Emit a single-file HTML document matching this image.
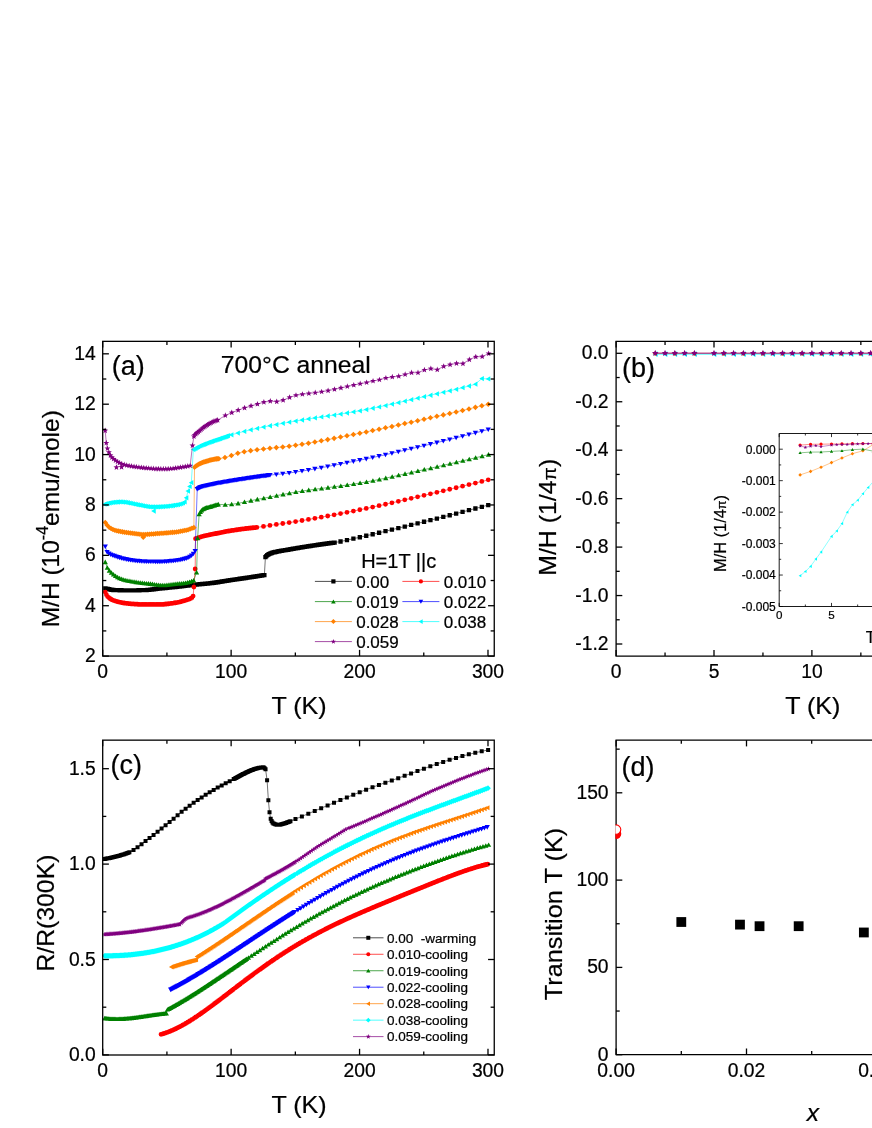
<!DOCTYPE html>
<html lang="en">
<head>
<meta charset="utf-8">
<title>Figure</title>
<style>
html,body{margin:0;padding:0;background:#fff;}
body{width:872px;height:1128px;overflow:hidden;font-family:"Liberation Sans",sans-serif;}
svg text{font-family:"Liberation Sans",sans-serif;stroke:#000;stroke-width:0.22px;}
svg{filter:blur(0.35px);}
</style>
</head>
<body>
<svg width="872" height="1128" viewBox="0 0 872 1128" style="display:block;font-family:'Liberation Sans', sans-serif">
<rect width="872" height="1128" fill="#fff"/>
<g id="pa">
<path d="M105.27 588.34L106.17 588.56L107.07 588.79L107.97 589.01L108.86 589.22L109.76 589.41L110.66 589.59L111.56 589.75L112.46 589.89L113.36 590L114.26 590.07L115.16 590.11L116.06 590.14L116.96 590.17L117.85 590.19L118.75 590.21L119.65 590.24L120.55 590.26L121.45 590.27L122.35 590.29L123.25 590.3L124.15 590.32L125.05 590.33L125.95 590.34L126.84 590.34L127.74 590.35L128.64 590.35L129.54 590.35L130.44 590.35L131.34 590.35L132.24 590.35L133.14 590.34L134.04 590.33L134.94 590.32L135.83 590.31L136.73 590.29L137.63 590.28L138.53 590.26L139.43 590.24L140.33 590.22L141.23 590.2L142.13 590.18L143.03 590.16L143.93 590.13L144.83 590.11L145.72 590.08L146.62 590.03L147.52 589.97L148.42 589.89L149.32 589.81L150.22 589.71L151.12 589.6L152.02 589.49L152.92 589.38L153.82 589.26L154.71 589.14L155.61 589.02L156.51 588.9L157.41 588.79L158.31 588.69L159.21 588.59L160.11 588.5L161.01 588.41L161.91 588.32L162.81 588.23L163.7 588.15L164.6 588.06L165.5 587.98L166.4 587.89L167.3 587.81L168.2 587.72L169.1 587.63L170 587.55L170.9 587.46L171.8 587.37L172.69 587.28L173.59 587.19L174.49 587.09L175.39 587L176.29 586.9L177.19 586.8L178.09 586.69L178.99 586.59L179.89 586.48L180.79 586.37L181.68 586.26L182.58 586.15L183.48 586.04L184.38 585.93L185.28 585.82L186.18 585.71L187.08 585.6L187.98 585.49L188.88 585.38L189.78 585.28L190.67 585.17L191.57 585.07L192.47 584.97L193.37 584.87L194.27 584.77L195.17 584.68L196.07 584.59L196.97 584.5L197.87 584.42L198.77 584.33L199.66 584.25L200.56 584.17L201.46 584.09L202.36 584.01L203.26 583.92L204.16 583.84L205.06 583.76L205.96 583.67L206.86 583.59L207.76 583.5L208.65 583.41L209.55 583.31L210.45 583.21L211.35 583.11L212.25 583L213.15 582.89L214.05 582.77L214.95 582.64L215.85 582.52L216.75 582.38L217.64 582.25L218.54 582.1L219.44 581.96L220.34 581.82L221.24 581.67L222.14 581.52L223.04 581.37L223.94 581.22L224.84 581.08L225.74 580.93L226.63 580.78L227.53 580.64L228.43 580.5L229.33 580.36L230.23 580.22L231.13 580.09L232.03 579.95L232.93 579.82L233.83 579.69L234.73 579.55L235.63 579.42L236.52 579.29L237.42 579.16L238.32 579.03L239.22 578.9L240.12 578.77L241.02 578.64L241.92 578.51L242.82 578.38L243.72 578.25L244.62 578.12L245.51 577.98L246.41 577.85L247.31 577.72L248.21 577.58L249.11 577.45L250.01 577.31L250.91 577.18L251.81 577.04L252.71 576.9L253.61 576.76L254.5 576.63L255.4 576.49L256.3 576.35L257.2 576.21L258.1 576.07L259 575.93L259.9 575.78L260.8 575.64L261.7 575.5L262.6 575.36L263.49 575.21L264.39 575.07L265.42 557.1L266.32 556.09L267.22 555.21L268.12 554.6L269.02 554.11L269.92 553.69L270.81 553.32L271.71 553L272.61 552.72L273.51 552.46L274.41 552.23L275.31 552L276.21 551.8L277.11 551.6L278.01 551.42L278.91 551.24L279.8 551.08L280.7 550.92L281.6 550.76L282.5 550.61L283.4 550.47L284.3 550.32L285.2 550.17L286.1 550.03L287 549.88L287.9 549.73L288.8 549.57L289.69 549.41L290.59 549.25L291.49 549.09L292.39 548.93L293.29 548.77L294.19 548.61L295.09 548.46L295.99 548.3L296.89 548.15L297.79 547.99L298.68 547.84L299.58 547.69L300.48 547.54L301.38 547.39L302.28 547.25L303.18 547.1L304.08 546.96L304.98 546.82L305.88 546.67L306.78 546.53L307.67 546.4L308.57 546.26L309.47 546.12L310.37 545.98L311.27 545.84L312.17 545.71L313.07 545.57L313.97 545.43L314.87 545.3L315.77 545.17L316.66 545.03L317.56 544.9L318.46 544.77L319.36 544.64L320.26 544.51L321.16 544.38L322.06 544.25L322.96 544.12L323.86 544L324.76 543.87L325.65 543.75L326.55 543.62L327.45 543.5L328.35 543.38L329.25 543.26L330.15 543.14L331.05 543.02L331.95 542.9L332.85 542.79L333.75 542.67L334.64 542.56L340.55 541.49L346.97 540.14L353.4 538.7L359.82 537.23L366.24 535.76L372.66 534.26L379.08 532.75L385.5 531.22L391.92 529.68L398.35 528.12L404.77 526.55L411.19 524.97L417.61 523.37L424.03 521.77L430.45 520.16L436.87 518.53L443.3 516.89L449.72 515.24L456.14 513.58L462.56 511.9L468.98 510.21L475.4 508.51L481.83 506.79L488.25 505.06" fill="none" stroke="#000000" stroke-width="0.55" />
<path d="M103.12 586.19h4.3v4.3h-4.3zM104.02 586.41h4.3v4.3h-4.3zM104.92 586.64h4.3v4.3h-4.3zM105.82 586.86h4.3v4.3h-4.3zM106.71 587.07h4.3v4.3h-4.3zM107.61 587.26h4.3v4.3h-4.3zM108.51 587.44h4.3v4.3h-4.3zM109.41 587.6h4.3v4.3h-4.3zM110.31 587.74h4.3v4.3h-4.3zM111.21 587.85h4.3v4.3h-4.3zM112.11 587.92h4.3v4.3h-4.3zM113.01 587.96h4.3v4.3h-4.3zM113.91 587.99h4.3v4.3h-4.3zM114.81 588.02h4.3v4.3h-4.3zM115.7 588.04h4.3v4.3h-4.3zM116.6 588.06h4.3v4.3h-4.3zM117.5 588.09h4.3v4.3h-4.3zM118.4 588.11h4.3v4.3h-4.3zM119.3 588.12h4.3v4.3h-4.3zM120.2 588.14h4.3v4.3h-4.3zM121.1 588.15h4.3v4.3h-4.3zM122 588.17h4.3v4.3h-4.3zM122.9 588.18h4.3v4.3h-4.3zM123.8 588.19h4.3v4.3h-4.3zM124.69 588.19h4.3v4.3h-4.3zM125.59 588.2h4.3v4.3h-4.3zM126.49 588.2h4.3v4.3h-4.3zM127.39 588.2h4.3v4.3h-4.3zM128.29 588.2h4.3v4.3h-4.3zM129.19 588.2h4.3v4.3h-4.3zM130.09 588.2h4.3v4.3h-4.3zM130.99 588.19h4.3v4.3h-4.3zM131.89 588.18h4.3v4.3h-4.3zM132.79 588.17h4.3v4.3h-4.3zM133.68 588.16h4.3v4.3h-4.3zM134.58 588.14h4.3v4.3h-4.3zM135.48 588.13h4.3v4.3h-4.3zM136.38 588.11h4.3v4.3h-4.3zM137.28 588.09h4.3v4.3h-4.3zM138.18 588.07h4.3v4.3h-4.3zM139.08 588.05h4.3v4.3h-4.3zM139.98 588.03h4.3v4.3h-4.3zM140.88 588.01h4.3v4.3h-4.3zM141.78 587.98h4.3v4.3h-4.3zM142.68 587.96h4.3v4.3h-4.3zM143.57 587.93h4.3v4.3h-4.3zM144.47 587.88h4.3v4.3h-4.3zM145.37 587.82h4.3v4.3h-4.3zM146.27 587.74h4.3v4.3h-4.3zM147.17 587.66h4.3v4.3h-4.3zM148.07 587.56h4.3v4.3h-4.3zM148.97 587.45h4.3v4.3h-4.3zM149.87 587.34h4.3v4.3h-4.3zM150.77 587.23h4.3v4.3h-4.3zM151.67 587.11h4.3v4.3h-4.3zM152.56 586.99h4.3v4.3h-4.3zM153.46 586.87h4.3v4.3h-4.3zM154.36 586.75h4.3v4.3h-4.3zM155.26 586.64h4.3v4.3h-4.3zM156.16 586.54h4.3v4.3h-4.3zM157.06 586.44h4.3v4.3h-4.3zM157.96 586.35h4.3v4.3h-4.3zM158.86 586.26h4.3v4.3h-4.3zM159.76 586.17h4.3v4.3h-4.3zM160.66 586.08h4.3v4.3h-4.3zM161.55 586h4.3v4.3h-4.3zM162.45 585.91h4.3v4.3h-4.3zM163.35 585.83h4.3v4.3h-4.3zM164.25 585.74h4.3v4.3h-4.3zM165.15 585.66h4.3v4.3h-4.3zM166.05 585.57h4.3v4.3h-4.3zM166.95 585.48h4.3v4.3h-4.3zM167.85 585.4h4.3v4.3h-4.3zM168.75 585.31h4.3v4.3h-4.3zM169.65 585.22h4.3v4.3h-4.3zM170.54 585.13h4.3v4.3h-4.3zM171.44 585.04h4.3v4.3h-4.3zM172.34 584.94h4.3v4.3h-4.3zM173.24 584.85h4.3v4.3h-4.3zM174.14 584.75h4.3v4.3h-4.3zM175.04 584.65h4.3v4.3h-4.3zM175.94 584.54h4.3v4.3h-4.3zM176.84 584.44h4.3v4.3h-4.3zM177.74 584.33h4.3v4.3h-4.3zM178.64 584.22h4.3v4.3h-4.3zM179.53 584.11h4.3v4.3h-4.3zM180.43 584h4.3v4.3h-4.3zM181.33 583.89h4.3v4.3h-4.3zM182.23 583.78h4.3v4.3h-4.3zM183.13 583.67h4.3v4.3h-4.3zM184.03 583.56h4.3v4.3h-4.3zM184.93 583.45h4.3v4.3h-4.3zM185.83 583.34h4.3v4.3h-4.3zM186.73 583.23h4.3v4.3h-4.3zM187.63 583.13h4.3v4.3h-4.3zM188.52 583.02h4.3v4.3h-4.3zM189.42 582.92h4.3v4.3h-4.3zM190.32 582.82h4.3v4.3h-4.3zM191.22 582.72h4.3v4.3h-4.3zM192.12 582.62h4.3v4.3h-4.3zM193.02 582.53h4.3v4.3h-4.3zM193.92 582.44h4.3v4.3h-4.3zM194.82 582.35h4.3v4.3h-4.3zM195.72 582.27h4.3v4.3h-4.3zM196.62 582.18h4.3v4.3h-4.3zM197.51 582.1h4.3v4.3h-4.3zM198.41 582.02h4.3v4.3h-4.3zM199.31 581.94h4.3v4.3h-4.3zM200.21 581.86h4.3v4.3h-4.3zM201.11 581.77h4.3v4.3h-4.3zM202.01 581.69h4.3v4.3h-4.3zM202.91 581.61h4.3v4.3h-4.3zM203.81 581.52h4.3v4.3h-4.3zM204.71 581.44h4.3v4.3h-4.3zM205.61 581.35h4.3v4.3h-4.3zM206.5 581.26h4.3v4.3h-4.3zM207.4 581.16h4.3v4.3h-4.3zM208.3 581.06h4.3v4.3h-4.3zM209.2 580.96h4.3v4.3h-4.3zM210.1 580.85h4.3v4.3h-4.3zM211 580.74h4.3v4.3h-4.3zM211.9 580.62h4.3v4.3h-4.3zM212.8 580.49h4.3v4.3h-4.3zM213.7 580.37h4.3v4.3h-4.3zM214.6 580.23h4.3v4.3h-4.3zM215.49 580.1h4.3v4.3h-4.3zM216.39 579.95h4.3v4.3h-4.3zM217.29 579.81h4.3v4.3h-4.3zM218.19 579.67h4.3v4.3h-4.3zM219.09 579.52h4.3v4.3h-4.3zM219.99 579.37h4.3v4.3h-4.3zM220.89 579.22h4.3v4.3h-4.3zM221.79 579.07h4.3v4.3h-4.3zM222.69 578.93h4.3v4.3h-4.3zM223.59 578.78h4.3v4.3h-4.3zM224.48 578.63h4.3v4.3h-4.3zM225.38 578.49h4.3v4.3h-4.3zM226.28 578.35h4.3v4.3h-4.3zM227.18 578.21h4.3v4.3h-4.3zM228.08 578.07h4.3v4.3h-4.3zM228.98 577.94h4.3v4.3h-4.3zM229.88 577.8h4.3v4.3h-4.3zM230.78 577.67h4.3v4.3h-4.3zM231.68 577.54h4.3v4.3h-4.3zM232.58 577.4h4.3v4.3h-4.3zM233.48 577.27h4.3v4.3h-4.3zM234.37 577.14h4.3v4.3h-4.3zM235.27 577.01h4.3v4.3h-4.3zM236.17 576.88h4.3v4.3h-4.3zM237.07 576.75h4.3v4.3h-4.3zM237.97 576.62h4.3v4.3h-4.3zM238.87 576.49h4.3v4.3h-4.3zM239.77 576.36h4.3v4.3h-4.3zM240.67 576.23h4.3v4.3h-4.3zM241.57 576.1h4.3v4.3h-4.3zM242.47 575.97h4.3v4.3h-4.3zM243.36 575.83h4.3v4.3h-4.3zM244.26 575.7h4.3v4.3h-4.3zM245.16 575.57h4.3v4.3h-4.3zM246.06 575.43h4.3v4.3h-4.3zM246.96 575.3h4.3v4.3h-4.3zM247.86 575.16h4.3v4.3h-4.3zM248.76 575.03h4.3v4.3h-4.3zM249.66 574.89h4.3v4.3h-4.3zM250.56 574.75h4.3v4.3h-4.3zM251.46 574.61h4.3v4.3h-4.3zM252.35 574.48h4.3v4.3h-4.3zM253.25 574.34h4.3v4.3h-4.3zM254.15 574.2h4.3v4.3h-4.3zM255.05 574.06h4.3v4.3h-4.3zM255.95 573.92h4.3v4.3h-4.3zM256.85 573.78h4.3v4.3h-4.3zM257.75 573.63h4.3v4.3h-4.3zM258.65 573.49h4.3v4.3h-4.3zM259.55 573.35h4.3v4.3h-4.3zM260.45 573.21h4.3v4.3h-4.3zM261.34 573.06h4.3v4.3h-4.3zM262.24 572.92h4.3v4.3h-4.3zM263.27 554.95h4.3v4.3h-4.3zM264.17 553.94h4.3v4.3h-4.3zM265.07 553.06h4.3v4.3h-4.3zM265.97 552.45h4.3v4.3h-4.3zM266.87 551.96h4.3v4.3h-4.3zM267.77 551.54h4.3v4.3h-4.3zM268.66 551.17h4.3v4.3h-4.3zM269.56 550.85h4.3v4.3h-4.3zM270.46 550.57h4.3v4.3h-4.3zM271.36 550.31h4.3v4.3h-4.3zM272.26 550.08h4.3v4.3h-4.3zM273.16 549.85h4.3v4.3h-4.3zM274.06 549.65h4.3v4.3h-4.3zM274.96 549.45h4.3v4.3h-4.3zM275.86 549.27h4.3v4.3h-4.3zM276.76 549.09h4.3v4.3h-4.3zM277.65 548.93h4.3v4.3h-4.3zM278.55 548.77h4.3v4.3h-4.3zM279.45 548.61h4.3v4.3h-4.3zM280.35 548.46h4.3v4.3h-4.3zM281.25 548.32h4.3v4.3h-4.3zM282.15 548.17h4.3v4.3h-4.3zM283.05 548.02h4.3v4.3h-4.3zM283.95 547.88h4.3v4.3h-4.3zM284.85 547.73h4.3v4.3h-4.3zM285.75 547.58h4.3v4.3h-4.3zM286.65 547.42h4.3v4.3h-4.3zM287.54 547.26h4.3v4.3h-4.3zM288.44 547.1h4.3v4.3h-4.3zM289.34 546.94h4.3v4.3h-4.3zM290.24 546.78h4.3v4.3h-4.3zM291.14 546.62h4.3v4.3h-4.3zM292.04 546.46h4.3v4.3h-4.3zM292.94 546.31h4.3v4.3h-4.3zM293.84 546.15h4.3v4.3h-4.3zM294.74 546h4.3v4.3h-4.3zM295.64 545.84h4.3v4.3h-4.3zM296.53 545.69h4.3v4.3h-4.3zM297.43 545.54h4.3v4.3h-4.3zM298.33 545.39h4.3v4.3h-4.3zM299.23 545.24h4.3v4.3h-4.3zM300.13 545.1h4.3v4.3h-4.3zM301.03 544.95h4.3v4.3h-4.3zM301.93 544.81h4.3v4.3h-4.3zM302.83 544.67h4.3v4.3h-4.3zM303.73 544.52h4.3v4.3h-4.3zM304.63 544.38h4.3v4.3h-4.3zM305.52 544.25h4.3v4.3h-4.3zM306.42 544.11h4.3v4.3h-4.3zM307.32 543.97h4.3v4.3h-4.3zM308.22 543.83h4.3v4.3h-4.3zM309.12 543.69h4.3v4.3h-4.3zM310.02 543.56h4.3v4.3h-4.3zM310.92 543.42h4.3v4.3h-4.3zM311.82 543.28h4.3v4.3h-4.3zM312.72 543.15h4.3v4.3h-4.3zM313.62 543.02h4.3v4.3h-4.3zM314.51 542.88h4.3v4.3h-4.3zM315.41 542.75h4.3v4.3h-4.3zM316.31 542.62h4.3v4.3h-4.3zM317.21 542.49h4.3v4.3h-4.3zM318.11 542.36h4.3v4.3h-4.3zM319.01 542.23h4.3v4.3h-4.3zM319.91 542.1h4.3v4.3h-4.3zM320.81 541.97h4.3v4.3h-4.3zM321.71 541.85h4.3v4.3h-4.3zM322.61 541.72h4.3v4.3h-4.3zM323.5 541.6h4.3v4.3h-4.3zM324.4 541.47h4.3v4.3h-4.3zM325.3 541.35h4.3v4.3h-4.3zM326.2 541.23h4.3v4.3h-4.3zM327.1 541.11h4.3v4.3h-4.3zM328 540.99h4.3v4.3h-4.3zM328.9 540.87h4.3v4.3h-4.3zM329.8 540.75h4.3v4.3h-4.3zM330.7 540.64h4.3v4.3h-4.3zM331.6 540.52h4.3v4.3h-4.3zM332.49 540.41h4.3v4.3h-4.3zM338.4 539.34h4.3v4.3h-4.3zM344.82 537.99h4.3v4.3h-4.3zM351.25 536.55h4.3v4.3h-4.3zM357.67 535.08h4.3v4.3h-4.3zM364.09 533.61h4.3v4.3h-4.3zM370.51 532.11h4.3v4.3h-4.3zM376.93 530.6h4.3v4.3h-4.3zM383.35 529.07h4.3v4.3h-4.3zM389.77 527.53h4.3v4.3h-4.3zM396.2 525.97h4.3v4.3h-4.3zM402.62 524.4h4.3v4.3h-4.3zM409.04 522.82h4.3v4.3h-4.3zM415.46 521.22h4.3v4.3h-4.3zM421.88 519.62h4.3v4.3h-4.3zM428.3 518.01h4.3v4.3h-4.3zM434.72 516.38h4.3v4.3h-4.3zM441.15 514.74h4.3v4.3h-4.3zM447.57 513.09h4.3v4.3h-4.3zM453.99 511.43h4.3v4.3h-4.3zM460.41 509.75h4.3v4.3h-4.3zM466.83 508.06h4.3v4.3h-4.3zM473.25 506.36h4.3v4.3h-4.3zM479.68 504.64h4.3v4.3h-4.3zM486.1 502.91h4.3v4.3h-4.3z" fill="#000000" />
<path d="M105.27 592.12L106.42 594.73L107.58 596.53L108.74 597.61L109.89 598.51L111.05 599.26L112.2 599.89L113.36 600.4L114.52 600.81L115.67 601.16L116.83 601.49L117.98 601.79L119.14 602.08L120.29 602.34L121.45 602.58L122.61 602.8L123.76 603L124.92 603.17L126.07 603.33L127.23 603.47L128.39 603.59L129.54 603.69L130.7 603.78L131.85 603.87L133.01 603.96L134.17 604.04L135.32 604.11L136.48 604.18L137.63 604.25L138.79 604.3L139.94 604.35L141.1 604.39L142.26 604.43L143.41 604.45L144.57 604.46L145.72 604.46L146.88 604.46L148.04 604.46L149.19 604.46L150.35 604.46L151.5 604.46L152.66 604.46L153.82 604.46L154.97 604.46L156.13 604.46L157.28 604.46L158.44 604.46L159.59 604.46L160.75 604.44L161.91 604.39L163.06 604.33L164.22 604.24L165.37 604.14L166.53 604.02L167.69 603.89L168.84 603.75L170 603.6L171.15 603.44L172.31 603.28L173.46 603.11L174.62 602.95L175.78 602.77L176.93 602.57L178.09 602.34L179.24 602.08L180.4 601.81L181.56 601.52L182.71 601.2L183.87 600.88L185.02 600.53L186.18 600.18L187.34 599.83L188.49 599.46L189.65 599.03L190.8 598.47L191.96 597.69L193.11 596.09L193.89 587.08L195.17 568.94L195.55 538.71L196.71 538.31L197.87 537.91L199.02 537.53L200.18 537.15L201.33 536.8L202.49 536.46L203.65 536.14L204.8 535.85L205.96 535.57L207.11 535.31L208.27 535.06L209.43 534.82L210.58 534.58L211.74 534.36L212.89 534.14L214.05 533.92L215.2 533.7L216.36 533.49L217.52 533.27L218.67 533.05L219.83 532.82L220.98 532.58L222.14 532.35L223.3 532.11L224.45 531.87L225.61 531.64L226.76 531.42L227.92 531.21L229.08 531.01L230.23 530.82L231.39 530.64L232.54 530.46L233.7 530.28L234.85 530.11L236.01 529.93L237.17 529.76L238.32 529.59L239.48 529.43L240.63 529.27L241.79 529.11L242.95 528.95L244.1 528.8L245.26 528.65L246.41 528.51L247.57 528.37L248.72 528.23L249.88 528.1L251.04 527.98L252.19 527.86L253.35 527.74L254.5 527.63L255.66 527.53L256.82 527.43L263.49 526.37L269.92 525.39L276.34 524.45L282.76 523.53L289.18 522.59L295.6 521.59L302.02 520.52L308.44 519.43L314.87 518.32L321.29 517.17L327.71 516L334.13 514.8L340.55 513.58L346.97 512.33L353.4 511.06L359.82 509.77L366.24 508.45L372.66 507.08L379.08 505.68L385.5 504.25L391.92 502.79L398.35 501.32L404.77 499.82L411.19 498.33L417.61 496.83L424.03 495.33L430.45 493.83L436.87 492.32L443.3 490.8L449.72 489.27L456.14 487.73L462.56 486.17L468.98 484.61L475.4 483.04L481.83 481.46L488.25 479.87" fill="none" stroke="#ff0000" stroke-width="0.55" />
<path d="M102.87 592.12a2.4 2.4 0 1 0 4.8 0a2.4 2.4 0 1 0 -4.8 0zM104.02 594.73a2.4 2.4 0 1 0 4.8 0a2.4 2.4 0 1 0 -4.8 0zM105.18 596.53a2.4 2.4 0 1 0 4.8 0a2.4 2.4 0 1 0 -4.8 0zM106.34 597.61a2.4 2.4 0 1 0 4.8 0a2.4 2.4 0 1 0 -4.8 0zM107.49 598.51a2.4 2.4 0 1 0 4.8 0a2.4 2.4 0 1 0 -4.8 0zM108.65 599.26a2.4 2.4 0 1 0 4.8 0a2.4 2.4 0 1 0 -4.8 0zM109.8 599.89a2.4 2.4 0 1 0 4.8 0a2.4 2.4 0 1 0 -4.8 0zM110.96 600.4a2.4 2.4 0 1 0 4.8 0a2.4 2.4 0 1 0 -4.8 0zM112.12 600.81a2.4 2.4 0 1 0 4.8 0a2.4 2.4 0 1 0 -4.8 0zM113.27 601.16a2.4 2.4 0 1 0 4.8 0a2.4 2.4 0 1 0 -4.8 0zM114.43 601.49a2.4 2.4 0 1 0 4.8 0a2.4 2.4 0 1 0 -4.8 0zM115.58 601.79a2.4 2.4 0 1 0 4.8 0a2.4 2.4 0 1 0 -4.8 0zM116.74 602.08a2.4 2.4 0 1 0 4.8 0a2.4 2.4 0 1 0 -4.8 0zM117.89 602.34a2.4 2.4 0 1 0 4.8 0a2.4 2.4 0 1 0 -4.8 0zM119.05 602.58a2.4 2.4 0 1 0 4.8 0a2.4 2.4 0 1 0 -4.8 0zM120.21 602.8a2.4 2.4 0 1 0 4.8 0a2.4 2.4 0 1 0 -4.8 0zM121.36 603a2.4 2.4 0 1 0 4.8 0a2.4 2.4 0 1 0 -4.8 0zM122.52 603.17a2.4 2.4 0 1 0 4.8 0a2.4 2.4 0 1 0 -4.8 0zM123.67 603.33a2.4 2.4 0 1 0 4.8 0a2.4 2.4 0 1 0 -4.8 0zM124.83 603.47a2.4 2.4 0 1 0 4.8 0a2.4 2.4 0 1 0 -4.8 0zM125.99 603.59a2.4 2.4 0 1 0 4.8 0a2.4 2.4 0 1 0 -4.8 0zM127.14 603.69a2.4 2.4 0 1 0 4.8 0a2.4 2.4 0 1 0 -4.8 0zM128.3 603.78a2.4 2.4 0 1 0 4.8 0a2.4 2.4 0 1 0 -4.8 0zM129.45 603.87a2.4 2.4 0 1 0 4.8 0a2.4 2.4 0 1 0 -4.8 0zM130.61 603.96a2.4 2.4 0 1 0 4.8 0a2.4 2.4 0 1 0 -4.8 0zM131.77 604.04a2.4 2.4 0 1 0 4.8 0a2.4 2.4 0 1 0 -4.8 0zM132.92 604.11a2.4 2.4 0 1 0 4.8 0a2.4 2.4 0 1 0 -4.8 0zM134.08 604.18a2.4 2.4 0 1 0 4.8 0a2.4 2.4 0 1 0 -4.8 0zM135.23 604.25a2.4 2.4 0 1 0 4.8 0a2.4 2.4 0 1 0 -4.8 0zM136.39 604.3a2.4 2.4 0 1 0 4.8 0a2.4 2.4 0 1 0 -4.8 0zM137.54 604.35a2.4 2.4 0 1 0 4.8 0a2.4 2.4 0 1 0 -4.8 0zM138.7 604.39a2.4 2.4 0 1 0 4.8 0a2.4 2.4 0 1 0 -4.8 0zM139.86 604.43a2.4 2.4 0 1 0 4.8 0a2.4 2.4 0 1 0 -4.8 0zM141.01 604.45a2.4 2.4 0 1 0 4.8 0a2.4 2.4 0 1 0 -4.8 0zM142.17 604.46a2.4 2.4 0 1 0 4.8 0a2.4 2.4 0 1 0 -4.8 0zM143.32 604.46a2.4 2.4 0 1 0 4.8 0a2.4 2.4 0 1 0 -4.8 0zM144.48 604.46a2.4 2.4 0 1 0 4.8 0a2.4 2.4 0 1 0 -4.8 0zM145.64 604.46a2.4 2.4 0 1 0 4.8 0a2.4 2.4 0 1 0 -4.8 0zM146.79 604.46a2.4 2.4 0 1 0 4.8 0a2.4 2.4 0 1 0 -4.8 0zM147.95 604.46a2.4 2.4 0 1 0 4.8 0a2.4 2.4 0 1 0 -4.8 0zM149.1 604.46a2.4 2.4 0 1 0 4.8 0a2.4 2.4 0 1 0 -4.8 0zM150.26 604.46a2.4 2.4 0 1 0 4.8 0a2.4 2.4 0 1 0 -4.8 0zM151.42 604.46a2.4 2.4 0 1 0 4.8 0a2.4 2.4 0 1 0 -4.8 0zM152.57 604.46a2.4 2.4 0 1 0 4.8 0a2.4 2.4 0 1 0 -4.8 0zM153.73 604.46a2.4 2.4 0 1 0 4.8 0a2.4 2.4 0 1 0 -4.8 0zM154.88 604.46a2.4 2.4 0 1 0 4.8 0a2.4 2.4 0 1 0 -4.8 0zM156.04 604.46a2.4 2.4 0 1 0 4.8 0a2.4 2.4 0 1 0 -4.8 0zM157.19 604.46a2.4 2.4 0 1 0 4.8 0a2.4 2.4 0 1 0 -4.8 0zM158.35 604.44a2.4 2.4 0 1 0 4.8 0a2.4 2.4 0 1 0 -4.8 0zM159.51 604.39a2.4 2.4 0 1 0 4.8 0a2.4 2.4 0 1 0 -4.8 0zM160.66 604.33a2.4 2.4 0 1 0 4.8 0a2.4 2.4 0 1 0 -4.8 0zM161.82 604.24a2.4 2.4 0 1 0 4.8 0a2.4 2.4 0 1 0 -4.8 0zM162.97 604.14a2.4 2.4 0 1 0 4.8 0a2.4 2.4 0 1 0 -4.8 0zM164.13 604.02a2.4 2.4 0 1 0 4.8 0a2.4 2.4 0 1 0 -4.8 0zM165.29 603.89a2.4 2.4 0 1 0 4.8 0a2.4 2.4 0 1 0 -4.8 0zM166.44 603.75a2.4 2.4 0 1 0 4.8 0a2.4 2.4 0 1 0 -4.8 0zM167.6 603.6a2.4 2.4 0 1 0 4.8 0a2.4 2.4 0 1 0 -4.8 0zM168.75 603.44a2.4 2.4 0 1 0 4.8 0a2.4 2.4 0 1 0 -4.8 0zM169.91 603.28a2.4 2.4 0 1 0 4.8 0a2.4 2.4 0 1 0 -4.8 0zM171.06 603.11a2.4 2.4 0 1 0 4.8 0a2.4 2.4 0 1 0 -4.8 0zM172.22 602.95a2.4 2.4 0 1 0 4.8 0a2.4 2.4 0 1 0 -4.8 0zM173.38 602.77a2.4 2.4 0 1 0 4.8 0a2.4 2.4 0 1 0 -4.8 0zM174.53 602.57a2.4 2.4 0 1 0 4.8 0a2.4 2.4 0 1 0 -4.8 0zM175.69 602.34a2.4 2.4 0 1 0 4.8 0a2.4 2.4 0 1 0 -4.8 0zM176.84 602.08a2.4 2.4 0 1 0 4.8 0a2.4 2.4 0 1 0 -4.8 0zM178 601.81a2.4 2.4 0 1 0 4.8 0a2.4 2.4 0 1 0 -4.8 0zM179.16 601.52a2.4 2.4 0 1 0 4.8 0a2.4 2.4 0 1 0 -4.8 0zM180.31 601.2a2.4 2.4 0 1 0 4.8 0a2.4 2.4 0 1 0 -4.8 0zM181.47 600.88a2.4 2.4 0 1 0 4.8 0a2.4 2.4 0 1 0 -4.8 0zM182.62 600.53a2.4 2.4 0 1 0 4.8 0a2.4 2.4 0 1 0 -4.8 0zM183.78 600.18a2.4 2.4 0 1 0 4.8 0a2.4 2.4 0 1 0 -4.8 0zM184.94 599.83a2.4 2.4 0 1 0 4.8 0a2.4 2.4 0 1 0 -4.8 0zM186.09 599.46a2.4 2.4 0 1 0 4.8 0a2.4 2.4 0 1 0 -4.8 0zM187.25 599.03a2.4 2.4 0 1 0 4.8 0a2.4 2.4 0 1 0 -4.8 0zM188.4 598.47a2.4 2.4 0 1 0 4.8 0a2.4 2.4 0 1 0 -4.8 0zM189.56 597.69a2.4 2.4 0 1 0 4.8 0a2.4 2.4 0 1 0 -4.8 0zM190.71 596.09a2.4 2.4 0 1 0 4.8 0a2.4 2.4 0 1 0 -4.8 0zM191.49 587.08a2.4 2.4 0 1 0 4.8 0a2.4 2.4 0 1 0 -4.8 0zM192.77 568.94a2.4 2.4 0 1 0 4.8 0a2.4 2.4 0 1 0 -4.8 0zM193.15 538.71a2.4 2.4 0 1 0 4.8 0a2.4 2.4 0 1 0 -4.8 0zM194.31 538.31a2.4 2.4 0 1 0 4.8 0a2.4 2.4 0 1 0 -4.8 0zM195.47 537.91a2.4 2.4 0 1 0 4.8 0a2.4 2.4 0 1 0 -4.8 0zM196.62 537.53a2.4 2.4 0 1 0 4.8 0a2.4 2.4 0 1 0 -4.8 0zM197.78 537.15a2.4 2.4 0 1 0 4.8 0a2.4 2.4 0 1 0 -4.8 0zM198.93 536.8a2.4 2.4 0 1 0 4.8 0a2.4 2.4 0 1 0 -4.8 0zM200.09 536.46a2.4 2.4 0 1 0 4.8 0a2.4 2.4 0 1 0 -4.8 0zM201.25 536.14a2.4 2.4 0 1 0 4.8 0a2.4 2.4 0 1 0 -4.8 0zM202.4 535.85a2.4 2.4 0 1 0 4.8 0a2.4 2.4 0 1 0 -4.8 0zM203.56 535.57a2.4 2.4 0 1 0 4.8 0a2.4 2.4 0 1 0 -4.8 0zM204.71 535.31a2.4 2.4 0 1 0 4.8 0a2.4 2.4 0 1 0 -4.8 0zM205.87 535.06a2.4 2.4 0 1 0 4.8 0a2.4 2.4 0 1 0 -4.8 0zM207.03 534.82a2.4 2.4 0 1 0 4.8 0a2.4 2.4 0 1 0 -4.8 0zM208.18 534.58a2.4 2.4 0 1 0 4.8 0a2.4 2.4 0 1 0 -4.8 0zM209.34 534.36a2.4 2.4 0 1 0 4.8 0a2.4 2.4 0 1 0 -4.8 0zM210.49 534.14a2.4 2.4 0 1 0 4.8 0a2.4 2.4 0 1 0 -4.8 0zM211.65 533.92a2.4 2.4 0 1 0 4.8 0a2.4 2.4 0 1 0 -4.8 0zM212.8 533.7a2.4 2.4 0 1 0 4.8 0a2.4 2.4 0 1 0 -4.8 0zM213.96 533.49a2.4 2.4 0 1 0 4.8 0a2.4 2.4 0 1 0 -4.8 0zM215.12 533.27a2.4 2.4 0 1 0 4.8 0a2.4 2.4 0 1 0 -4.8 0zM216.27 533.05a2.4 2.4 0 1 0 4.8 0a2.4 2.4 0 1 0 -4.8 0zM217.43 532.82a2.4 2.4 0 1 0 4.8 0a2.4 2.4 0 1 0 -4.8 0zM218.58 532.58a2.4 2.4 0 1 0 4.8 0a2.4 2.4 0 1 0 -4.8 0zM219.74 532.35a2.4 2.4 0 1 0 4.8 0a2.4 2.4 0 1 0 -4.8 0zM220.9 532.11a2.4 2.4 0 1 0 4.8 0a2.4 2.4 0 1 0 -4.8 0zM222.05 531.87a2.4 2.4 0 1 0 4.8 0a2.4 2.4 0 1 0 -4.8 0zM223.21 531.64a2.4 2.4 0 1 0 4.8 0a2.4 2.4 0 1 0 -4.8 0zM224.36 531.42a2.4 2.4 0 1 0 4.8 0a2.4 2.4 0 1 0 -4.8 0zM225.52 531.21a2.4 2.4 0 1 0 4.8 0a2.4 2.4 0 1 0 -4.8 0zM226.68 531.01a2.4 2.4 0 1 0 4.8 0a2.4 2.4 0 1 0 -4.8 0zM227.83 530.82a2.4 2.4 0 1 0 4.8 0a2.4 2.4 0 1 0 -4.8 0zM228.99 530.64a2.4 2.4 0 1 0 4.8 0a2.4 2.4 0 1 0 -4.8 0zM230.14 530.46a2.4 2.4 0 1 0 4.8 0a2.4 2.4 0 1 0 -4.8 0zM231.3 530.28a2.4 2.4 0 1 0 4.8 0a2.4 2.4 0 1 0 -4.8 0zM232.45 530.11a2.4 2.4 0 1 0 4.8 0a2.4 2.4 0 1 0 -4.8 0zM233.61 529.93a2.4 2.4 0 1 0 4.8 0a2.4 2.4 0 1 0 -4.8 0zM234.77 529.76a2.4 2.4 0 1 0 4.8 0a2.4 2.4 0 1 0 -4.8 0zM235.92 529.59a2.4 2.4 0 1 0 4.8 0a2.4 2.4 0 1 0 -4.8 0zM237.08 529.43a2.4 2.4 0 1 0 4.8 0a2.4 2.4 0 1 0 -4.8 0zM238.23 529.27a2.4 2.4 0 1 0 4.8 0a2.4 2.4 0 1 0 -4.8 0zM239.39 529.11a2.4 2.4 0 1 0 4.8 0a2.4 2.4 0 1 0 -4.8 0zM240.55 528.95a2.4 2.4 0 1 0 4.8 0a2.4 2.4 0 1 0 -4.8 0zM241.7 528.8a2.4 2.4 0 1 0 4.8 0a2.4 2.4 0 1 0 -4.8 0zM242.86 528.65a2.4 2.4 0 1 0 4.8 0a2.4 2.4 0 1 0 -4.8 0zM244.01 528.51a2.4 2.4 0 1 0 4.8 0a2.4 2.4 0 1 0 -4.8 0zM245.17 528.37a2.4 2.4 0 1 0 4.8 0a2.4 2.4 0 1 0 -4.8 0zM246.32 528.23a2.4 2.4 0 1 0 4.8 0a2.4 2.4 0 1 0 -4.8 0zM247.48 528.1a2.4 2.4 0 1 0 4.8 0a2.4 2.4 0 1 0 -4.8 0zM248.64 527.98a2.4 2.4 0 1 0 4.8 0a2.4 2.4 0 1 0 -4.8 0zM249.79 527.86a2.4 2.4 0 1 0 4.8 0a2.4 2.4 0 1 0 -4.8 0zM250.95 527.74a2.4 2.4 0 1 0 4.8 0a2.4 2.4 0 1 0 -4.8 0zM252.1 527.63a2.4 2.4 0 1 0 4.8 0a2.4 2.4 0 1 0 -4.8 0zM253.26 527.53a2.4 2.4 0 1 0 4.8 0a2.4 2.4 0 1 0 -4.8 0zM254.42 527.43a2.4 2.4 0 1 0 4.8 0a2.4 2.4 0 1 0 -4.8 0zM261.09 526.37a2.4 2.4 0 1 0 4.8 0a2.4 2.4 0 1 0 -4.8 0zM267.52 525.39a2.4 2.4 0 1 0 4.8 0a2.4 2.4 0 1 0 -4.8 0zM273.94 524.45a2.4 2.4 0 1 0 4.8 0a2.4 2.4 0 1 0 -4.8 0zM280.36 523.53a2.4 2.4 0 1 0 4.8 0a2.4 2.4 0 1 0 -4.8 0zM286.78 522.59a2.4 2.4 0 1 0 4.8 0a2.4 2.4 0 1 0 -4.8 0zM293.2 521.59a2.4 2.4 0 1 0 4.8 0a2.4 2.4 0 1 0 -4.8 0zM299.62 520.52a2.4 2.4 0 1 0 4.8 0a2.4 2.4 0 1 0 -4.8 0zM306.04 519.43a2.4 2.4 0 1 0 4.8 0a2.4 2.4 0 1 0 -4.8 0zM312.47 518.32a2.4 2.4 0 1 0 4.8 0a2.4 2.4 0 1 0 -4.8 0zM318.89 517.17a2.4 2.4 0 1 0 4.8 0a2.4 2.4 0 1 0 -4.8 0zM325.31 516a2.4 2.4 0 1 0 4.8 0a2.4 2.4 0 1 0 -4.8 0zM331.73 514.8a2.4 2.4 0 1 0 4.8 0a2.4 2.4 0 1 0 -4.8 0zM338.15 513.58a2.4 2.4 0 1 0 4.8 0a2.4 2.4 0 1 0 -4.8 0zM344.57 512.33a2.4 2.4 0 1 0 4.8 0a2.4 2.4 0 1 0 -4.8 0zM351 511.06a2.4 2.4 0 1 0 4.8 0a2.4 2.4 0 1 0 -4.8 0zM357.42 509.77a2.4 2.4 0 1 0 4.8 0a2.4 2.4 0 1 0 -4.8 0zM363.84 508.45a2.4 2.4 0 1 0 4.8 0a2.4 2.4 0 1 0 -4.8 0zM370.26 507.08a2.4 2.4 0 1 0 4.8 0a2.4 2.4 0 1 0 -4.8 0zM376.68 505.68a2.4 2.4 0 1 0 4.8 0a2.4 2.4 0 1 0 -4.8 0zM383.1 504.25a2.4 2.4 0 1 0 4.8 0a2.4 2.4 0 1 0 -4.8 0zM389.52 502.79a2.4 2.4 0 1 0 4.8 0a2.4 2.4 0 1 0 -4.8 0zM395.95 501.32a2.4 2.4 0 1 0 4.8 0a2.4 2.4 0 1 0 -4.8 0zM402.37 499.82a2.4 2.4 0 1 0 4.8 0a2.4 2.4 0 1 0 -4.8 0zM408.79 498.33a2.4 2.4 0 1 0 4.8 0a2.4 2.4 0 1 0 -4.8 0zM415.21 496.83a2.4 2.4 0 1 0 4.8 0a2.4 2.4 0 1 0 -4.8 0zM421.63 495.33a2.4 2.4 0 1 0 4.8 0a2.4 2.4 0 1 0 -4.8 0zM428.05 493.83a2.4 2.4 0 1 0 4.8 0a2.4 2.4 0 1 0 -4.8 0zM434.47 492.32a2.4 2.4 0 1 0 4.8 0a2.4 2.4 0 1 0 -4.8 0zM440.9 490.8a2.4 2.4 0 1 0 4.8 0a2.4 2.4 0 1 0 -4.8 0zM447.32 489.27a2.4 2.4 0 1 0 4.8 0a2.4 2.4 0 1 0 -4.8 0zM453.74 487.73a2.4 2.4 0 1 0 4.8 0a2.4 2.4 0 1 0 -4.8 0zM460.16 486.17a2.4 2.4 0 1 0 4.8 0a2.4 2.4 0 1 0 -4.8 0zM466.58 484.61a2.4 2.4 0 1 0 4.8 0a2.4 2.4 0 1 0 -4.8 0zM473 483.04a2.4 2.4 0 1 0 4.8 0a2.4 2.4 0 1 0 -4.8 0zM479.43 481.46a2.4 2.4 0 1 0 4.8 0a2.4 2.4 0 1 0 -4.8 0zM485.85 479.87a2.4 2.4 0 1 0 4.8 0a2.4 2.4 0 1 0 -4.8 0z" fill="#ff0000" />
<path d="M105.27 562.14L107.32 567.72L109.38 570.63L111.43 572.81L113.49 574.5L115.54 575.92L117.6 577.17L119.65 578.23L121.71 579.06L123.76 579.68L125.82 580.21L127.87 580.67L129.93 581.08L131.98 581.45L134.04 581.78L136.09 582.1L138.15 582.41L140.2 582.69L142.26 582.94L144.31 583.18L146.37 583.41L148.42 583.63L150.48 583.86L152.53 584.1L154.59 584.4L156.64 584.73L158.7 585.03L160.75 585.25L162.81 585.31L164.86 585.23L166.92 585.05L168.97 584.8L171.02 584.51L173.08 584.24L175.13 584L177.19 583.81L179.24 583.62L181.3 583.43L183.35 583.2L185.41 582.92L187.46 582.54L189.52 582L191.57 581.31L193.63 580.52L196.58 572.47L197.61 538.21L199.15 514.28L200.31 512.01L201.59 510.41L202.88 509.24L204.16 508.59L205.44 508.06L206.73 507.63L208.01 507.26L209.3 506.92L210.58 506.59L211.87 506.22L213.15 505.83L214.43 505.45L215.72 505.08L217 504.72L218.29 504.37L225.22 504.71L231.64 504.33L238.07 503.37L244.49 502.06L250.91 500.64L257.33 499.37L263.75 498.19L270.17 496.93L276.59 495.65L283.02 494.39L289.44 493.18L295.86 492.07L302.28 491.07L308.7 490.14L315.12 489.26L321.54 488.42L327.97 487.59L334.39 486.76L340.81 485.91L347.23 485.02L353.65 484.06L360.07 483.02L366.5 481.9L372.92 480.69L379.34 479.42L385.76 478.09L392.18 476.71L398.6 475.31L405.02 473.88L411.45 472.44L417.87 471L424.29 469.58L430.71 468.16L437.13 466.71L443.55 465.26L449.97 463.78L456.4 462.29L462.82 460.79L469.24 459.27L475.66 457.73L482.08 456.18L488.5 454.61" fill="none" stroke="#008000" stroke-width="0.55" />
<path d="M105.27 559.62L107.91 564.18L102.63 564.18zM107.32 565.2L109.96 569.76L104.68 569.76zM109.38 568.11L112.02 572.67L106.74 572.67zM111.43 570.29L114.07 574.85L108.79 574.85zM113.49 571.98L116.13 576.54L110.85 576.54zM115.54 573.4L118.18 577.96L112.9 577.96zM117.6 574.65L120.24 579.21L114.96 579.21zM119.65 575.71L122.29 580.27L117.01 580.27zM121.71 576.54L124.35 581.1L119.07 581.1zM123.76 577.16L126.4 581.72L121.12 581.72zM125.82 577.69L128.46 582.25L123.18 582.25zM127.87 578.15L130.51 582.71L125.23 582.71zM129.93 578.56L132.57 583.12L127.29 583.12zM131.98 578.93L134.62 583.49L129.34 583.49zM134.04 579.26L136.68 583.82L131.4 583.82zM136.09 579.58L138.73 584.14L133.45 584.14zM138.15 579.89L140.79 584.45L135.51 584.45zM140.2 580.17L142.84 584.73L137.56 584.73zM142.26 580.42L144.9 584.98L139.62 584.98zM144.31 580.66L146.95 585.22L141.67 585.22zM146.37 580.89L149.01 585.45L143.73 585.45zM148.42 581.11L151.06 585.67L145.78 585.67zM150.48 581.34L153.12 585.9L147.84 585.9zM152.53 581.58L155.17 586.14L149.89 586.14zM154.59 581.88L157.23 586.44L151.95 586.44zM156.64 582.21L159.28 586.77L154 586.77zM158.7 582.51L161.34 587.07L156.06 587.07zM160.75 582.73L163.39 587.29L158.11 587.29zM162.81 582.79L165.45 587.35L160.17 587.35zM164.86 582.71L167.5 587.27L162.22 587.27zM166.92 582.53L169.56 587.09L164.28 587.09zM168.97 582.28L171.61 586.84L166.33 586.84zM171.02 581.99L173.66 586.55L168.38 586.55zM173.08 581.72L175.72 586.28L170.44 586.28zM175.13 581.48L177.77 586.04L172.49 586.04zM177.19 581.29L179.83 585.85L174.55 585.85zM179.24 581.1L181.88 585.66L176.6 585.66zM181.3 580.91L183.94 585.47L178.66 585.47zM183.35 580.68L185.99 585.24L180.71 585.24zM185.41 580.4L188.05 584.96L182.77 584.96zM187.46 580.02L190.1 584.58L184.82 584.58zM189.52 579.48L192.16 584.04L186.88 584.04zM191.57 578.79L194.21 583.35L188.93 583.35zM193.63 578L196.27 582.56L190.99 582.56zM196.58 569.95L199.22 574.51L193.94 574.51zM197.61 535.69L200.25 540.25L194.97 540.25zM199.15 511.76L201.79 516.32L196.51 516.32zM200.31 509.49L202.95 514.05L197.67 514.05zM201.59 507.89L204.23 512.45L198.95 512.45zM202.88 506.72L205.52 511.28L200.24 511.28zM204.16 506.07L206.8 510.63L201.52 510.63zM205.44 505.54L208.08 510.1L202.8 510.1zM206.73 505.11L209.37 509.67L204.09 509.67zM208.01 504.74L210.65 509.3L205.37 509.3zM209.3 504.4L211.94 508.96L206.66 508.96zM210.58 504.07L213.22 508.63L207.94 508.63zM211.87 503.7L214.51 508.26L209.23 508.26zM213.15 503.31L215.79 507.87L210.51 507.87zM214.43 502.93L217.07 507.49L211.79 507.49zM215.72 502.56L218.36 507.12L213.08 507.12zM217 502.2L219.64 506.76L214.36 506.76zM218.29 501.85L220.93 506.41L215.65 506.41zM225.22 502.19L227.86 506.75L222.58 506.75zM231.64 501.81L234.28 506.37L229 506.37zM238.07 500.85L240.71 505.41L235.43 505.41zM244.49 499.54L247.13 504.1L241.85 504.1zM250.91 498.12L253.55 502.68L248.27 502.68zM257.33 496.85L259.97 501.41L254.69 501.41zM263.75 495.67L266.39 500.23L261.11 500.23zM270.17 494.41L272.81 498.97L267.53 498.97zM276.59 493.13L279.23 497.69L273.95 497.69zM283.02 491.87L285.66 496.43L280.38 496.43zM289.44 490.66L292.08 495.22L286.8 495.22zM295.86 489.55L298.5 494.11L293.22 494.11zM302.28 488.55L304.92 493.11L299.64 493.11zM308.7 487.62L311.34 492.18L306.06 492.18zM315.12 486.74L317.76 491.3L312.48 491.3zM321.54 485.9L324.18 490.46L318.9 490.46zM327.97 485.07L330.61 489.63L325.33 489.63zM334.39 484.24L337.03 488.8L331.75 488.8zM340.81 483.39L343.45 487.95L338.17 487.95zM347.23 482.5L349.87 487.06L344.59 487.06zM353.65 481.54L356.29 486.1L351.01 486.1zM360.07 480.5L362.71 485.06L357.43 485.06zM366.5 479.38L369.14 483.94L363.86 483.94zM372.92 478.17L375.56 482.73L370.28 482.73zM379.34 476.9L381.98 481.46L376.7 481.46zM385.76 475.57L388.4 480.13L383.12 480.13zM392.18 474.19L394.82 478.75L389.54 478.75zM398.6 472.79L401.24 477.35L395.96 477.35zM405.02 471.36L407.66 475.92L402.38 475.92zM411.45 469.92L414.09 474.48L408.81 474.48zM417.87 468.48L420.51 473.04L415.23 473.04zM424.29 467.06L426.93 471.62L421.65 471.62zM430.71 465.64L433.35 470.2L428.07 470.2zM437.13 464.19L439.77 468.75L434.49 468.75zM443.55 462.74L446.19 467.3L440.91 467.3zM449.97 461.26L452.61 465.82L447.33 465.82zM456.4 459.77L459.04 464.33L453.76 464.33zM462.82 458.27L465.46 462.83L460.18 462.83zM469.24 456.75L471.88 461.31L466.6 461.31zM475.66 455.21L478.3 459.77L473.02 459.77zM482.08 453.66L484.72 458.22L479.44 458.22zM488.5 452.09L491.14 456.65L485.86 456.65z" fill="#008000" />
<path d="M105.27 546.52L107.07 551.99L108.86 553.56L110.66 554.58L112.46 555.29L114.26 555.87L116.06 556.51L117.85 557.11L119.65 557.66L121.45 558.17L123.25 558.63L125.05 559.04L126.84 559.41L128.64 559.72L130.44 559.98L132.24 560.23L134.04 560.46L135.83 560.68L137.63 560.87L139.43 561.04L141.23 561.19L143.03 561.3L144.83 561.38L146.62 561.43L148.42 561.48L150.22 561.52L152.02 561.56L153.82 561.59L155.61 561.62L157.41 561.63L159.21 561.64L161.01 561.62L162.81 561.56L164.6 561.48L166.4 561.36L168.2 561.23L170 561.08L171.8 560.91L173.59 560.73L175.39 560.55L177.19 560.32L178.99 560.05L180.79 559.72L182.58 559.33L184.38 558.88L186.18 558.36L187.98 557.67L189.78 556.71L191.57 555.45L193.37 553.76L195.17 550.97L197.22 489.09L198.38 488.2L199.54 487.61L200.69 487.15L201.85 486.74L203 486.37L204.16 486.04L205.32 485.75L206.47 485.47L207.63 485.21L208.78 484.96L209.94 484.72L211.09 484.47L212.25 484.22L213.41 483.97L214.56 483.73L215.72 483.49L216.87 483.27L218.03 483.05L219.19 482.83L220.34 482.62L221.5 482.42L222.65 482.22L223.81 482.02L224.97 481.82L226.12 481.63L227.28 481.43L228.43 481.24L229.59 481.04L230.74 480.85L231.9 480.66L233.06 480.47L234.21 480.28L235.37 480.09L236.52 479.9L237.68 479.71L238.84 479.52L239.99 479.34L241.15 479.15L242.3 478.97L243.46 478.79L244.62 478.61L245.77 478.43L246.93 478.25L248.08 478.07L249.24 477.9L250.39 477.72L251.55 477.55L252.71 477.38L253.86 477.21L255.02 477.04L256.17 476.88L257.33 476.71L258.49 476.55L259.64 476.39L260.8 476.23L261.95 476.07L263.11 475.91L264.26 475.76L265.42 475.61L266.58 475.46L267.73 475.31L268.89 475.16L270.04 475.02L276.34 474.48L282.76 473.77L289.18 472.96L295.6 472.05L302.02 471.06L308.44 470L314.87 468.87L321.29 467.7L327.71 466.48L334.13 465.24L340.55 463.97L346.97 462.69L353.4 461.41L359.82 460.15L366.24 458.86L372.66 457.52L379.08 456.14L385.5 454.72L391.92 453.26L398.35 451.78L404.77 450.28L411.19 448.76L417.61 447.23L424.03 445.7L430.45 444.16L436.87 442.61L443.3 441.03L449.72 439.44L456.14 437.82L462.56 436.19L468.98 434.54L475.4 432.88L481.83 431.19L488.25 429.49" fill="none" stroke="#0000ff" stroke-width="0.55" />
<path d="M105.27 549.04L107.91 544.48L102.63 544.48zM107.07 554.51L109.71 549.95L104.43 549.95zM108.86 556.08L111.5 551.52L106.22 551.52zM110.66 557.1L113.3 552.54L108.02 552.54zM112.46 557.81L115.1 553.25L109.82 553.25zM114.26 558.39L116.9 553.83L111.62 553.83zM116.06 559.03L118.7 554.47L113.42 554.47zM117.85 559.63L120.49 555.07L115.21 555.07zM119.65 560.18L122.29 555.62L117.01 555.62zM121.45 560.69L124.09 556.13L118.81 556.13zM123.25 561.15L125.89 556.59L120.61 556.59zM125.05 561.56L127.69 557L122.41 557zM126.84 561.93L129.48 557.37L124.2 557.37zM128.64 562.24L131.28 557.68L126 557.68zM130.44 562.5L133.08 557.94L127.8 557.94zM132.24 562.75L134.88 558.19L129.6 558.19zM134.04 562.98L136.68 558.42L131.4 558.42zM135.83 563.2L138.47 558.64L133.19 558.64zM137.63 563.39L140.27 558.83L134.99 558.83zM139.43 563.56L142.07 559L136.79 559zM141.23 563.71L143.87 559.15L138.59 559.15zM143.03 563.82L145.67 559.26L140.39 559.26zM144.83 563.9L147.47 559.34L142.19 559.34zM146.62 563.95L149.26 559.39L143.98 559.39zM148.42 564L151.06 559.44L145.78 559.44zM150.22 564.04L152.86 559.48L147.58 559.48zM152.02 564.08L154.66 559.52L149.38 559.52zM153.82 564.11L156.46 559.55L151.18 559.55zM155.61 564.14L158.25 559.58L152.97 559.58zM157.41 564.15L160.05 559.59L154.77 559.59zM159.21 564.16L161.85 559.6L156.57 559.6zM161.01 564.14L163.65 559.58L158.37 559.58zM162.81 564.08L165.45 559.52L160.17 559.52zM164.6 564L167.24 559.44L161.96 559.44zM166.4 563.88L169.04 559.32L163.76 559.32zM168.2 563.75L170.84 559.19L165.56 559.19zM170 563.6L172.64 559.04L167.36 559.04zM171.8 563.43L174.44 558.87L169.16 558.87zM173.59 563.25L176.23 558.69L170.95 558.69zM175.39 563.07L178.03 558.51L172.75 558.51zM177.19 562.84L179.83 558.28L174.55 558.28zM178.99 562.57L181.63 558.01L176.35 558.01zM180.79 562.24L183.43 557.68L178.15 557.68zM182.58 561.85L185.22 557.29L179.94 557.29zM184.38 561.4L187.02 556.84L181.74 556.84zM186.18 560.88L188.82 556.32L183.54 556.32zM187.98 560.19L190.62 555.63L185.34 555.63zM189.78 559.23L192.42 554.67L187.14 554.67zM191.57 557.97L194.21 553.41L188.93 553.41zM193.37 556.28L196.01 551.72L190.73 551.72zM195.17 553.49L197.81 548.93L192.53 548.93zM197.22 491.61L199.86 487.05L194.58 487.05zM198.38 490.72L201.02 486.16L195.74 486.16zM199.54 490.13L202.18 485.57L196.9 485.57zM200.69 489.67L203.33 485.11L198.05 485.11zM201.85 489.26L204.49 484.7L199.21 484.7zM203 488.89L205.64 484.33L200.36 484.33zM204.16 488.56L206.8 484L201.52 484zM205.32 488.27L207.96 483.71L202.68 483.71zM206.47 487.99L209.11 483.43L203.83 483.43zM207.63 487.73L210.27 483.17L204.99 483.17zM208.78 487.48L211.42 482.92L206.14 482.92zM209.94 487.24L212.58 482.68L207.3 482.68zM211.09 486.99L213.73 482.43L208.45 482.43zM212.25 486.74L214.89 482.18L209.61 482.18zM213.41 486.49L216.05 481.93L210.77 481.93zM214.56 486.25L217.2 481.69L211.92 481.69zM215.72 486.01L218.36 481.45L213.08 481.45zM216.87 485.79L219.51 481.23L214.23 481.23zM218.03 485.57L220.67 481.01L215.39 481.01zM219.19 485.35L221.83 480.79L216.55 480.79zM220.34 485.14L222.98 480.58L217.7 480.58zM221.5 484.94L224.14 480.38L218.86 480.38zM222.65 484.74L225.29 480.18L220.01 480.18zM223.81 484.54L226.45 479.98L221.17 479.98zM224.97 484.34L227.61 479.78L222.33 479.78zM226.12 484.15L228.76 479.59L223.48 479.59zM227.28 483.95L229.92 479.39L224.64 479.39zM228.43 483.76L231.07 479.2L225.79 479.2zM229.59 483.56L232.23 479L226.95 479zM230.74 483.37L233.38 478.81L228.1 478.81zM231.9 483.18L234.54 478.62L229.26 478.62zM233.06 482.99L235.7 478.43L230.42 478.43zM234.21 482.8L236.85 478.24L231.57 478.24zM235.37 482.61L238.01 478.05L232.73 478.05zM236.52 482.42L239.16 477.86L233.88 477.86zM237.68 482.23L240.32 477.67L235.04 477.67zM238.84 482.04L241.48 477.48L236.2 477.48zM239.99 481.86L242.63 477.3L237.35 477.3zM241.15 481.67L243.79 477.11L238.51 477.11zM242.3 481.49L244.94 476.93L239.66 476.93zM243.46 481.31L246.1 476.75L240.82 476.75zM244.62 481.13L247.26 476.57L241.98 476.57zM245.77 480.95L248.41 476.39L243.13 476.39zM246.93 480.77L249.57 476.21L244.29 476.21zM248.08 480.59L250.72 476.03L245.44 476.03zM249.24 480.42L251.88 475.86L246.6 475.86zM250.39 480.24L253.03 475.68L247.75 475.68zM251.55 480.07L254.19 475.51L248.91 475.51zM252.71 479.9L255.35 475.34L250.07 475.34zM253.86 479.73L256.5 475.17L251.22 475.17zM255.02 479.56L257.66 475L252.38 475zM256.17 479.4L258.81 474.84L253.53 474.84zM257.33 479.23L259.97 474.67L254.69 474.67zM258.49 479.07L261.13 474.51L255.85 474.51zM259.64 478.91L262.28 474.35L257 474.35zM260.8 478.75L263.44 474.19L258.16 474.19zM261.95 478.59L264.59 474.03L259.31 474.03zM263.11 478.43L265.75 473.87L260.47 473.87zM264.26 478.28L266.9 473.72L261.62 473.72zM265.42 478.13L268.06 473.57L262.78 473.57zM266.58 477.98L269.22 473.42L263.94 473.42zM267.73 477.83L270.37 473.27L265.09 473.27zM268.89 477.68L271.53 473.12L266.25 473.12zM270.04 477.54L272.68 472.98L267.4 472.98zM276.34 477L278.98 472.44L273.7 472.44zM282.76 476.29L285.4 471.73L280.12 471.73zM289.18 475.48L291.82 470.92L286.54 470.92zM295.6 474.57L298.24 470.01L292.96 470.01zM302.02 473.58L304.66 469.02L299.38 469.02zM308.44 472.52L311.08 467.96L305.8 467.96zM314.87 471.39L317.51 466.83L312.23 466.83zM321.29 470.22L323.93 465.66L318.65 465.66zM327.71 469L330.35 464.44L325.07 464.44zM334.13 467.76L336.77 463.2L331.49 463.2zM340.55 466.49L343.19 461.93L337.91 461.93zM346.97 465.21L349.61 460.65L344.33 460.65zM353.4 463.93L356.04 459.37L350.76 459.37zM359.82 462.67L362.46 458.11L357.18 458.11zM366.24 461.38L368.88 456.82L363.6 456.82zM372.66 460.04L375.3 455.48L370.02 455.48zM379.08 458.66L381.72 454.1L376.44 454.1zM385.5 457.24L388.14 452.68L382.86 452.68zM391.92 455.78L394.56 451.22L389.28 451.22zM398.35 454.3L400.99 449.74L395.71 449.74zM404.77 452.8L407.41 448.24L402.13 448.24zM411.19 451.28L413.83 446.72L408.55 446.72zM417.61 449.75L420.25 445.19L414.97 445.19zM424.03 448.22L426.67 443.66L421.39 443.66zM430.45 446.68L433.09 442.12L427.81 442.12zM436.87 445.13L439.51 440.57L434.23 440.57zM443.3 443.55L445.94 438.99L440.66 438.99zM449.72 441.96L452.36 437.4L447.08 437.4zM456.14 440.34L458.78 435.78L453.5 435.78zM462.56 438.71L465.2 434.15L459.92 434.15zM468.98 437.06L471.62 432.5L466.34 432.5zM475.4 435.4L478.04 430.84L472.76 430.84zM481.83 433.71L484.47 429.15L479.19 429.15zM488.25 432.01L490.89 427.45L485.61 427.45z" fill="#0000ff" />
<path d="M105.27 522.59L107.2 525.29L109.12 527.22L111.05 528.48L112.97 529.45L114.9 530.15L116.83 530.68L118.75 531.13L120.68 531.53L122.61 531.88L124.53 532.19L126.46 532.47L128.39 532.74L130.31 533.01L132.24 533.3L134.17 533.59L136.09 533.86L138.02 534.1L139.94 534.29L141.87 534.41L143.8 534.43L145.72 534.39L147.65 534.31L149.58 534.19L151.5 534.05L153.43 533.89L155.36 533.73L157.28 533.57L159.21 533.42L161.14 533.29L163.06 533.16L164.99 533.02L166.92 532.88L168.84 532.72L170.77 532.56L172.69 532.37L174.62 532.17L176.55 531.93L178.47 531.65L180.4 531.33L182.33 530.97L184.25 530.58L186.18 530.15L188.11 529.64L190.03 529.04L191.96 528.36L193.89 527.63L194.53 467.18L195.68 466.21L196.84 465.43L198 464.74L199.15 464.11L200.31 463.53L201.46 462.99L202.62 462.52L203.77 462.09L204.93 461.73L206.09 461.37L207.24 461.02L208.4 460.68L209.55 460.36L210.71 460.05L211.87 459.77L213.02 459.5L214.18 459.27L215.33 459.06L216.49 458.88L217.64 458.74L218.8 458.64L224.97 457.6L231.39 455.54L237.81 453.16L244.23 451.7L250.65 450.63L257.07 449.74L263.49 448.97L269.92 448.28L276.34 447.62L282.76 446.93L289.18 446.16L295.6 445.26L302.02 444.25L308.44 443.17L314.87 442.03L321.29 440.85L327.71 439.62L334.13 438.37L340.55 437.09L346.97 435.79L353.4 434.49L359.82 433.19L366.24 431.89L372.66 430.55L379.08 429.19L385.5 427.81L391.92 426.41L398.35 425L404.77 423.57L411.19 422.14L417.61 420.7L424.03 419.26L430.45 417.81L436.87 416.35L443.3 414.88L449.72 413.4L456.14 411.9L462.56 410.4L468.98 408.89L475.4 407.37L481.83 405.84L488.25 404.29" fill="none" stroke="#ff8000" stroke-width="0.55" />
<path d="M105.27 519.83L108.03 522.59L105.27 525.35L102.51 522.59zM107.2 522.53L109.96 525.29L107.2 528.05L104.44 525.29zM109.12 524.46L111.88 527.22L109.12 529.98L106.36 527.22zM111.05 525.72L113.81 528.48L111.05 531.24L108.29 528.48zM112.97 526.69L115.73 529.45L112.97 532.21L110.21 529.45zM114.9 527.39L117.66 530.15L114.9 532.91L112.14 530.15zM116.83 527.92L119.59 530.68L116.83 533.44L114.07 530.68zM118.75 528.37L121.51 531.13L118.75 533.89L115.99 531.13zM120.68 528.77L123.44 531.53L120.68 534.29L117.92 531.53zM122.61 529.12L125.37 531.88L122.61 534.64L119.85 531.88zM124.53 529.43L127.29 532.19L124.53 534.95L121.77 532.19zM126.46 529.71L129.22 532.47L126.46 535.23L123.7 532.47zM128.39 529.98L131.15 532.74L128.39 535.5L125.63 532.74zM130.31 530.25L133.07 533.01L130.31 535.77L127.55 533.01zM132.24 530.54L135 533.3L132.24 536.06L129.48 533.3zM134.17 530.83L136.93 533.59L134.17 536.35L131.41 533.59zM136.09 531.1L138.85 533.86L136.09 536.62L133.33 533.86zM138.02 531.34L140.78 534.1L138.02 536.86L135.26 534.1zM139.94 531.53L142.7 534.29L139.94 537.05L137.18 534.29zM141.87 531.65L144.63 534.41L141.87 537.17L139.11 534.41zM143.8 531.67L146.56 534.43L143.8 537.19L141.04 534.43zM145.72 531.63L148.48 534.39L145.72 537.15L142.96 534.39zM147.65 531.55L150.41 534.31L147.65 537.07L144.89 534.31zM149.58 531.43L152.34 534.19L149.58 536.95L146.82 534.19zM151.5 531.29L154.26 534.05L151.5 536.81L148.74 534.05zM153.43 531.13L156.19 533.89L153.43 536.65L150.67 533.89zM155.36 530.97L158.12 533.73L155.36 536.49L152.6 533.73zM157.28 530.81L160.04 533.57L157.28 536.33L154.52 533.57zM159.21 530.66L161.97 533.42L159.21 536.18L156.45 533.42zM161.14 530.53L163.9 533.29L161.14 536.05L158.38 533.29zM163.06 530.4L165.82 533.16L163.06 535.92L160.3 533.16zM164.99 530.26L167.75 533.02L164.99 535.78L162.23 533.02zM166.92 530.12L169.68 532.88L166.92 535.64L164.16 532.88zM168.84 529.96L171.6 532.72L168.84 535.48L166.08 532.72zM170.77 529.8L173.53 532.56L170.77 535.32L168.01 532.56zM172.69 529.61L175.45 532.37L172.69 535.13L169.93 532.37zM174.62 529.41L177.38 532.17L174.62 534.93L171.86 532.17zM176.55 529.17L179.31 531.93L176.55 534.69L173.79 531.93zM178.47 528.89L181.23 531.65L178.47 534.41L175.71 531.65zM180.4 528.57L183.16 531.33L180.4 534.09L177.64 531.33zM182.33 528.21L185.09 530.97L182.33 533.73L179.57 530.97zM184.25 527.82L187.01 530.58L184.25 533.34L181.49 530.58zM186.18 527.39L188.94 530.15L186.18 532.91L183.42 530.15zM188.11 526.88L190.87 529.64L188.11 532.4L185.35 529.64zM190.03 526.28L192.79 529.04L190.03 531.8L187.27 529.04zM191.96 525.6L194.72 528.36L191.96 531.12L189.2 528.36zM193.89 524.87L196.65 527.63L193.89 530.39L191.13 527.63zM194.53 464.42L197.29 467.18L194.53 469.94L191.77 467.18zM195.68 463.45L198.44 466.21L195.68 468.97L192.92 466.21zM196.84 462.67L199.6 465.43L196.84 468.19L194.08 465.43zM198 461.98L200.76 464.74L198 467.5L195.24 464.74zM199.15 461.35L201.91 464.11L199.15 466.87L196.39 464.11zM200.31 460.77L203.07 463.53L200.31 466.29L197.55 463.53zM201.46 460.23L204.22 462.99L201.46 465.75L198.7 462.99zM202.62 459.76L205.38 462.52L202.62 465.28L199.86 462.52zM203.77 459.33L206.53 462.09L203.77 464.85L201.01 462.09zM204.93 458.97L207.69 461.73L204.93 464.49L202.17 461.73zM206.09 458.61L208.85 461.37L206.09 464.13L203.33 461.37zM207.24 458.26L210 461.02L207.24 463.78L204.48 461.02zM208.4 457.92L211.16 460.68L208.4 463.44L205.64 460.68zM209.55 457.6L212.31 460.36L209.55 463.12L206.79 460.36zM210.71 457.29L213.47 460.05L210.71 462.81L207.95 460.05zM211.87 457.01L214.63 459.77L211.87 462.53L209.11 459.77zM213.02 456.74L215.78 459.5L213.02 462.26L210.26 459.5zM214.18 456.51L216.94 459.27L214.18 462.03L211.42 459.27zM215.33 456.3L218.09 459.06L215.33 461.82L212.57 459.06zM216.49 456.12L219.25 458.88L216.49 461.64L213.73 458.88zM217.64 455.98L220.4 458.74L217.64 461.5L214.88 458.74zM218.8 455.88L221.56 458.64L218.8 461.4L216.04 458.64zM224.97 454.84L227.73 457.6L224.97 460.36L222.21 457.6zM231.39 452.78L234.15 455.54L231.39 458.3L228.63 455.54zM237.81 450.4L240.57 453.16L237.81 455.92L235.05 453.16zM244.23 448.94L246.99 451.7L244.23 454.46L241.47 451.7zM250.65 447.87L253.41 450.63L250.65 453.39L247.89 450.63zM257.07 446.98L259.83 449.74L257.07 452.5L254.31 449.74zM263.49 446.21L266.25 448.97L263.49 451.73L260.73 448.97zM269.92 445.52L272.68 448.28L269.92 451.04L267.16 448.28zM276.34 444.86L279.1 447.62L276.34 450.38L273.58 447.62zM282.76 444.17L285.52 446.93L282.76 449.69L280 446.93zM289.18 443.4L291.94 446.16L289.18 448.92L286.42 446.16zM295.6 442.5L298.36 445.26L295.6 448.02L292.84 445.26zM302.02 441.49L304.78 444.25L302.02 447.01L299.26 444.25zM308.44 440.41L311.2 443.17L308.44 445.93L305.68 443.17zM314.87 439.27L317.63 442.03L314.87 444.79L312.11 442.03zM321.29 438.09L324.05 440.85L321.29 443.61L318.53 440.85zM327.71 436.86L330.47 439.62L327.71 442.38L324.95 439.62zM334.13 435.61L336.89 438.37L334.13 441.13L331.37 438.37zM340.55 434.33L343.31 437.09L340.55 439.85L337.79 437.09zM346.97 433.03L349.73 435.79L346.97 438.55L344.21 435.79zM353.4 431.73L356.16 434.49L353.4 437.25L350.64 434.49zM359.82 430.43L362.58 433.19L359.82 435.95L357.06 433.19zM366.24 429.13L369 431.89L366.24 434.65L363.48 431.89zM372.66 427.79L375.42 430.55L372.66 433.31L369.9 430.55zM379.08 426.43L381.84 429.19L379.08 431.95L376.32 429.19zM385.5 425.05L388.26 427.81L385.5 430.57L382.74 427.81zM391.92 423.65L394.68 426.41L391.92 429.17L389.16 426.41zM398.35 422.24L401.11 425L398.35 427.76L395.59 425zM404.77 420.81L407.53 423.57L404.77 426.33L402.01 423.57zM411.19 419.38L413.95 422.14L411.19 424.9L408.43 422.14zM417.61 417.94L420.37 420.7L417.61 423.46L414.85 420.7zM424.03 416.5L426.79 419.26L424.03 422.02L421.27 419.26zM430.45 415.05L433.21 417.81L430.45 420.57L427.69 417.81zM436.87 413.59L439.63 416.35L436.87 419.11L434.11 416.35zM443.3 412.12L446.06 414.88L443.3 417.64L440.54 414.88zM449.72 410.64L452.48 413.4L449.72 416.16L446.96 413.4zM456.14 409.14L458.9 411.9L456.14 414.66L453.38 411.9zM462.56 407.64L465.32 410.4L462.56 413.16L459.8 410.4zM468.98 406.13L471.74 408.89L468.98 411.65L466.22 408.89zM475.4 404.61L478.16 407.37L475.4 410.13L472.64 407.37zM481.83 403.08L484.59 405.84L481.83 408.6L479.07 405.84zM488.25 401.53L491.01 404.29L488.25 407.05L485.49 404.29z" fill="#ff8000" />
<path d="M104.5 504.2L106.17 503.75L107.84 503.34L109.51 502.99L111.18 502.69L112.85 502.45L114.52 502.25L116.19 502.1L117.85 502L119.52 501.95L121.19 501.94L122.86 502.03L124.53 502.2L126.2 502.45L127.87 502.76L129.54 503.1L131.21 503.46L132.88 503.83L134.55 504.19L136.22 504.51L137.89 504.79L139.56 505.09L141.23 505.43L142.9 505.77L144.57 506.1L146.24 506.4L147.91 506.66L149.58 506.85L151.25 506.96L152.92 506.97L154.59 506.95L156.26 506.9L157.92 506.83L159.59 506.74L161.26 506.64L162.93 506.52L164.6 506.4L166.27 506.27L167.94 506.13L169.61 505.96L171.28 505.75L172.95 505.51L174.62 505.22L176.29 504.9L177.96 504.54L179.63 504.18L181.3 503.69L182.97 502.97L184.64 501.89L186.31 497.84L187.98 491.11L189.65 486.47L191.32 482.73L193.37 449.54L194.53 448.7L195.68 447.99L196.84 447.36L198 446.77L199.15 446.23L200.31 445.71L201.46 445.21L202.62 444.73L203.77 444.26L204.93 443.79L206.09 443.34L207.24 442.9L208.4 442.47L209.55 442.05L210.71 441.65L211.87 441.25L213.02 440.85L214.18 440.46L215.33 440.07L216.49 439.68L217.64 439.28L218.8 438.89L219.96 438.49L221.11 438.09L222.27 437.69L223.42 437.3L224.58 436.9L225.74 436.51L226.89 436.12L228.05 435.73L231.39 434.8L237.81 433.06L244.23 431.41L250.65 429.84L257.07 428.38L263.49 427.02L269.92 425.74L276.34 424.52L282.76 423.35L289.18 422.2L295.6 421.08L302.02 419.99L308.44 418.95L314.87 417.95L321.29 416.97L327.71 416.01L334.13 415.03L340.55 414.04L346.97 413.01L353.4 411.92L359.82 410.77L366.24 409.55L372.66 408.26L379.08 406.91L385.5 405.52L391.92 404.09L398.35 402.63L404.77 401.15L411.19 399.67L417.61 398.18L424.03 396.7L430.45 395.24L436.87 393.78L443.3 392.32L449.72 390.82L456.14 389.28L462.56 387.68L468.98 386L475.4 384.16L481.83 378.53L488.25 378.93" fill="none" stroke="#00ffff" stroke-width="0.55" />
<path d="M101.98 504.2L106.54 501.56L106.54 506.84zM103.65 503.75L108.21 501.11L108.21 506.39zM105.32 503.34L109.88 500.7L109.88 505.98zM106.99 502.99L111.55 500.35L111.55 505.63zM108.66 502.69L113.22 500.05L113.22 505.33zM110.33 502.45L114.89 499.81L114.89 505.09zM112 502.25L116.56 499.61L116.56 504.89zM113.67 502.1L118.23 499.46L118.23 504.74zM115.33 502L119.89 499.36L119.89 504.64zM117 501.95L121.56 499.31L121.56 504.59zM118.67 501.94L123.23 499.3L123.23 504.58zM120.34 502.03L124.9 499.39L124.9 504.67zM122.01 502.2L126.57 499.56L126.57 504.84zM123.68 502.45L128.24 499.81L128.24 505.09zM125.35 502.76L129.91 500.12L129.91 505.4zM127.02 503.1L131.58 500.46L131.58 505.74zM128.69 503.46L133.25 500.82L133.25 506.1zM130.36 503.83L134.92 501.19L134.92 506.47zM132.03 504.19L136.59 501.55L136.59 506.83zM133.7 504.51L138.26 501.87L138.26 507.15zM135.37 504.79L139.93 502.15L139.93 507.43zM137.04 505.09L141.6 502.45L141.6 507.73zM138.71 505.43L143.27 502.79L143.27 508.07zM140.38 505.77L144.94 503.13L144.94 508.41zM142.05 506.1L146.61 503.46L146.61 508.74zM143.72 506.4L148.28 503.76L148.28 509.04zM145.39 506.66L149.95 504.02L149.95 509.3zM147.06 506.85L151.62 504.21L151.62 509.49zM148.73 506.96L153.29 504.32L153.29 509.6zM150.4 506.97L154.96 504.33L154.96 509.61zM152.07 506.95L156.63 504.31L156.63 509.59zM153.74 506.9L158.3 504.26L158.3 509.54zM155.4 506.83L159.96 504.19L159.96 509.47zM157.07 506.74L161.63 504.1L161.63 509.38zM158.74 506.64L163.3 504L163.3 509.28zM160.41 506.52L164.97 503.88L164.97 509.16zM162.08 506.4L166.64 503.76L166.64 509.04zM163.75 506.27L168.31 503.63L168.31 508.91zM165.42 506.13L169.98 503.49L169.98 508.77zM167.09 505.96L171.65 503.32L171.65 508.6zM168.76 505.75L173.32 503.11L173.32 508.39zM170.43 505.51L174.99 502.87L174.99 508.15zM172.1 505.22L176.66 502.58L176.66 507.86zM173.77 504.9L178.33 502.26L178.33 507.54zM175.44 504.54L180 501.9L180 507.18zM177.11 504.18L181.67 501.54L181.67 506.82zM178.78 503.69L183.34 501.05L183.34 506.33zM180.45 502.97L185.01 500.33L185.01 505.61zM182.12 501.89L186.68 499.25L186.68 504.53zM183.79 497.84L188.35 495.2L188.35 500.48zM185.46 491.11L190.02 488.47L190.02 493.75zM187.13 486.47L191.69 483.83L191.69 489.11zM188.8 482.73L193.36 480.09L193.36 485.37zM190.85 449.54L195.41 446.9L195.41 452.18zM192.01 448.7L196.57 446.06L196.57 451.34zM193.16 447.99L197.72 445.35L197.72 450.63zM194.32 447.36L198.88 444.72L198.88 450zM195.48 446.77L200.04 444.13L200.04 449.41zM196.63 446.23L201.19 443.59L201.19 448.87zM197.79 445.71L202.35 443.07L202.35 448.35zM198.94 445.21L203.5 442.57L203.5 447.85zM200.1 444.73L204.66 442.09L204.66 447.37zM201.25 444.26L205.81 441.62L205.81 446.9zM202.41 443.79L206.97 441.15L206.97 446.43zM203.57 443.34L208.13 440.7L208.13 445.98zM204.72 442.9L209.28 440.26L209.28 445.54zM205.88 442.47L210.44 439.83L210.44 445.11zM207.03 442.05L211.59 439.41L211.59 444.69zM208.19 441.65L212.75 439.01L212.75 444.29zM209.35 441.25L213.91 438.61L213.91 443.89zM210.5 440.85L215.06 438.21L215.06 443.49zM211.66 440.46L216.22 437.82L216.22 443.1zM212.81 440.07L217.37 437.43L217.37 442.71zM213.97 439.68L218.53 437.04L218.53 442.32zM215.12 439.28L219.68 436.64L219.68 441.92zM216.28 438.89L220.84 436.25L220.84 441.53zM217.44 438.49L222 435.85L222 441.13zM218.59 438.09L223.15 435.45L223.15 440.73zM219.75 437.69L224.31 435.05L224.31 440.33zM220.9 437.3L225.46 434.66L225.46 439.94zM222.06 436.9L226.62 434.26L226.62 439.54zM223.22 436.51L227.78 433.87L227.78 439.15zM224.37 436.12L228.93 433.48L228.93 438.76zM225.53 435.73L230.09 433.09L230.09 438.37zM228.87 434.8L233.43 432.16L233.43 437.44zM235.29 433.06L239.85 430.42L239.85 435.7zM241.71 431.41L246.27 428.77L246.27 434.05zM248.13 429.84L252.69 427.2L252.69 432.48zM254.55 428.38L259.11 425.74L259.11 431.02zM260.97 427.02L265.53 424.38L265.53 429.66zM267.4 425.74L271.96 423.1L271.96 428.38zM273.82 424.52L278.38 421.88L278.38 427.16zM280.24 423.35L284.8 420.71L284.8 425.99zM286.66 422.2L291.22 419.56L291.22 424.84zM293.08 421.08L297.64 418.44L297.64 423.72zM299.5 419.99L304.06 417.35L304.06 422.63zM305.92 418.95L310.48 416.31L310.48 421.59zM312.35 417.95L316.91 415.31L316.91 420.59zM318.77 416.97L323.33 414.33L323.33 419.61zM325.19 416.01L329.75 413.37L329.75 418.65zM331.61 415.03L336.17 412.39L336.17 417.67zM338.03 414.04L342.59 411.4L342.59 416.68zM344.45 413.01L349.01 410.37L349.01 415.65zM350.88 411.92L355.44 409.28L355.44 414.56zM357.3 410.77L361.86 408.13L361.86 413.41zM363.72 409.55L368.28 406.91L368.28 412.19zM370.14 408.26L374.7 405.62L374.7 410.9zM376.56 406.91L381.12 404.27L381.12 409.55zM382.98 405.52L387.54 402.88L387.54 408.16zM389.4 404.09L393.96 401.45L393.96 406.73zM395.83 402.63L400.39 399.99L400.39 405.27zM402.25 401.15L406.81 398.51L406.81 403.79zM408.67 399.67L413.23 397.03L413.23 402.31zM415.09 398.18L419.65 395.54L419.65 400.82zM421.51 396.7L426.07 394.06L426.07 399.34zM427.93 395.24L432.49 392.6L432.49 397.88zM434.35 393.78L438.91 391.14L438.91 396.42zM440.78 392.32L445.34 389.68L445.34 394.96zM447.2 390.82L451.76 388.18L451.76 393.46zM453.62 389.28L458.18 386.64L458.18 391.92zM460.04 387.68L464.6 385.04L464.6 390.32zM466.46 386L471.02 383.36L471.02 388.64zM472.88 384.16L477.44 381.52L477.44 386.8zM479.31 378.53L483.87 375.89L483.87 381.17zM485.73 378.93L490.29 376.29L490.29 381.57z" fill="#00ffff" />
<path d="M105.2 430.65L106.3 442.99L107.45 448.53L108.86 452.31L110.41 455.2L111.95 457.35L113.62 459.02L115.54 460.53L117.47 461.77L119.4 462.87L121.84 463.97L124.28 464.73L126.72 465.33L129.16 465.82L131.6 466.25L134.04 466.64L136.48 466.99L138.92 467.31L141.36 467.59L143.8 467.85L146.24 468.07L148.68 468.31L151.12 468.53L153.56 468.72L156 468.86L158.44 468.93L160.88 468.94L163.32 468.94L165.76 468.94L168.2 468.92L170.64 468.76L173.08 468.5L175.52 468.16L177.96 467.78L180.4 467.4L182.84 467.05L185.28 466.67L187.72 466.25L190.16 465.81L192.47 445.51L193.89 436.44L194.53 434.93L195.81 433.94L197.1 432.93L198.38 431.91L199.66 430.83L200.95 429.71L202.23 428.59L203.52 427.54L204.8 426.6L206.09 425.71L207.37 424.87L208.65 424.07L209.94 423.32L211.22 422.65L212.51 422.04L213.79 421.48L215.08 420.97L216.36 420.51L217.64 420.11L225.35 415.48L231.77 412.63L238.19 410.13L244.62 407.91L251.04 405.92L257.46 404.09L263.88 402.14L270.3 401.18L276.72 401.68L283.14 400.18L289.57 397.41L295.99 395.31L302.41 394.26L308.83 393.47L315.25 392.71L321.67 391.79L328.09 390.63L334.52 389.32L340.94 387.91L347.36 386.47L353.78 385.06L360.2 383.75L366.62 382.54L373.05 381.03L379.47 379.77L385.89 378L392.31 376.99L398.73 376.24L405.15 374.48L411.57 372.71L418 372.71L424.42 369.94L430.84 368.68L437.26 369.69L443.68 366.42L450.1 364.65L456.52 363.39L462.95 363.64L469.37 359.61L475.79 356.84L482.21 356.59L488.63 353.57" fill="none" stroke="#800080" stroke-width="0.55" />
<path d="M105.2 427.52L105.98 429.59L108.18 429.68L106.45 431.06L107.04 433.18L105.2 431.96L103.37 433.18L103.96 431.06L102.23 429.68L104.43 429.59zM106.3 439.87L107.07 441.93L109.27 442.03L107.54 443.4L108.13 445.52L106.3 444.31L104.46 445.52L105.05 443.4L103.32 442.03L105.52 441.93zM107.45 445.41L108.22 447.47L110.42 447.57L108.7 448.94L109.29 451.06L107.45 449.85L105.62 451.06L106.2 448.94L104.48 447.57L106.68 447.47zM108.86 449.19L109.64 451.25L111.84 451.35L110.11 452.72L110.7 454.84L108.86 453.63L107.03 454.84L107.62 452.72L105.89 451.35L108.09 451.25zM110.41 452.08L111.18 454.14L113.38 454.24L111.65 455.61L112.24 457.73L110.41 456.51L108.57 457.73L109.16 455.61L107.43 454.24L109.63 454.14zM111.95 454.23L112.72 456.29L114.92 456.39L113.2 457.76L113.78 459.88L111.95 458.66L110.11 459.88L110.7 457.76L108.97 456.39L111.18 456.29zM113.62 455.9L114.39 457.96L116.59 458.06L114.86 459.43L115.45 461.55L113.62 460.34L111.78 461.55L112.37 459.43L110.64 458.06L112.85 457.96zM115.54 457.4L116.31 459.47L118.52 459.56L116.79 460.93L117.38 463.06L115.54 461.84L113.71 463.06L114.29 460.93L112.57 459.56L114.77 459.47zM117.47 458.65L118.24 460.71L120.44 460.81L118.72 462.18L119.31 464.3L117.47 463.09L115.63 464.3L116.22 462.18L114.5 460.81L116.7 460.71zM119.4 459.75L120.17 461.81L122.37 461.91L120.64 463.28L121.23 465.4L119.4 464.18L117.56 465.4L118.15 463.28L116.42 461.91L118.62 461.81zM121.84 460.85L122.61 462.91L124.81 463.01L123.08 464.38L123.67 466.5L121.84 465.28L120 466.5L120.59 464.38L118.86 463.01L121.06 462.91zM124.28 461.61L125.05 463.67L127.25 463.77L125.52 465.14L126.11 467.26L124.28 466.05L122.44 467.26L123.03 465.14L121.3 463.77L123.5 463.67zM126.72 462.21L127.49 464.27L129.69 464.37L127.96 465.74L128.55 467.86L126.72 466.65L124.88 467.86L125.47 465.74L123.74 464.37L125.94 464.27zM129.16 462.7L129.93 464.76L132.13 464.86L130.4 466.23L130.99 468.35L129.16 467.14L127.32 468.35L127.91 466.23L126.18 464.86L128.39 464.76zM131.6 463.12L132.37 465.19L134.57 465.28L132.85 466.65L133.43 468.78L131.6 467.56L129.76 468.78L130.35 466.65L128.62 465.28L130.83 465.19zM134.04 463.51L134.81 465.57L137.01 465.67L135.29 467.04L135.87 469.16L134.04 467.95L132.2 469.16L132.79 467.04L131.06 465.67L133.27 465.57zM136.48 463.87L137.25 465.93L139.45 466.02L137.73 467.4L138.31 469.52L136.48 468.3L134.64 469.52L135.23 467.4L133.51 466.02L135.71 465.93zM138.92 464.18L139.69 466.25L141.89 466.34L140.17 467.72L140.75 469.84L138.92 468.62L137.08 469.84L137.67 467.72L135.95 466.34L138.15 466.25zM141.36 464.47L142.13 466.53L144.33 466.63L142.61 468L143.19 470.12L141.36 468.91L139.52 470.12L140.11 468L138.39 466.63L140.59 466.53zM143.8 464.72L144.57 466.78L146.77 466.88L145.05 468.25L145.63 470.37L143.8 469.16L141.96 470.37L142.55 468.25L140.83 466.88L143.03 466.78zM146.24 464.95L147.01 467.01L149.21 467.11L147.49 468.48L148.07 470.6L146.24 469.39L144.4 470.6L144.99 468.48L143.27 467.11L145.47 467.01zM148.68 465.18L149.45 467.25L151.65 467.34L149.93 468.71L150.51 470.84L148.68 469.62L146.84 470.84L147.43 468.71L145.71 467.34L147.91 467.25zM151.12 465.41L151.89 467.47L154.09 467.56L152.37 468.94L152.95 471.06L151.12 469.84L149.28 471.06L149.87 468.94L148.15 467.56L150.35 467.47zM153.56 465.6L154.33 467.66L156.53 467.76L154.81 469.13L155.4 471.25L153.56 470.03L151.72 471.25L152.31 469.13L150.59 467.76L152.79 467.66zM156 465.74L156.77 467.8L158.97 467.9L157.25 469.27L157.84 471.39L156 470.18L154.16 471.39L154.75 469.27L153.03 467.9L155.23 467.8zM158.44 465.81L159.21 467.87L161.41 467.97L159.69 469.34L160.28 471.46L158.44 470.25L156.6 471.46L157.19 469.34L155.47 467.97L157.67 467.87zM160.88 465.81L161.65 467.88L163.85 467.97L162.13 469.34L162.72 471.47L160.88 470.25L159.04 471.47L159.63 469.34L157.91 467.97L160.11 467.88zM163.32 465.81L164.09 467.88L166.29 467.97L164.57 469.34L165.16 471.47L163.32 470.25L161.48 471.47L162.07 469.34L160.35 467.97L162.55 467.88zM165.76 465.81L166.53 467.88L168.73 467.97L167.01 469.34L167.6 471.47L165.76 470.25L163.92 471.47L164.51 469.34L162.79 467.97L164.99 467.88zM168.2 465.79L168.97 467.85L171.17 467.95L169.45 469.32L170.04 471.44L168.2 470.23L166.36 471.44L166.95 469.32L165.23 467.95L167.43 467.85zM170.64 465.64L171.41 467.7L173.61 467.8L171.89 469.17L172.48 471.29L170.64 470.08L168.8 471.29L169.39 469.17L167.67 467.8L169.87 467.7zM173.08 465.38L173.85 467.44L176.05 467.54L174.33 468.91L174.92 471.03L173.08 469.81L171.24 471.03L171.83 468.91L170.11 467.54L172.31 467.44zM175.52 465.04L176.29 467.1L178.49 467.2L176.77 468.57L177.36 470.69L175.52 469.47L173.68 470.69L174.27 468.57L172.55 467.2L174.75 467.1zM177.96 464.66L178.73 466.72L180.93 466.82L179.21 468.19L179.8 470.31L177.96 469.1L176.12 470.31L176.71 468.19L174.99 466.82L177.19 466.72zM180.4 464.28L181.17 466.34L183.37 466.44L181.65 467.81L182.24 469.93L180.4 468.71L178.56 469.93L179.15 467.81L177.43 466.44L179.63 466.34zM182.84 463.92L183.61 465.98L185.81 466.08L184.09 467.45L184.68 469.57L182.84 468.36L181 469.57L181.59 467.45L179.87 466.08L182.07 465.98zM185.28 463.54L186.05 465.6L188.25 465.7L186.53 467.07L187.12 469.19L185.28 467.98L183.44 469.19L184.03 467.07L182.31 465.7L184.51 465.6zM187.72 463.12L188.49 465.19L190.69 465.28L188.97 466.65L189.56 468.78L187.72 467.56L185.88 468.78L186.47 466.65L184.75 465.28L186.95 465.19zM190.16 462.68L190.93 464.75L193.13 464.84L191.41 466.21L192 468.34L190.16 467.12L188.32 468.34L188.91 466.21L187.19 464.84L189.39 464.75zM192.47 442.39L193.24 444.45L195.44 444.55L193.72 445.92L194.31 448.04L192.47 446.82L190.64 448.04L191.22 445.92L189.5 444.55L191.7 444.45zM193.89 433.32L194.66 435.38L196.86 435.48L195.13 436.85L195.72 438.97L193.89 437.76L192.05 438.97L192.64 436.85L190.91 435.48L193.11 435.38zM194.53 431.81L195.3 433.87L197.5 433.97L195.78 435.34L196.36 437.46L194.53 436.24L192.69 437.46L193.28 435.34L191.56 433.97L193.76 433.87zM195.81 430.82L196.58 432.88L198.78 432.98L197.06 434.35L197.65 436.47L195.81 435.25L193.97 436.47L194.56 434.35L192.84 432.98L195.04 432.88zM197.1 429.81L197.87 431.87L200.07 431.97L198.34 433.34L198.93 435.46L197.1 434.25L195.26 435.46L195.85 433.34L194.12 431.97L196.32 431.87zM198.38 428.78L199.15 430.85L201.35 430.94L199.63 432.31L200.22 434.44L198.38 433.22L196.54 434.44L197.13 432.31L195.41 430.94L197.61 430.85zM199.66 427.71L200.44 429.77L202.64 429.87L200.91 431.24L201.5 433.36L199.66 432.14L197.83 433.36L198.42 431.24L196.69 429.87L198.89 429.77zM200.95 426.58L201.72 428.65L203.92 428.74L202.2 430.11L202.79 432.24L200.95 431.02L199.11 432.24L199.7 430.11L197.98 428.74L200.18 428.65zM202.23 425.47L203 427.53L205.21 427.63L203.48 429L204.07 431.12L202.23 429.91L200.4 431.12L200.98 429L199.26 427.63L201.46 427.53zM203.52 424.42L204.29 426.48L206.49 426.58L204.77 427.95L205.35 430.07L203.52 428.85L201.68 430.07L202.27 427.95L200.55 426.58L202.75 426.48zM204.8 423.47L205.57 425.54L207.77 425.63L206.05 427.01L206.64 429.13L204.8 427.91L202.97 429.13L203.55 427.01L201.83 425.63L204.03 425.54zM206.09 422.59L206.86 424.65L209.06 424.75L207.33 426.12L207.92 428.24L206.09 427.03L204.25 428.24L204.84 426.12L203.11 424.75L205.31 424.65zM207.37 421.74L208.14 423.8L210.34 423.9L208.62 425.27L209.21 427.39L207.37 426.18L205.53 427.39L206.12 425.27L204.4 423.9L206.6 423.8zM208.65 420.94L209.43 423L211.63 423.1L209.9 424.47L210.49 426.59L208.65 425.38L206.82 426.59L207.41 424.47L205.68 423.1L207.88 423zM209.94 420.2L210.71 422.26L212.91 422.36L211.19 423.73L211.78 425.85L209.94 424.63L208.1 425.85L208.69 423.73L206.97 422.36L209.17 422.26zM211.22 419.52L211.99 421.58L214.2 421.68L212.47 423.05L213.06 425.17L211.22 423.96L209.39 425.17L209.98 423.05L208.25 421.68L210.45 421.58zM212.51 418.92L213.28 420.98L215.48 421.08L213.76 422.45L214.34 424.57L212.51 423.35L210.67 424.57L211.26 422.45L209.54 421.08L211.74 420.98zM213.79 418.36L214.56 420.42L216.76 420.52L215.04 421.89L215.63 424.01L213.79 422.8L211.96 424.01L212.54 421.89L210.82 420.52L213.02 420.42zM215.08 417.84L215.85 419.91L218.05 420L216.32 421.38L216.91 423.5L215.08 422.28L213.24 423.5L213.83 421.38L212.1 420L214.3 419.91zM216.36 417.38L217.13 419.45L219.33 419.54L217.61 420.91L218.2 423.04L216.36 421.82L214.52 423.04L215.11 420.91L213.39 419.54L215.59 419.45zM217.64 416.98L218.42 419.04L220.62 419.14L218.89 420.51L219.48 422.63L217.64 421.42L215.81 422.63L216.4 420.51L214.67 419.14L216.87 419.04zM225.35 412.36L226.12 414.42L228.32 414.52L226.6 415.89L227.19 418.01L225.35 416.79L223.51 418.01L224.1 415.89L222.38 414.52L224.58 414.42zM231.77 409.5L232.54 411.57L234.74 411.66L233.02 413.03L233.61 415.16L231.77 413.94L229.94 415.16L230.52 413.03L228.8 411.66L231 411.57zM238.19 407L238.97 409.06L241.17 409.16L239.44 410.53L240.03 412.65L238.19 411.44L236.36 412.65L236.95 410.53L235.22 409.16L237.42 409.06zM244.62 404.79L245.39 406.85L247.59 406.94L245.86 408.32L246.45 410.44L244.62 409.22L242.78 410.44L243.37 408.32L241.64 406.94L243.84 406.85zM251.04 402.8L251.81 404.86L254.01 404.95L252.28 406.33L252.87 408.45L251.04 407.23L249.2 408.45L249.79 406.33L248.06 404.95L250.27 404.86zM257.46 400.97L258.23 403.03L260.43 403.13L258.71 404.5L259.29 406.62L257.46 405.4L255.62 406.62L256.21 404.5L254.49 403.13L256.69 403.03zM263.88 399.01L264.65 401.08L266.85 401.17L265.13 402.54L265.72 404.67L263.88 403.45L262.04 404.67L262.63 402.54L260.91 401.17L263.11 401.08zM270.3 398.06L271.07 400.12L273.27 400.22L271.55 401.59L272.14 403.71L270.3 402.49L268.46 403.71L269.05 401.59L267.33 400.22L269.53 400.12zM276.72 398.55L277.49 400.61L279.69 400.71L277.97 402.08L278.56 404.2L276.72 402.99L274.89 404.2L275.47 402.08L273.75 400.71L275.95 400.61zM283.14 397.06L283.92 399.12L286.12 399.22L284.39 400.59L284.98 402.71L283.14 401.5L281.31 402.71L281.9 400.59L280.17 399.22L282.37 399.12zM289.57 394.29L290.34 396.35L292.54 396.45L290.81 397.82L291.4 399.94L289.57 398.72L287.73 399.94L288.32 397.82L286.59 396.45L288.79 396.35zM295.99 392.18L296.76 394.25L298.96 394.34L297.24 395.71L297.82 397.84L295.99 396.62L294.15 397.84L294.74 395.71L293.02 394.34L295.22 394.25zM302.41 391.14L303.18 393.2L305.38 393.3L303.66 394.67L304.25 396.79L302.41 395.58L300.57 396.79L301.16 394.67L299.44 393.3L301.64 393.2zM308.83 390.34L309.6 392.4L311.8 392.5L310.08 393.87L310.67 396L308.83 394.78L306.99 396L307.58 393.87L305.86 392.5L308.06 392.4zM315.25 389.59L316.02 391.65L318.22 391.75L316.5 393.12L317.09 395.24L315.25 394.03L313.41 395.24L314 393.12L312.28 391.75L314.48 391.65zM321.67 388.67L322.44 390.73L324.65 390.83L322.92 392.2L323.51 394.32L321.67 393.11L319.84 394.32L320.42 392.2L318.7 390.83L320.9 390.73zM328.09 387.51L328.87 389.57L331.07 389.67L329.34 391.04L329.93 393.16L328.09 391.95L326.26 393.16L326.85 391.04L325.12 389.67L327.32 389.57zM334.52 386.19L335.29 388.26L337.49 388.35L335.76 389.72L336.35 391.85L334.52 390.63L332.68 391.85L333.27 389.72L331.54 388.35L333.74 388.26zM340.94 384.79L341.71 386.85L343.91 386.95L342.19 388.32L342.77 390.44L340.94 389.22L339.1 390.44L339.69 388.32L337.97 386.95L340.17 386.85zM347.36 383.35L348.13 385.41L350.33 385.51L348.61 386.88L349.2 389L347.36 387.78L345.52 389L346.11 386.88L344.39 385.51L346.59 385.41zM353.78 381.94L354.55 384L356.75 384.1L355.03 385.47L355.62 387.59L353.78 386.38L351.94 387.59L352.53 385.47L350.81 384.1L353.01 384zM360.2 380.62L360.97 382.68L363.17 382.78L361.45 384.15L362.04 386.27L360.2 385.06L358.37 386.27L358.95 384.15L357.23 382.78L359.43 382.68zM366.62 379.41L367.4 381.47L369.6 381.57L367.87 382.94L368.46 385.06L366.62 383.85L364.79 385.06L365.38 382.94L363.65 381.57L365.85 381.47zM373.05 377.9L373.82 379.96L376.02 380.06L374.29 381.43L374.88 383.55L373.05 382.34L371.21 383.55L371.8 381.43L370.07 380.06L372.27 379.96zM379.47 376.64L380.24 378.7L382.44 378.8L380.71 380.17L381.3 382.29L379.47 381.08L377.63 382.29L378.22 380.17L376.49 378.8L378.7 378.7zM385.89 374.88L386.66 376.94L388.86 377.04L387.14 378.41L387.72 380.53L385.89 379.31L384.05 380.53L384.64 378.41L382.92 377.04L385.12 376.94zM392.31 373.87L393.08 375.93L395.28 376.03L393.56 377.4L394.15 379.52L392.31 378.31L390.47 379.52L391.06 377.4L389.34 376.03L391.54 375.93zM398.73 373.11L399.5 375.18L401.7 375.27L399.98 376.64L400.57 378.77L398.73 377.55L396.89 378.77L397.48 376.64L395.76 375.27L397.96 375.18zM405.15 371.35L405.92 373.41L408.12 373.51L406.4 374.88L406.99 377L405.15 375.79L403.32 377L403.9 374.88L402.18 373.51L404.38 373.41zM411.57 369.59L412.35 371.65L414.55 371.75L412.82 373.12L413.41 375.24L411.57 374.02L409.74 375.24L410.33 373.12L408.6 371.75L410.8 371.65zM418 369.59L418.77 371.65L420.97 371.75L419.24 373.12L419.83 375.24L418 374.02L416.16 375.24L416.75 373.12L415.02 371.75L417.22 371.65zM424.42 366.82L425.19 368.88L427.39 368.98L425.67 370.35L426.25 372.47L424.42 371.25L422.58 372.47L423.17 370.35L421.45 368.98L423.65 368.88zM430.84 365.56L431.61 367.62L433.81 367.72L432.09 369.09L432.68 371.21L430.84 369.99L429 371.21L429.59 369.09L427.87 367.72L430.07 367.62zM437.26 366.56L438.03 368.63L440.23 368.72L438.51 370.1L439.1 372.22L437.26 371L435.42 372.22L436.01 370.1L434.29 368.72L436.49 368.63zM443.68 363.29L444.45 365.35L446.65 365.45L444.93 366.82L445.52 368.94L443.68 367.73L441.84 368.94L442.43 366.82L440.71 365.45L442.91 365.35zM450.1 361.53L450.87 363.59L453.08 363.69L451.35 365.06L451.94 367.18L450.1 365.96L448.27 367.18L448.85 365.06L447.13 363.69L449.33 363.59zM456.52 360.27L457.3 362.33L459.5 362.43L457.77 363.8L458.36 365.92L456.52 364.7L454.69 365.92L455.28 363.8L453.55 362.43L455.75 362.33zM462.95 360.52L463.72 362.58L465.92 362.68L464.19 364.05L464.78 366.17L462.95 364.96L461.11 366.17L461.7 364.05L459.97 362.68L462.17 362.58zM469.37 356.49L470.14 358.55L472.34 358.65L470.62 360.02L471.2 362.14L469.37 360.93L467.53 362.14L468.12 360.02L466.4 358.65L468.6 358.55zM475.79 353.72L476.56 355.78L478.76 355.88L477.04 357.25L477.63 359.37L475.79 358.16L473.95 359.37L474.54 357.25L472.82 355.88L475.02 355.78zM482.21 353.47L482.98 355.53L485.18 355.63L483.46 357L484.05 359.12L482.21 357.9L480.37 359.12L480.96 357L479.24 355.63L481.44 355.53zM488.63 350.44L489.4 352.51L491.6 352.6L489.88 353.97L490.47 356.1L488.63 354.88L486.8 356.1L487.38 353.97L485.66 352.6L487.86 352.51z" fill="#800080" />
<path d="M116.44 464.3L117.21 466.37L119.41 466.46L117.69 467.83L118.28 469.96L116.44 468.74L114.61 469.96L115.19 467.83L113.47 466.46L115.67 466.37zM121.58 464.05L122.35 466.11L124.55 466.21L122.83 467.58L123.42 469.7L121.58 468.49L119.74 469.7L120.33 467.58L118.61 466.21L120.81 466.11z" fill="#800080" />
<path d="M151.17 511.01L155.73 508.37L155.73 513.65z" fill="#00ffff" />
<path d="M143.28 534.44L146.04 537.2L143.28 539.96L140.52 537.2z" fill="#ff8000" />
</g>
<rect x="102.7" y="341.35" width="391.55" height="314.7" fill="none" stroke="#000" stroke-width="1.3"/>
<line x1="102.7" y1="656.05" x2="102.7" y2="649.85" stroke="#000" stroke-width="1.3"/>
<line x1="102.7" y1="341.35" x2="102.7" y2="347.55" stroke="#000" stroke-width="1.3"/>
<line x1="231.13" y1="656.05" x2="231.13" y2="649.85" stroke="#000" stroke-width="1.3"/>
<line x1="231.13" y1="341.35" x2="231.13" y2="347.55" stroke="#000" stroke-width="1.3"/>
<line x1="359.56" y1="656.05" x2="359.56" y2="649.85" stroke="#000" stroke-width="1.3"/>
<line x1="359.56" y1="341.35" x2="359.56" y2="347.55" stroke="#000" stroke-width="1.3"/>
<line x1="487.99" y1="656.05" x2="487.99" y2="649.85" stroke="#000" stroke-width="1.3"/>
<line x1="487.99" y1="341.35" x2="487.99" y2="347.55" stroke="#000" stroke-width="1.3"/>
<line x1="166.92" y1="656.05" x2="166.92" y2="652.45" stroke="#000" stroke-width="1.3"/>
<line x1="166.92" y1="341.35" x2="166.92" y2="344.95" stroke="#000" stroke-width="1.3"/>
<line x1="295.35" y1="656.05" x2="295.35" y2="652.45" stroke="#000" stroke-width="1.3"/>
<line x1="295.35" y1="341.35" x2="295.35" y2="344.95" stroke="#000" stroke-width="1.3"/>
<line x1="423.77" y1="656.05" x2="423.77" y2="652.45" stroke="#000" stroke-width="1.3"/>
<line x1="423.77" y1="341.35" x2="423.77" y2="344.95" stroke="#000" stroke-width="1.3"/>
<line x1="102.7" y1="656.1" x2="108.9" y2="656.1" stroke="#000" stroke-width="1.3"/>
<line x1="494.25" y1="656.1" x2="488.05" y2="656.1" stroke="#000" stroke-width="1.3"/>
<line x1="102.7" y1="605.72" x2="108.9" y2="605.72" stroke="#000" stroke-width="1.3"/>
<line x1="494.25" y1="605.72" x2="488.05" y2="605.72" stroke="#000" stroke-width="1.3"/>
<line x1="102.7" y1="555.34" x2="108.9" y2="555.34" stroke="#000" stroke-width="1.3"/>
<line x1="494.25" y1="555.34" x2="488.05" y2="555.34" stroke="#000" stroke-width="1.3"/>
<line x1="102.7" y1="504.96" x2="108.9" y2="504.96" stroke="#000" stroke-width="1.3"/>
<line x1="494.25" y1="504.96" x2="488.05" y2="504.96" stroke="#000" stroke-width="1.3"/>
<line x1="102.7" y1="454.58" x2="108.9" y2="454.58" stroke="#000" stroke-width="1.3"/>
<line x1="494.25" y1="454.58" x2="488.05" y2="454.58" stroke="#000" stroke-width="1.3"/>
<line x1="102.7" y1="404.2" x2="108.9" y2="404.2" stroke="#000" stroke-width="1.3"/>
<line x1="494.25" y1="404.2" x2="488.05" y2="404.2" stroke="#000" stroke-width="1.3"/>
<line x1="102.7" y1="353.82" x2="108.9" y2="353.82" stroke="#000" stroke-width="1.3"/>
<line x1="494.25" y1="353.82" x2="488.05" y2="353.82" stroke="#000" stroke-width="1.3"/>
<line x1="102.7" y1="630.91" x2="106.3" y2="630.91" stroke="#000" stroke-width="1.3"/>
<line x1="494.25" y1="630.91" x2="490.65" y2="630.91" stroke="#000" stroke-width="1.3"/>
<line x1="102.7" y1="580.53" x2="106.3" y2="580.53" stroke="#000" stroke-width="1.3"/>
<line x1="494.25" y1="580.53" x2="490.65" y2="580.53" stroke="#000" stroke-width="1.3"/>
<line x1="102.7" y1="530.15" x2="106.3" y2="530.15" stroke="#000" stroke-width="1.3"/>
<line x1="494.25" y1="530.15" x2="490.65" y2="530.15" stroke="#000" stroke-width="1.3"/>
<line x1="102.7" y1="479.77" x2="106.3" y2="479.77" stroke="#000" stroke-width="1.3"/>
<line x1="494.25" y1="479.77" x2="490.65" y2="479.77" stroke="#000" stroke-width="1.3"/>
<line x1="102.7" y1="429.39" x2="106.3" y2="429.39" stroke="#000" stroke-width="1.3"/>
<line x1="494.25" y1="429.39" x2="490.65" y2="429.39" stroke="#000" stroke-width="1.3"/>
<line x1="102.7" y1="379.01" x2="106.3" y2="379.01" stroke="#000" stroke-width="1.3"/>
<line x1="494.25" y1="379.01" x2="490.65" y2="379.01" stroke="#000" stroke-width="1.3"/>
<text x="95.7" y="662.1" font-size="19.3" text-anchor="end" fill="#000" >2</text>
<text x="95.7" y="611.72" font-size="19.3" text-anchor="end" fill="#000" >4</text>
<text x="95.7" y="561.34" font-size="19.3" text-anchor="end" fill="#000" >6</text>
<text x="95.7" y="510.96" font-size="19.3" text-anchor="end" fill="#000" >8</text>
<text x="95.7" y="460.58" font-size="19.3" text-anchor="end" fill="#000" >10</text>
<text x="95.7" y="410.2" font-size="19.3" text-anchor="end" fill="#000" >12</text>
<text x="95.7" y="359.82" font-size="19.3" text-anchor="end" fill="#000" >14</text>
<text x="102.7" y="677.9" font-size="19.3" text-anchor="middle" fill="#000" >0</text>
<text x="231.13" y="677.9" font-size="19.3" text-anchor="middle" fill="#000" >100</text>
<text x="359.56" y="677.9" font-size="19.3" text-anchor="middle" fill="#000" >200</text>
<text x="487.99" y="677.9" font-size="19.3" text-anchor="middle" fill="#000" >300</text>
<text x="271.4" y="714.4" font-size="24.5" text-anchor="start" fill="#000" textLength="55.2" lengthAdjust="spacingAndGlyphs" >T (K)</text>
<text x="111.8" y="375.3" font-size="27" text-anchor="start" fill="#000" >(a)</text>
<text x="220.8" y="373.1" font-size="24.5" text-anchor="start" fill="#000" textLength="150" lengthAdjust="spacingAndGlyphs" >700°C anneal</text>
<text transform="translate(58.8 627.3) rotate(-90)" font-size="24.5" text-anchor="start">M/H (10<tspan dy="-11.2" font-size="16">-4</tspan><tspan dy="11.2">emu/mole)</tspan></text>
<text x="361.2" y="567.7" font-size="19.3" text-anchor="start" fill="#000" textLength="75" lengthAdjust="spacingAndGlyphs" >H=1T ||c</text>
<path d="M314.9 581.4L351.9 581.4" fill="none" stroke="#000000" stroke-width="0.7" />
<path d="M331.3 579.3h4.2v4.2h-4.2z" fill="#000000" />
<text x="356.2" y="587.5" font-size="17" text-anchor="start" fill="#000" >0.00</text>
<path d="M402.4 581.4L439.4 581.4" fill="none" stroke="#ff0000" stroke-width="0.7" />
<path d="M418.8 581.4a2.1 2.1 0 1 0 4.2 0a2.1 2.1 0 1 0 -4.2 0z" fill="#ff0000" />
<text x="443.7" y="587.5" font-size="17" text-anchor="start" fill="#000" >0.010</text>
<path d="M314.9 601.6L351.9 601.6" fill="none" stroke="#008000" stroke-width="0.7" />
<path d="M333.4 599.39L335.71 603.38L331.09 603.38z" fill="#008000" />
<text x="356.2" y="607.7" font-size="17" text-anchor="start" fill="#000" >0.019</text>
<path d="M402.4 601.6L439.4 601.6" fill="none" stroke="#0000ff" stroke-width="0.7" />
<path d="M420.9 603.81L423.21 599.82L418.59 599.82z" fill="#0000ff" />
<text x="443.7" y="607.7" font-size="17" text-anchor="start" fill="#000" >0.022</text>
<path d="M314.9 621.6L351.9 621.6" fill="none" stroke="#ff8000" stroke-width="0.7" />
<path d="M333.4 619.08L335.92 621.6L333.4 624.12L330.88 621.6z" fill="#ff8000" />
<text x="356.2" y="627.7" font-size="17" text-anchor="start" fill="#000" >0.028</text>
<path d="M402.4 621.6L439.4 621.6" fill="none" stroke="#00ffff" stroke-width="0.7" />
<path d="M418.69 621.6L422.69 619.29L422.69 623.91z" fill="#00ffff" />
<text x="443.7" y="627.7" font-size="17" text-anchor="start" fill="#000" >0.038</text>
<path d="M314.9 641.6L351.9 641.6" fill="none" stroke="#800080" stroke-width="0.7" />
<path d="M333.4 638.98L334.05 640.71L335.9 640.79L334.45 641.94L334.94 643.72L333.4 642.7L331.86 643.72L332.35 641.94L330.9 640.79L332.75 640.71z" fill="#800080" />
<text x="356.2" y="647.7" font-size="17" text-anchor="start" fill="#000" >0.059</text>
<g id="pb">
<path d="M655.26 354.1L665.05 354.1L674.84 354.1L684.63 354.1L694.42 354.1L714 354.1L723.79 354.1L733.58 354.1L743.37 354.1L753.16 354.1L762.95 354.1L772.74 354.1L782.53 354.1L792.32 354.1L802.11 354.1L811.9 354.1L821.69 354.1L831.48 354.1L841.27 354.1L851.06 354.1L860.85 354.1L870.64 354.1L880.43 354.1" fill="none" stroke="#00ffff" stroke-width="0.8" />
<path d="M652.42 354.1L657.55 351.13L657.55 357.07zM662.22 354.1L667.35 351.13L667.35 357.07zM672 354.1L677.13 351.13L677.13 357.07zM681.79 354.1L686.92 351.13L686.92 357.07zM691.59 354.1L696.72 351.13L696.72 357.07zM711.16 354.1L716.29 351.13L716.29 357.07zM720.95 354.1L726.08 351.13L726.08 357.07zM730.75 354.1L735.88 351.13L735.88 357.07zM740.53 354.1L745.66 351.13L745.66 357.07zM750.33 354.1L755.46 351.13L755.46 357.07zM760.12 354.1L765.25 351.13L765.25 357.07zM769.9 354.1L775.03 351.13L775.03 357.07zM779.69 354.1L784.82 351.13L784.82 357.07zM789.48 354.1L794.61 351.13L794.61 357.07zM799.27 354.1L804.4 351.13L804.4 357.07zM809.06 354.1L814.19 351.13L814.19 357.07zM818.86 354.1L823.99 351.13L823.99 357.07zM828.64 354.1L833.77 351.13L833.77 357.07zM838.43 354.1L843.56 351.13L843.56 357.07zM848.22 354.1L853.35 351.13L853.35 357.07zM858.01 354.1L863.14 351.13L863.14 357.07zM867.8 354.1L872.93 351.13L872.93 357.07zM877.6 354.1L882.73 351.13L882.73 357.07z" fill="#00ffff" />
<path d="M655.26 350.98L657.78 353.5L655.26 356.02L652.74 353.5zM674.84 350.98L677.36 353.5L674.84 356.02L672.32 353.5zM694.42 350.98L696.94 353.5L694.42 356.02L691.9 353.5zM723.79 350.98L726.31 353.5L723.79 356.02L721.27 353.5zM743.37 350.98L745.89 353.5L743.37 356.02L740.85 353.5zM762.95 350.98L765.47 353.5L762.95 356.02L760.43 353.5zM782.53 350.98L785.05 353.5L782.53 356.02L780.01 353.5zM802.11 350.98L804.63 353.5L802.11 356.02L799.59 353.5zM821.69 350.98L824.21 353.5L821.69 356.02L819.17 353.5zM841.27 350.98L843.79 353.5L841.27 356.02L838.75 353.5zM860.85 350.98L863.37 353.5L860.85 356.02L858.33 353.5zM880.43 350.98L882.95 353.5L880.43 356.02L877.91 353.5z" fill="#ff8000" />
<path d="M655.26 353.2L665.05 353.2L674.84 353.2L684.63 353.2L694.42 353.2L714 353.2L723.79 353.2L733.58 353.2L743.37 353.2L753.16 353.2L762.95 353.2L772.74 353.2L782.53 353.2L792.32 353.2L802.11 353.2L811.9 353.2L821.69 353.2L831.48 353.2L841.27 353.2L851.06 353.2L860.85 353.2L870.64 353.2L880.43 353.2" fill="none" stroke="#ff0000" stroke-width="0.5" />
<path d="M653.46 353.2a1.8 1.8 0 1 0 3.6 0a1.8 1.8 0 1 0 -3.6 0zM663.25 353.2a1.8 1.8 0 1 0 3.6 0a1.8 1.8 0 1 0 -3.6 0zM673.04 353.2a1.8 1.8 0 1 0 3.6 0a1.8 1.8 0 1 0 -3.6 0zM682.83 353.2a1.8 1.8 0 1 0 3.6 0a1.8 1.8 0 1 0 -3.6 0zM692.62 353.2a1.8 1.8 0 1 0 3.6 0a1.8 1.8 0 1 0 -3.6 0zM712.2 353.2a1.8 1.8 0 1 0 3.6 0a1.8 1.8 0 1 0 -3.6 0zM721.99 353.2a1.8 1.8 0 1 0 3.6 0a1.8 1.8 0 1 0 -3.6 0zM731.78 353.2a1.8 1.8 0 1 0 3.6 0a1.8 1.8 0 1 0 -3.6 0zM741.57 353.2a1.8 1.8 0 1 0 3.6 0a1.8 1.8 0 1 0 -3.6 0zM751.36 353.2a1.8 1.8 0 1 0 3.6 0a1.8 1.8 0 1 0 -3.6 0zM761.15 353.2a1.8 1.8 0 1 0 3.6 0a1.8 1.8 0 1 0 -3.6 0zM770.94 353.2a1.8 1.8 0 1 0 3.6 0a1.8 1.8 0 1 0 -3.6 0zM780.73 353.2a1.8 1.8 0 1 0 3.6 0a1.8 1.8 0 1 0 -3.6 0zM790.52 353.2a1.8 1.8 0 1 0 3.6 0a1.8 1.8 0 1 0 -3.6 0zM800.31 353.2a1.8 1.8 0 1 0 3.6 0a1.8 1.8 0 1 0 -3.6 0zM810.1 353.2a1.8 1.8 0 1 0 3.6 0a1.8 1.8 0 1 0 -3.6 0zM819.89 353.2a1.8 1.8 0 1 0 3.6 0a1.8 1.8 0 1 0 -3.6 0zM829.68 353.2a1.8 1.8 0 1 0 3.6 0a1.8 1.8 0 1 0 -3.6 0zM839.47 353.2a1.8 1.8 0 1 0 3.6 0a1.8 1.8 0 1 0 -3.6 0zM849.26 353.2a1.8 1.8 0 1 0 3.6 0a1.8 1.8 0 1 0 -3.6 0zM859.05 353.2a1.8 1.8 0 1 0 3.6 0a1.8 1.8 0 1 0 -3.6 0zM868.84 353.2a1.8 1.8 0 1 0 3.6 0a1.8 1.8 0 1 0 -3.6 0zM878.63 353.2a1.8 1.8 0 1 0 3.6 0a1.8 1.8 0 1 0 -3.6 0z" fill="#ff0000" />
<path d="M655.26 353.2L665.05 353.2L674.84 353.2L684.63 353.2L694.42 353.2L714 353.2L723.79 353.2L733.58 353.2L743.37 353.2L753.16 353.2L762.95 353.2L772.74 353.2L782.53 353.2L792.32 353.2L802.11 353.2L811.9 353.2L821.69 353.2L831.48 353.2L841.27 353.2L851.06 353.2L860.85 353.2L870.64 353.2L880.43 353.2" fill="none" stroke="#800080" stroke-width="0.7" />
<path d="M655.26 349.7L656.12 352.01L658.59 352.12L656.66 353.65L657.32 356.03L655.26 354.67L653.2 356.03L653.86 353.65L651.93 352.12L654.4 352.01zM665.05 349.7L665.91 352.01L668.38 352.12L666.45 353.65L667.11 356.03L665.05 354.67L662.99 356.03L663.65 353.65L661.72 352.12L664.19 352.01zM674.84 349.7L675.7 352.01L678.17 352.12L676.24 353.65L676.9 356.03L674.84 354.67L672.78 356.03L673.44 353.65L671.51 352.12L673.98 352.01zM684.63 349.7L685.49 352.01L687.96 352.12L686.03 353.65L686.69 356.03L684.63 354.67L682.57 356.03L683.23 353.65L681.3 352.12L683.77 352.01zM694.42 349.7L695.28 352.01L697.75 352.12L695.82 353.65L696.48 356.03L694.42 354.67L692.36 356.03L693.02 353.65L691.09 352.12L693.56 352.01zM714 349.7L714.86 352.01L717.33 352.12L715.4 353.65L716.06 356.03L714 354.67L711.94 356.03L712.6 353.65L710.67 352.12L713.14 352.01zM723.79 349.7L724.65 352.01L727.12 352.12L725.19 353.65L725.85 356.03L723.79 354.67L721.73 356.03L722.39 353.65L720.46 352.12L722.93 352.01zM733.58 349.7L734.44 352.01L736.91 352.12L734.98 353.65L735.64 356.03L733.58 354.67L731.52 356.03L732.18 353.65L730.25 352.12L732.72 352.01zM743.37 349.7L744.23 352.01L746.7 352.12L744.77 353.65L745.43 356.03L743.37 354.67L741.31 356.03L741.97 353.65L740.04 352.12L742.51 352.01zM753.16 349.7L754.02 352.01L756.49 352.12L754.56 353.65L755.22 356.03L753.16 354.67L751.1 356.03L751.76 353.65L749.83 352.12L752.3 352.01zM762.95 349.7L763.81 352.01L766.28 352.12L764.35 353.65L765.01 356.03L762.95 354.67L760.89 356.03L761.55 353.65L759.62 352.12L762.09 352.01zM772.74 349.7L773.6 352.01L776.07 352.12L774.14 353.65L774.8 356.03L772.74 354.67L770.68 356.03L771.34 353.65L769.41 352.12L771.88 352.01zM782.53 349.7L783.39 352.01L785.86 352.12L783.93 353.65L784.59 356.03L782.53 354.67L780.47 356.03L781.13 353.65L779.2 352.12L781.67 352.01zM792.32 349.7L793.18 352.01L795.65 352.12L793.72 353.65L794.38 356.03L792.32 354.67L790.26 356.03L790.92 353.65L788.99 352.12L791.46 352.01zM802.11 349.7L802.97 352.01L805.44 352.12L803.51 353.65L804.17 356.03L802.11 354.67L800.05 356.03L800.71 353.65L798.78 352.12L801.25 352.01zM811.9 349.7L812.76 352.01L815.23 352.12L813.3 353.65L813.96 356.03L811.9 354.67L809.84 356.03L810.5 353.65L808.57 352.12L811.04 352.01zM821.69 349.7L822.55 352.01L825.02 352.12L823.09 353.65L823.75 356.03L821.69 354.67L819.63 356.03L820.29 353.65L818.36 352.12L820.83 352.01zM831.48 349.7L832.34 352.01L834.81 352.12L832.88 353.65L833.54 356.03L831.48 354.67L829.42 356.03L830.08 353.65L828.15 352.12L830.62 352.01zM841.27 349.7L842.13 352.01L844.6 352.12L842.67 353.65L843.33 356.03L841.27 354.67L839.21 356.03L839.87 353.65L837.94 352.12L840.41 352.01zM851.06 349.7L851.92 352.01L854.39 352.12L852.46 353.65L853.12 356.03L851.06 354.67L849 356.03L849.66 353.65L847.73 352.12L850.2 352.01zM860.85 349.7L861.71 352.01L864.18 352.12L862.25 353.65L862.91 356.03L860.85 354.67L858.79 356.03L859.45 353.65L857.52 352.12L859.99 352.01zM870.64 349.7L871.5 352.01L873.97 352.12L872.04 353.65L872.7 356.03L870.64 354.67L868.58 356.03L869.24 353.65L867.31 352.12L869.78 352.01zM880.43 349.7L881.29 352.01L883.76 352.12L881.83 353.65L882.49 356.03L880.43 354.67L878.37 356.03L879.03 353.65L877.1 352.12L879.57 352.01z" fill="#800080" />
</g>
<path d="M877 341.35H616.1V656.1H877" fill="none" stroke="#000" stroke-width="1.3" stroke-linejoin="miter"/>
<line x1="616.1" y1="656.1" x2="616.1" y2="649.9" stroke="#000" stroke-width="1.3"/>
<line x1="616.1" y1="341.35" x2="616.1" y2="347.55" stroke="#000" stroke-width="1.3"/>
<line x1="714" y1="656.1" x2="714" y2="649.9" stroke="#000" stroke-width="1.3"/>
<line x1="714" y1="341.35" x2="714" y2="347.55" stroke="#000" stroke-width="1.3"/>
<line x1="811.9" y1="656.1" x2="811.9" y2="649.9" stroke="#000" stroke-width="1.3"/>
<line x1="811.9" y1="341.35" x2="811.9" y2="347.55" stroke="#000" stroke-width="1.3"/>
<line x1="665.05" y1="656.1" x2="665.05" y2="652.5" stroke="#000" stroke-width="1.3"/>
<line x1="665.05" y1="341.35" x2="665.05" y2="344.95" stroke="#000" stroke-width="1.3"/>
<line x1="762.95" y1="656.1" x2="762.95" y2="652.5" stroke="#000" stroke-width="1.3"/>
<line x1="762.95" y1="341.35" x2="762.95" y2="344.95" stroke="#000" stroke-width="1.3"/>
<line x1="860.85" y1="656.1" x2="860.85" y2="652.5" stroke="#000" stroke-width="1.3"/>
<line x1="860.85" y1="341.35" x2="860.85" y2="344.95" stroke="#000" stroke-width="1.3"/>
<line x1="616.1" y1="353.3" x2="622.3" y2="353.3" stroke="#000" stroke-width="1.3"/>
<line x1="616.1" y1="401.75" x2="622.3" y2="401.75" stroke="#000" stroke-width="1.3"/>
<line x1="616.1" y1="450.2" x2="622.3" y2="450.2" stroke="#000" stroke-width="1.3"/>
<line x1="616.1" y1="498.65" x2="622.3" y2="498.65" stroke="#000" stroke-width="1.3"/>
<line x1="616.1" y1="547.1" x2="622.3" y2="547.1" stroke="#000" stroke-width="1.3"/>
<line x1="616.1" y1="595.55" x2="622.3" y2="595.55" stroke="#000" stroke-width="1.3"/>
<line x1="616.1" y1="644" x2="622.3" y2="644" stroke="#000" stroke-width="1.3"/>
<line x1="616.1" y1="377.53" x2="619.7" y2="377.53" stroke="#000" stroke-width="1.3"/>
<line x1="616.1" y1="425.98" x2="619.7" y2="425.98" stroke="#000" stroke-width="1.3"/>
<line x1="616.1" y1="474.43" x2="619.7" y2="474.43" stroke="#000" stroke-width="1.3"/>
<line x1="616.1" y1="522.88" x2="619.7" y2="522.88" stroke="#000" stroke-width="1.3"/>
<line x1="616.1" y1="571.33" x2="619.7" y2="571.33" stroke="#000" stroke-width="1.3"/>
<line x1="616.1" y1="619.78" x2="619.7" y2="619.78" stroke="#000" stroke-width="1.3"/>
<text x="608.6" y="359.3" font-size="19.3" text-anchor="end" fill="#000" >0.0</text>
<text x="608.6" y="407.75" font-size="19.3" text-anchor="end" fill="#000" >-0.2</text>
<text x="608.6" y="456.2" font-size="19.3" text-anchor="end" fill="#000" >-0.4</text>
<text x="608.6" y="504.65" font-size="19.3" text-anchor="end" fill="#000" >-0.6</text>
<text x="608.6" y="553.1" font-size="19.3" text-anchor="end" fill="#000" >-0.8</text>
<text x="608.6" y="601.55" font-size="19.3" text-anchor="end" fill="#000" >-1.0</text>
<text x="608.6" y="650" font-size="19.3" text-anchor="end" fill="#000" >-1.2</text>
<text x="616.1" y="677.9" font-size="19.3" text-anchor="middle" fill="#000" >0</text>
<text x="714" y="677.9" font-size="19.3" text-anchor="middle" fill="#000" >5</text>
<text x="811.9" y="677.9" font-size="19.3" text-anchor="middle" fill="#000" >10</text>
<text x="785.2" y="714.4" font-size="24.5" text-anchor="start" fill="#000" textLength="55.2" lengthAdjust="spacingAndGlyphs" >T (K)</text>
<text x="621.9" y="376.5" font-size="27" text-anchor="start" fill="#000" >(b)</text>
<text transform="translate(555.6 575.8) rotate(-90)" font-size="24.5" text-anchor="start" textLength="117" lengthAdjust="spacingAndGlyphs">M/H (1/4<tspan font-size="19">π</tspan>)</text>
<g id="pi">
<path d="M800.12 575.8L805.35 571.5L810.58 566.4L815.81 559.1L821.04 552.1L831.5 536.4L836.73 531L841.96 523.6L847.19 512.3L852.42 504.8L857.65 500.3L862.88 493.8L868.11 487.5L873.34 481.5" fill="none" stroke="#00ffff" stroke-width="0.45" />
<path d="M798.65 575.8L801.31 574.26L801.31 577.34zM803.88 571.5L806.54 569.96L806.54 573.04zM809.11 566.4L811.77 564.86L811.77 567.94zM814.34 559.1L817 557.56L817 560.64zM819.57 552.1L822.23 550.56L822.23 553.64zM830.03 536.4L832.69 534.86L832.69 537.94zM835.26 531L837.92 529.46L837.92 532.54zM840.49 523.6L843.15 522.06L843.15 525.14zM845.72 512.3L848.38 510.76L848.38 513.84zM850.95 504.8L853.61 503.26L853.61 506.34zM856.18 500.3L858.84 498.76L858.84 501.84zM861.41 493.8L864.07 492.26L864.07 495.34zM866.64 487.5L869.3 485.96L869.3 489.04zM871.87 481.5L874.53 479.96L874.53 483.04z" fill="#00ffff" />
<path d="M800.12 474.9L810.58 471.4L821.04 467.2L831.5 462.6L841.96 458L852.42 453.7L862.88 450.8L873.34 444.5" fill="none" stroke="#ff8000" stroke-width="0.45" />
<path d="M800.12 473.1L801.92 474.9L800.12 476.7L798.32 474.9zM810.58 469.6L812.38 471.4L810.58 473.2L808.78 471.4zM821.04 465.4L822.84 467.2L821.04 469L819.24 467.2zM831.5 460.8L833.3 462.6L831.5 464.4L829.7 462.6zM841.96 456.2L843.76 458L841.96 459.8L840.16 458zM852.42 451.9L854.22 453.7L852.42 455.5L850.62 453.7zM862.88 449L864.68 450.8L862.88 452.6L861.08 450.8zM873.34 442.7L875.14 444.5L873.34 446.3L871.54 444.5z" fill="#ff8000" />
<path d="M800.12 452.8L810.58 452.1L821.04 452L831.5 451.4L841.96 450.8L852.42 449.7L862.88 449.1L873.34 451.2" fill="none" stroke="#008000" stroke-width="0.45" />
<path d="M800.12 451.23L801.77 454.07L798.47 454.07zM810.58 450.53L812.23 453.38L808.93 453.38zM821.04 450.43L822.69 453.27L819.39 453.27zM831.5 449.82L833.15 452.67L829.85 452.67zM841.96 449.23L843.61 452.07L840.31 452.07zM852.42 448.12L854.07 450.97L850.77 450.97zM862.88 447.53L864.53 450.38L861.23 450.38zM873.34 449.62L874.99 452.47L871.69 452.47z" fill="#008000" />
<path d="M800.12 445.1L810.58 444.3L821.04 444.2L831.5 444L841.96 443.9L852.42 443.7L862.88 443.6L873.34 443.5" fill="none" stroke="#ff0000" stroke-width="0.45" />
<path d="M798.52 445.1a1.6 1.6 0 1 0 3.2 0a1.6 1.6 0 1 0 -3.2 0zM808.98 444.3a1.6 1.6 0 1 0 3.2 0a1.6 1.6 0 1 0 -3.2 0zM819.44 444.2a1.6 1.6 0 1 0 3.2 0a1.6 1.6 0 1 0 -3.2 0zM829.9 444a1.6 1.6 0 1 0 3.2 0a1.6 1.6 0 1 0 -3.2 0zM840.36 443.9a1.6 1.6 0 1 0 3.2 0a1.6 1.6 0 1 0 -3.2 0zM850.82 443.7a1.6 1.6 0 1 0 3.2 0a1.6 1.6 0 1 0 -3.2 0zM861.28 443.6a1.6 1.6 0 1 0 3.2 0a1.6 1.6 0 1 0 -3.2 0zM871.74 443.5a1.6 1.6 0 1 0 3.2 0a1.6 1.6 0 1 0 -3.2 0z" fill="#ff0000" />
<path d="M800.12 445.9L805.35 447.4L810.58 446.2L815.81 445.6L821.04 446.6L831.5 445.1L836.73 444.7L841.96 444.5L847.19 444.5L852.42 444.2L857.65 444L862.88 443.7L868.11 443.6L873.34 443.5" fill="none" stroke="#800080" stroke-width="0.45" />
<path d="M800.12 444.02L800.58 445.26L801.9 445.32L800.87 446.14L801.22 447.42L800.12 446.69L799.02 447.42L799.37 446.14L798.34 445.32L799.66 445.26zM805.35 445.52L805.81 446.76L807.13 446.82L806.1 447.64L806.45 448.92L805.35 448.19L804.25 448.92L804.6 447.64L803.57 446.82L804.89 446.76zM810.58 444.32L811.04 445.56L812.36 445.62L811.33 446.44L811.68 447.72L810.58 446.99L809.48 447.72L809.83 446.44L808.8 445.62L810.12 445.56zM815.81 443.73L816.27 444.96L817.59 445.02L816.56 445.84L816.91 447.12L815.81 446.39L814.71 447.12L815.06 445.84L814.03 445.02L815.35 444.96zM821.04 444.73L821.5 445.96L822.82 446.02L821.79 446.84L822.14 448.12L821.04 447.39L819.94 448.12L820.29 446.84L819.26 446.02L820.58 445.96zM831.5 443.23L831.96 444.46L833.28 444.52L832.25 445.34L832.6 446.62L831.5 445.89L830.4 446.62L830.75 445.34L829.72 444.52L831.04 444.46zM836.73 442.82L837.19 444.06L838.51 444.12L837.48 444.94L837.83 446.22L836.73 445.49L835.63 446.22L835.98 444.94L834.95 444.12L836.27 444.06zM841.96 442.62L842.42 443.86L843.74 443.92L842.71 444.74L843.06 446.02L841.96 445.29L840.86 446.02L841.21 444.74L840.18 443.92L841.5 443.86zM847.19 442.62L847.65 443.86L848.97 443.92L847.94 444.74L848.29 446.02L847.19 445.29L846.09 446.02L846.44 444.74L845.41 443.92L846.73 443.86zM852.42 442.32L852.88 443.56L854.2 443.62L853.17 444.44L853.52 445.72L852.42 444.99L851.32 445.72L851.67 444.44L850.64 443.62L851.96 443.56zM857.65 442.12L858.11 443.36L859.43 443.42L858.4 444.24L858.75 445.52L857.65 444.79L856.55 445.52L856.9 444.24L855.87 443.42L857.19 443.36zM862.88 441.82L863.34 443.06L864.66 443.12L863.63 443.94L863.98 445.22L862.88 444.49L861.78 445.22L862.13 443.94L861.1 443.12L862.42 443.06zM868.11 441.73L868.57 442.96L869.89 443.02L868.86 443.84L869.21 445.12L868.11 444.39L867.01 445.12L867.36 443.84L866.33 443.02L867.65 442.96zM873.34 441.62L873.8 442.86L875.12 442.92L874.09 443.74L874.44 445.02L873.34 444.29L872.24 445.02L872.59 443.74L871.56 442.92L872.88 442.86z" fill="#800080" />
</g>
<path d="M877 433.5H779.2V606.5H877" fill="none" stroke="#000" stroke-width="0.9" stroke-linejoin="miter"/>
<line x1="779.2" y1="606.5" x2="779.2" y2="602.9" stroke="#000" stroke-width="0.8"/>
<line x1="779.2" y1="433.5" x2="779.2" y2="437.1" stroke="#000" stroke-width="0.8"/>
<line x1="831.5" y1="606.5" x2="831.5" y2="602.9" stroke="#000" stroke-width="0.8"/>
<line x1="831.5" y1="433.5" x2="831.5" y2="437.1" stroke="#000" stroke-width="0.8"/>
<line x1="805.35" y1="606.5" x2="805.35" y2="604.5" stroke="#000" stroke-width="0.8"/>
<line x1="805.35" y1="433.5" x2="805.35" y2="435.5" stroke="#000" stroke-width="0.8"/>
<line x1="857.65" y1="606.5" x2="857.65" y2="604.5" stroke="#000" stroke-width="0.8"/>
<line x1="857.65" y1="433.5" x2="857.65" y2="435.5" stroke="#000" stroke-width="0.8"/>
<line x1="779.2" y1="449.2" x2="782.8" y2="449.2" stroke="#000" stroke-width="0.8"/>
<line x1="779.2" y1="480.66" x2="782.8" y2="480.66" stroke="#000" stroke-width="0.8"/>
<line x1="779.2" y1="512.12" x2="782.8" y2="512.12" stroke="#000" stroke-width="0.8"/>
<line x1="779.2" y1="543.58" x2="782.8" y2="543.58" stroke="#000" stroke-width="0.8"/>
<line x1="779.2" y1="575.04" x2="782.8" y2="575.04" stroke="#000" stroke-width="0.8"/>
<line x1="779.2" y1="606.5" x2="782.8" y2="606.5" stroke="#000" stroke-width="0.8"/>
<line x1="779.2" y1="464.93" x2="781.2" y2="464.93" stroke="#000" stroke-width="0.8"/>
<line x1="779.2" y1="496.39" x2="781.2" y2="496.39" stroke="#000" stroke-width="0.8"/>
<line x1="779.2" y1="527.85" x2="781.2" y2="527.85" stroke="#000" stroke-width="0.8"/>
<line x1="779.2" y1="559.31" x2="781.2" y2="559.31" stroke="#000" stroke-width="0.8"/>
<line x1="779.2" y1="590.77" x2="781.2" y2="590.77" stroke="#000" stroke-width="0.8"/>
<text x="775.8" y="453.5" font-size="12" text-anchor="end" fill="#000" >0.000</text>
<text x="775.8" y="484.96" font-size="12" text-anchor="end" fill="#000" >-0.001</text>
<text x="775.8" y="516.42" font-size="12" text-anchor="end" fill="#000" >-0.002</text>
<text x="775.8" y="547.88" font-size="12" text-anchor="end" fill="#000" >-0.003</text>
<text x="775.8" y="579.34" font-size="12" text-anchor="end" fill="#000" >-0.004</text>
<text x="775.8" y="610.8" font-size="12" text-anchor="end" fill="#000" >-0.005</text>
<text x="779.2" y="619.3" font-size="11.6" text-anchor="middle" fill="#000" >0</text>
<text x="831.5" y="619.3" font-size="11.6" text-anchor="middle" fill="#000" >5</text>
<text x="865.7" y="643.3" font-size="16" text-anchor="start" fill="#000" >T (K)</text>
<text transform="translate(726.3 572) rotate(-90)" font-size="16.3" text-anchor="start" textLength="77" lengthAdjust="spacingAndGlyphs">M/H (1/4<tspan font-size="12.5">π</tspan>)</text>
<g id="pc">
<path d="M104.75 858.95L105.78 858.76L106.81 858.57L107.84 858.37L108.86 858.15L109.89 857.93L110.92 857.71L111.95 857.47L112.97 857.23L114 856.98L115.03 856.73L116.06 856.47L117.08 856.2L118.11 855.94L119.14 855.67L120.17 855.39L121.19 855.1L122.22 854.8L123.25 854.49L124.28 854.17L125.3 853.82L126.33 853.46L127.36 853.08L128.39 852.67L129.41 852.24L133.52 850.03L137.53 847.3L141.54 844.24L145.54 841.1L149.55 838.07L153.56 835L157.57 831.84L161.57 828.61L165.58 825.35L169.59 822.06L173.59 818.64L177.6 815.18L181.61 811.83L185.61 808.71L189.62 805.74L193.63 802.87L197.64 800.09L201.64 797.4L205.65 794.8L209.66 792.29L213.66 789.88L217.67 787.58L221.68 785.38L225.68 783.25L229.69 781.16L233.7 779.09L234.98 778.43L235.88 777.96L236.78 777.49L237.68 777.01L238.58 776.52L239.48 776.04L240.38 775.55L241.28 775.07L242.17 774.59L243.07 774.12L243.97 773.65L244.87 773.19L245.77 772.74L246.67 772.31L247.57 771.89L248.47 771.48L249.37 771.09L250.27 770.72L251.17 770.37L252.06 770.02L252.96 769.67L253.86 769.32L254.76 768.99L255.66 768.68L256.56 768.39L257.46 768.14L258.36 767.93L259.26 767.76L260.16 767.64L261.05 767.52L261.95 767.42L262.85 767.37L263.75 767.5L264.65 768.23L265.55 769.32L267.09 780.15L268.37 800.18L269.53 812.2L270.69 818.69L271.59 820.91L272.48 822.48L273.38 823.39L274.28 823.82L275.18 824.19L276.08 824.47L276.98 824.67L277.88 824.78L278.78 824.79L279.68 824.7L280.58 824.53L281.47 824.3L282.37 824.04L283.27 823.75L284.17 823.46L285.07 823.19L285.97 822.91L286.87 822.6L287.77 822.27L288.67 821.92L289.57 821.55L290.46 821.17L295.47 819.07L301.89 816.38L308.32 813.66L314.74 810.93L321.16 808.2L327.58 805.48L334 802.77L340.42 800.08L346.85 797.42L353.27 794.79L359.69 792.22L366.11 789.7L372.53 787.26L378.95 784.91L385.37 782.65L391.8 780.42L398.22 778.13L404.64 775.8L411.06 773.45L417.48 771.08L423.9 768.7L430.32 766.22L436.75 763.96L443.17 761.88L449.59 759.87L456.01 757.93L462.43 756.08L468.85 754.35L475.28 752.73L481.7 751.27L488.12 749.96" fill="none" stroke="#000000" stroke-width="0.55" />
<path d="M102.75 856.95h4v4h-4zM103.78 856.76h4v4h-4zM104.81 856.57h4v4h-4zM105.84 856.37h4v4h-4zM106.86 856.15h4v4h-4zM107.89 855.93h4v4h-4zM108.92 855.71h4v4h-4zM109.95 855.47h4v4h-4zM110.97 855.23h4v4h-4zM112 854.98h4v4h-4zM113.03 854.73h4v4h-4zM114.06 854.47h4v4h-4zM115.08 854.2h4v4h-4zM116.11 853.94h4v4h-4zM117.14 853.67h4v4h-4zM118.17 853.39h4v4h-4zM119.19 853.1h4v4h-4zM120.22 852.8h4v4h-4zM121.25 852.49h4v4h-4zM122.28 852.17h4v4h-4zM123.3 851.82h4v4h-4zM124.33 851.46h4v4h-4zM125.36 851.08h4v4h-4zM126.39 850.67h4v4h-4zM127.41 850.24h4v4h-4zM131.52 848.03h4v4h-4zM135.53 845.3h4v4h-4zM139.54 842.24h4v4h-4zM143.54 839.1h4v4h-4zM147.55 836.07h4v4h-4zM151.56 833h4v4h-4zM155.57 829.84h4v4h-4zM159.57 826.61h4v4h-4zM163.58 823.35h4v4h-4zM167.59 820.06h4v4h-4zM171.59 816.64h4v4h-4zM175.6 813.18h4v4h-4zM179.61 809.83h4v4h-4zM183.61 806.71h4v4h-4zM187.62 803.74h4v4h-4zM191.63 800.87h4v4h-4zM195.64 798.09h4v4h-4zM199.64 795.4h4v4h-4zM203.65 792.8h4v4h-4zM207.66 790.29h4v4h-4zM211.66 787.88h4v4h-4zM215.67 785.58h4v4h-4zM219.68 783.38h4v4h-4zM223.68 781.25h4v4h-4zM227.69 779.16h4v4h-4zM231.7 777.09h4v4h-4zM232.98 776.43h4v4h-4zM233.88 775.96h4v4h-4zM234.78 775.49h4v4h-4zM235.68 775.01h4v4h-4zM236.58 774.52h4v4h-4zM237.48 774.04h4v4h-4zM238.38 773.55h4v4h-4zM239.28 773.07h4v4h-4zM240.17 772.59h4v4h-4zM241.07 772.12h4v4h-4zM241.97 771.65h4v4h-4zM242.87 771.19h4v4h-4zM243.77 770.74h4v4h-4zM244.67 770.31h4v4h-4zM245.57 769.89h4v4h-4zM246.47 769.48h4v4h-4zM247.37 769.09h4v4h-4zM248.27 768.72h4v4h-4zM249.17 768.37h4v4h-4zM250.06 768.02h4v4h-4zM250.96 767.67h4v4h-4zM251.86 767.32h4v4h-4zM252.76 766.99h4v4h-4zM253.66 766.68h4v4h-4zM254.56 766.39h4v4h-4zM255.46 766.14h4v4h-4zM256.36 765.93h4v4h-4zM257.26 765.76h4v4h-4zM258.16 765.64h4v4h-4zM259.05 765.52h4v4h-4zM259.95 765.42h4v4h-4zM260.85 765.37h4v4h-4zM261.75 765.5h4v4h-4zM262.65 766.23h4v4h-4zM263.55 767.32h4v4h-4zM265.09 778.15h4v4h-4zM266.37 798.18h4v4h-4zM267.53 810.2h4v4h-4zM268.69 816.69h4v4h-4zM269.59 818.91h4v4h-4zM270.48 820.48h4v4h-4zM271.38 821.39h4v4h-4zM272.28 821.82h4v4h-4zM273.18 822.19h4v4h-4zM274.08 822.47h4v4h-4zM274.98 822.67h4v4h-4zM275.88 822.78h4v4h-4zM276.78 822.79h4v4h-4zM277.68 822.7h4v4h-4zM278.58 822.53h4v4h-4zM279.47 822.3h4v4h-4zM280.37 822.04h4v4h-4zM281.27 821.75h4v4h-4zM282.17 821.46h4v4h-4zM283.07 821.19h4v4h-4zM283.97 820.91h4v4h-4zM284.87 820.6h4v4h-4zM285.77 820.27h4v4h-4zM286.67 819.92h4v4h-4zM287.57 819.55h4v4h-4zM288.46 819.17h4v4h-4zM293.47 817.07h4v4h-4zM299.89 814.38h4v4h-4zM306.32 811.66h4v4h-4zM312.74 808.93h4v4h-4zM319.16 806.2h4v4h-4zM325.58 803.48h4v4h-4zM332 800.77h4v4h-4zM338.42 798.08h4v4h-4zM344.85 795.42h4v4h-4zM351.27 792.79h4v4h-4zM357.69 790.22h4v4h-4zM364.11 787.7h4v4h-4zM370.53 785.26h4v4h-4zM376.95 782.91h4v4h-4zM383.37 780.65h4v4h-4zM389.8 778.42h4v4h-4zM396.22 776.13h4v4h-4zM402.64 773.8h4v4h-4zM409.06 771.45h4v4h-4zM415.48 769.08h4v4h-4zM421.9 766.7h4v4h-4zM428.32 764.22h4v4h-4zM434.75 761.96h4v4h-4zM441.17 759.88h4v4h-4zM447.59 757.87h4v4h-4zM454.01 755.93h4v4h-4zM460.43 754.08h4v4h-4zM466.85 752.35h4v4h-4zM473.28 750.73h4v4h-4zM479.7 749.27h4v4h-4zM486.12 747.96h4v4h-4z" fill="#000000" />
<path d="M161.01 1034.36L162.03 1034.08L163.06 1033.79L164.09 1033.48L165.12 1033.15L166.14 1032.8L167.17 1032.44L168.2 1032.06L169.23 1031.66L170.25 1031.25L171.28 1030.82L172.31 1030.38L173.34 1029.93L174.36 1029.46L175.39 1028.98L176.42 1028.48L177.45 1027.97L178.47 1027.45L179.5 1026.92L180.53 1026.37L181.56 1025.82L182.58 1025.25L183.61 1024.67L184.64 1024.08L185.67 1023.48L186.69 1022.87L187.72 1022.25L188.75 1021.63L189.78 1020.99L190.8 1020.34L191.83 1019.69L192.86 1019.03L193.89 1018.36L194.91 1017.68L195.94 1017L196.97 1016.31L198 1015.61L199.02 1014.91L200.05 1014.2L201.08 1013.49L202.1 1012.76L203.13 1012.04L204.16 1011.31L205.19 1010.57L206.21 1009.83L207.24 1009.09L208.27 1008.34L209.3 1007.58L210.32 1006.83L211.35 1006.07L212.38 1005.3L213.41 1004.54L214.43 1003.77L215.46 1003L216.49 1002.22L217.52 1001.45L218.54 1000.67L219.57 999.89L220.6 999.11L221.63 998.32L222.65 997.54L223.68 996.75L224.71 995.97L225.74 995.18L226.76 994.39L227.79 993.6L228.82 992.81L229.85 992.02L230.87 991.23L231.9 990.44L232.93 989.66L233.96 988.87L234.98 988.08L236.01 987.29L237.04 986.5L238.07 985.72L239.09 984.93L240.12 984.15L241.15 983.37L242.17 982.59L243.2 981.81L244.23 981.03L245.26 980.25L246.28 979.48L247.31 978.71L248.34 977.94L249.37 977.17L250.39 976.4L251.42 975.64L252.45 974.88L253.48 974.12L254.5 973.36L255.53 972.61L256.56 971.85L257.59 971.11L258.61 970.36L259.64 969.62L260.67 968.88L261.7 968.14L262.72 967.4L263.75 966.67L264.78 965.94L265.81 965.22L266.83 964.5L267.86 963.78L268.89 963.06L269.92 962.35L270.94 961.64L271.97 960.94L273 960.24L274.03 959.54L275.05 958.85L276.08 958.15L277.11 957.47L278.14 956.78L279.16 956.1L280.19 955.43L281.22 954.75L282.25 954.08L283.27 953.42L284.3 952.76L285.33 952.1L286.35 951.45L287.38 950.8L288.41 950.15L289.44 949.51L290.46 948.87L291.49 948.23L292.52 947.6L293.55 946.97L294.57 946.35L295.6 945.73L296.63 945.11L297.66 944.5L298.68 943.89L299.71 943.28L300.74 942.68L301.77 942.08L302.79 941.48L303.82 940.89L304.85 940.31L305.88 939.72L306.9 939.14L307.93 938.56L308.96 937.99L309.99 937.42L311.01 936.85L312.04 936.29L313.07 935.73L314.1 935.17L315.12 934.62L316.15 934.07L317.18 933.53L318.21 932.98L319.23 932.44L320.26 931.91L321.29 931.37L322.32 930.84L323.34 930.31L324.37 929.79L325.4 929.27L326.43 928.75L327.45 928.23L328.48 927.72L329.51 927.21L330.53 926.7L331.56 926.2L332.59 925.7L333.62 925.2L334.64 924.7L335.67 924.21L336.7 923.72L337.73 923.23L338.75 922.74L339.78 922.26L340.81 921.77L341.84 921.3L342.86 920.82L343.89 920.34L344.92 919.87L345.95 919.4L346.97 918.93L348 918.46L349.03 918L350.06 917.54L351.08 917.07L352.11 916.62L353.14 916.16L354.17 915.7L355.19 915.25L356.22 914.79L357.25 914.34L358.28 913.89L359.3 913.45L360.33 913L361.36 912.56L362.39 912.11L363.41 911.67L364.44 911.23L365.47 910.79L366.5 910.35L367.52 909.91L368.55 909.47L369.58 909.04L370.6 908.6L371.63 908.17L372.66 907.74L373.69 907.31L374.71 906.87L375.74 906.44L376.77 906.02L377.8 905.59L378.82 905.16L379.85 904.73L380.88 904.3L381.91 903.88L382.93 903.45L383.96 903.03L384.99 902.6L386.02 902.18L387.04 901.75L388.07 901.33L389.1 900.91L390.13 900.49L391.15 900.06L392.18 899.64L393.21 899.22L394.24 898.8L395.26 898.38L396.29 897.96L397.32 897.53L398.35 897.11L399.37 896.69L400.4 896.27L401.43 895.85L402.46 895.43L403.48 895.01L404.51 894.59L405.54 894.17L406.57 893.75L407.59 893.33L408.62 892.92L409.65 892.5L410.68 892.08L411.7 891.66L412.73 891.24L413.76 890.82L414.78 890.4L415.81 889.98L416.84 889.57L417.87 889.15L418.89 888.73L419.92 888.31L420.95 887.89L421.98 887.48L423 887.06L424.03 886.64L425.06 886.23L426.09 885.81L427.11 885.4L428.14 884.98L429.17 884.57L430.2 884.15L431.22 883.74L432.25 883.33L433.28 882.92L434.31 882.5L435.33 882.09L436.36 881.68L437.39 881.27L438.42 880.87L439.44 880.46L440.47 880.05L441.5 879.65L442.53 879.25L443.55 878.84L444.58 878.44L445.61 878.04L446.64 877.64L447.66 877.25L448.69 876.85L449.72 876.46L450.75 876.07L451.77 875.68L452.8 875.29L453.83 874.91L454.86 874.52L455.88 874.14L456.91 873.77L457.94 873.39L458.96 873.02L459.99 872.65L461.02 872.28L462.05 871.92L463.07 871.56L464.1 871.2L465.13 870.85L466.16 870.5L467.18 870.15L468.21 869.81L469.24 869.47L470.27 869.13L471.29 868.8L472.32 868.48L473.35 868.15L474.38 867.84L475.4 867.53L476.43 867.22L477.46 866.92L478.49 866.62L479.51 866.33L480.54 866.05L481.57 865.77L482.6 865.5L483.62 865.24L484.65 864.98L485.68 864.73L486.71 864.48L487.73 864.24" fill="none" stroke="#ff0000" stroke-width="0.55" />
<path d="M158.61 1034.36a2.4 2.4 0 1 0 4.8 0a2.4 2.4 0 1 0 -4.8 0zM159.63 1034.08a2.4 2.4 0 1 0 4.8 0a2.4 2.4 0 1 0 -4.8 0zM160.66 1033.79a2.4 2.4 0 1 0 4.8 0a2.4 2.4 0 1 0 -4.8 0zM161.69 1033.48a2.4 2.4 0 1 0 4.8 0a2.4 2.4 0 1 0 -4.8 0zM162.72 1033.15a2.4 2.4 0 1 0 4.8 0a2.4 2.4 0 1 0 -4.8 0zM163.74 1032.8a2.4 2.4 0 1 0 4.8 0a2.4 2.4 0 1 0 -4.8 0zM164.77 1032.44a2.4 2.4 0 1 0 4.8 0a2.4 2.4 0 1 0 -4.8 0zM165.8 1032.06a2.4 2.4 0 1 0 4.8 0a2.4 2.4 0 1 0 -4.8 0zM166.83 1031.66a2.4 2.4 0 1 0 4.8 0a2.4 2.4 0 1 0 -4.8 0zM167.85 1031.25a2.4 2.4 0 1 0 4.8 0a2.4 2.4 0 1 0 -4.8 0zM168.88 1030.82a2.4 2.4 0 1 0 4.8 0a2.4 2.4 0 1 0 -4.8 0zM169.91 1030.38a2.4 2.4 0 1 0 4.8 0a2.4 2.4 0 1 0 -4.8 0zM170.94 1029.93a2.4 2.4 0 1 0 4.8 0a2.4 2.4 0 1 0 -4.8 0zM171.96 1029.46a2.4 2.4 0 1 0 4.8 0a2.4 2.4 0 1 0 -4.8 0zM172.99 1028.98a2.4 2.4 0 1 0 4.8 0a2.4 2.4 0 1 0 -4.8 0zM174.02 1028.48a2.4 2.4 0 1 0 4.8 0a2.4 2.4 0 1 0 -4.8 0zM175.05 1027.97a2.4 2.4 0 1 0 4.8 0a2.4 2.4 0 1 0 -4.8 0zM176.07 1027.45a2.4 2.4 0 1 0 4.8 0a2.4 2.4 0 1 0 -4.8 0zM177.1 1026.92a2.4 2.4 0 1 0 4.8 0a2.4 2.4 0 1 0 -4.8 0zM178.13 1026.37a2.4 2.4 0 1 0 4.8 0a2.4 2.4 0 1 0 -4.8 0zM179.16 1025.82a2.4 2.4 0 1 0 4.8 0a2.4 2.4 0 1 0 -4.8 0zM180.18 1025.25a2.4 2.4 0 1 0 4.8 0a2.4 2.4 0 1 0 -4.8 0zM181.21 1024.67a2.4 2.4 0 1 0 4.8 0a2.4 2.4 0 1 0 -4.8 0zM182.24 1024.08a2.4 2.4 0 1 0 4.8 0a2.4 2.4 0 1 0 -4.8 0zM183.27 1023.48a2.4 2.4 0 1 0 4.8 0a2.4 2.4 0 1 0 -4.8 0zM184.29 1022.87a2.4 2.4 0 1 0 4.8 0a2.4 2.4 0 1 0 -4.8 0zM185.32 1022.25a2.4 2.4 0 1 0 4.8 0a2.4 2.4 0 1 0 -4.8 0zM186.35 1021.63a2.4 2.4 0 1 0 4.8 0a2.4 2.4 0 1 0 -4.8 0zM187.38 1020.99a2.4 2.4 0 1 0 4.8 0a2.4 2.4 0 1 0 -4.8 0zM188.4 1020.34a2.4 2.4 0 1 0 4.8 0a2.4 2.4 0 1 0 -4.8 0zM189.43 1019.69a2.4 2.4 0 1 0 4.8 0a2.4 2.4 0 1 0 -4.8 0zM190.46 1019.03a2.4 2.4 0 1 0 4.8 0a2.4 2.4 0 1 0 -4.8 0zM191.49 1018.36a2.4 2.4 0 1 0 4.8 0a2.4 2.4 0 1 0 -4.8 0zM192.51 1017.68a2.4 2.4 0 1 0 4.8 0a2.4 2.4 0 1 0 -4.8 0zM193.54 1017a2.4 2.4 0 1 0 4.8 0a2.4 2.4 0 1 0 -4.8 0zM194.57 1016.31a2.4 2.4 0 1 0 4.8 0a2.4 2.4 0 1 0 -4.8 0zM195.6 1015.61a2.4 2.4 0 1 0 4.8 0a2.4 2.4 0 1 0 -4.8 0zM196.62 1014.91a2.4 2.4 0 1 0 4.8 0a2.4 2.4 0 1 0 -4.8 0zM197.65 1014.2a2.4 2.4 0 1 0 4.8 0a2.4 2.4 0 1 0 -4.8 0zM198.68 1013.49a2.4 2.4 0 1 0 4.8 0a2.4 2.4 0 1 0 -4.8 0zM199.7 1012.76a2.4 2.4 0 1 0 4.8 0a2.4 2.4 0 1 0 -4.8 0zM200.73 1012.04a2.4 2.4 0 1 0 4.8 0a2.4 2.4 0 1 0 -4.8 0zM201.76 1011.31a2.4 2.4 0 1 0 4.8 0a2.4 2.4 0 1 0 -4.8 0zM202.79 1010.57a2.4 2.4 0 1 0 4.8 0a2.4 2.4 0 1 0 -4.8 0zM203.81 1009.83a2.4 2.4 0 1 0 4.8 0a2.4 2.4 0 1 0 -4.8 0zM204.84 1009.09a2.4 2.4 0 1 0 4.8 0a2.4 2.4 0 1 0 -4.8 0zM205.87 1008.34a2.4 2.4 0 1 0 4.8 0a2.4 2.4 0 1 0 -4.8 0zM206.9 1007.58a2.4 2.4 0 1 0 4.8 0a2.4 2.4 0 1 0 -4.8 0zM207.92 1006.83a2.4 2.4 0 1 0 4.8 0a2.4 2.4 0 1 0 -4.8 0zM208.95 1006.07a2.4 2.4 0 1 0 4.8 0a2.4 2.4 0 1 0 -4.8 0zM209.98 1005.3a2.4 2.4 0 1 0 4.8 0a2.4 2.4 0 1 0 -4.8 0zM211.01 1004.54a2.4 2.4 0 1 0 4.8 0a2.4 2.4 0 1 0 -4.8 0zM212.03 1003.77a2.4 2.4 0 1 0 4.8 0a2.4 2.4 0 1 0 -4.8 0zM213.06 1003a2.4 2.4 0 1 0 4.8 0a2.4 2.4 0 1 0 -4.8 0zM214.09 1002.22a2.4 2.4 0 1 0 4.8 0a2.4 2.4 0 1 0 -4.8 0zM215.12 1001.45a2.4 2.4 0 1 0 4.8 0a2.4 2.4 0 1 0 -4.8 0zM216.14 1000.67a2.4 2.4 0 1 0 4.8 0a2.4 2.4 0 1 0 -4.8 0zM217.17 999.89a2.4 2.4 0 1 0 4.8 0a2.4 2.4 0 1 0 -4.8 0zM218.2 999.11a2.4 2.4 0 1 0 4.8 0a2.4 2.4 0 1 0 -4.8 0zM219.23 998.32a2.4 2.4 0 1 0 4.8 0a2.4 2.4 0 1 0 -4.8 0zM220.25 997.54a2.4 2.4 0 1 0 4.8 0a2.4 2.4 0 1 0 -4.8 0zM221.28 996.75a2.4 2.4 0 1 0 4.8 0a2.4 2.4 0 1 0 -4.8 0zM222.31 995.97a2.4 2.4 0 1 0 4.8 0a2.4 2.4 0 1 0 -4.8 0zM223.34 995.18a2.4 2.4 0 1 0 4.8 0a2.4 2.4 0 1 0 -4.8 0zM224.36 994.39a2.4 2.4 0 1 0 4.8 0a2.4 2.4 0 1 0 -4.8 0zM225.39 993.6a2.4 2.4 0 1 0 4.8 0a2.4 2.4 0 1 0 -4.8 0zM226.42 992.81a2.4 2.4 0 1 0 4.8 0a2.4 2.4 0 1 0 -4.8 0zM227.45 992.02a2.4 2.4 0 1 0 4.8 0a2.4 2.4 0 1 0 -4.8 0zM228.47 991.23a2.4 2.4 0 1 0 4.8 0a2.4 2.4 0 1 0 -4.8 0zM229.5 990.44a2.4 2.4 0 1 0 4.8 0a2.4 2.4 0 1 0 -4.8 0zM230.53 989.66a2.4 2.4 0 1 0 4.8 0a2.4 2.4 0 1 0 -4.8 0zM231.56 988.87a2.4 2.4 0 1 0 4.8 0a2.4 2.4 0 1 0 -4.8 0zM232.58 988.08a2.4 2.4 0 1 0 4.8 0a2.4 2.4 0 1 0 -4.8 0zM233.61 987.29a2.4 2.4 0 1 0 4.8 0a2.4 2.4 0 1 0 -4.8 0zM234.64 986.5a2.4 2.4 0 1 0 4.8 0a2.4 2.4 0 1 0 -4.8 0zM235.67 985.72a2.4 2.4 0 1 0 4.8 0a2.4 2.4 0 1 0 -4.8 0zM236.69 984.93a2.4 2.4 0 1 0 4.8 0a2.4 2.4 0 1 0 -4.8 0zM237.72 984.15a2.4 2.4 0 1 0 4.8 0a2.4 2.4 0 1 0 -4.8 0zM238.75 983.37a2.4 2.4 0 1 0 4.8 0a2.4 2.4 0 1 0 -4.8 0zM239.77 982.59a2.4 2.4 0 1 0 4.8 0a2.4 2.4 0 1 0 -4.8 0zM240.8 981.81a2.4 2.4 0 1 0 4.8 0a2.4 2.4 0 1 0 -4.8 0zM241.83 981.03a2.4 2.4 0 1 0 4.8 0a2.4 2.4 0 1 0 -4.8 0zM242.86 980.25a2.4 2.4 0 1 0 4.8 0a2.4 2.4 0 1 0 -4.8 0zM243.88 979.48a2.4 2.4 0 1 0 4.8 0a2.4 2.4 0 1 0 -4.8 0zM244.91 978.71a2.4 2.4 0 1 0 4.8 0a2.4 2.4 0 1 0 -4.8 0zM245.94 977.94a2.4 2.4 0 1 0 4.8 0a2.4 2.4 0 1 0 -4.8 0zM246.97 977.17a2.4 2.4 0 1 0 4.8 0a2.4 2.4 0 1 0 -4.8 0zM247.99 976.4a2.4 2.4 0 1 0 4.8 0a2.4 2.4 0 1 0 -4.8 0zM249.02 975.64a2.4 2.4 0 1 0 4.8 0a2.4 2.4 0 1 0 -4.8 0zM250.05 974.88a2.4 2.4 0 1 0 4.8 0a2.4 2.4 0 1 0 -4.8 0zM251.08 974.12a2.4 2.4 0 1 0 4.8 0a2.4 2.4 0 1 0 -4.8 0zM252.1 973.36a2.4 2.4 0 1 0 4.8 0a2.4 2.4 0 1 0 -4.8 0zM253.13 972.61a2.4 2.4 0 1 0 4.8 0a2.4 2.4 0 1 0 -4.8 0zM254.16 971.85a2.4 2.4 0 1 0 4.8 0a2.4 2.4 0 1 0 -4.8 0zM255.19 971.11a2.4 2.4 0 1 0 4.8 0a2.4 2.4 0 1 0 -4.8 0zM256.21 970.36a2.4 2.4 0 1 0 4.8 0a2.4 2.4 0 1 0 -4.8 0zM257.24 969.62a2.4 2.4 0 1 0 4.8 0a2.4 2.4 0 1 0 -4.8 0zM258.27 968.88a2.4 2.4 0 1 0 4.8 0a2.4 2.4 0 1 0 -4.8 0zM259.3 968.14a2.4 2.4 0 1 0 4.8 0a2.4 2.4 0 1 0 -4.8 0zM260.32 967.4a2.4 2.4 0 1 0 4.8 0a2.4 2.4 0 1 0 -4.8 0zM261.35 966.67a2.4 2.4 0 1 0 4.8 0a2.4 2.4 0 1 0 -4.8 0zM262.38 965.94a2.4 2.4 0 1 0 4.8 0a2.4 2.4 0 1 0 -4.8 0zM263.41 965.22a2.4 2.4 0 1 0 4.8 0a2.4 2.4 0 1 0 -4.8 0zM264.43 964.5a2.4 2.4 0 1 0 4.8 0a2.4 2.4 0 1 0 -4.8 0zM265.46 963.78a2.4 2.4 0 1 0 4.8 0a2.4 2.4 0 1 0 -4.8 0zM266.49 963.06a2.4 2.4 0 1 0 4.8 0a2.4 2.4 0 1 0 -4.8 0zM267.52 962.35a2.4 2.4 0 1 0 4.8 0a2.4 2.4 0 1 0 -4.8 0zM268.54 961.64a2.4 2.4 0 1 0 4.8 0a2.4 2.4 0 1 0 -4.8 0zM269.57 960.94a2.4 2.4 0 1 0 4.8 0a2.4 2.4 0 1 0 -4.8 0zM270.6 960.24a2.4 2.4 0 1 0 4.8 0a2.4 2.4 0 1 0 -4.8 0zM271.63 959.54a2.4 2.4 0 1 0 4.8 0a2.4 2.4 0 1 0 -4.8 0zM272.65 958.85a2.4 2.4 0 1 0 4.8 0a2.4 2.4 0 1 0 -4.8 0zM273.68 958.15a2.4 2.4 0 1 0 4.8 0a2.4 2.4 0 1 0 -4.8 0zM274.71 957.47a2.4 2.4 0 1 0 4.8 0a2.4 2.4 0 1 0 -4.8 0zM275.74 956.78a2.4 2.4 0 1 0 4.8 0a2.4 2.4 0 1 0 -4.8 0zM276.76 956.1a2.4 2.4 0 1 0 4.8 0a2.4 2.4 0 1 0 -4.8 0zM277.79 955.43a2.4 2.4 0 1 0 4.8 0a2.4 2.4 0 1 0 -4.8 0zM278.82 954.75a2.4 2.4 0 1 0 4.8 0a2.4 2.4 0 1 0 -4.8 0zM279.85 954.08a2.4 2.4 0 1 0 4.8 0a2.4 2.4 0 1 0 -4.8 0zM280.87 953.42a2.4 2.4 0 1 0 4.8 0a2.4 2.4 0 1 0 -4.8 0zM281.9 952.76a2.4 2.4 0 1 0 4.8 0a2.4 2.4 0 1 0 -4.8 0zM282.93 952.1a2.4 2.4 0 1 0 4.8 0a2.4 2.4 0 1 0 -4.8 0zM283.95 951.45a2.4 2.4 0 1 0 4.8 0a2.4 2.4 0 1 0 -4.8 0zM284.98 950.8a2.4 2.4 0 1 0 4.8 0a2.4 2.4 0 1 0 -4.8 0zM286.01 950.15a2.4 2.4 0 1 0 4.8 0a2.4 2.4 0 1 0 -4.8 0zM287.04 949.51a2.4 2.4 0 1 0 4.8 0a2.4 2.4 0 1 0 -4.8 0zM288.06 948.87a2.4 2.4 0 1 0 4.8 0a2.4 2.4 0 1 0 -4.8 0zM289.09 948.23a2.4 2.4 0 1 0 4.8 0a2.4 2.4 0 1 0 -4.8 0zM290.12 947.6a2.4 2.4 0 1 0 4.8 0a2.4 2.4 0 1 0 -4.8 0zM291.15 946.97a2.4 2.4 0 1 0 4.8 0a2.4 2.4 0 1 0 -4.8 0zM292.17 946.35a2.4 2.4 0 1 0 4.8 0a2.4 2.4 0 1 0 -4.8 0zM293.2 945.73a2.4 2.4 0 1 0 4.8 0a2.4 2.4 0 1 0 -4.8 0zM294.23 945.11a2.4 2.4 0 1 0 4.8 0a2.4 2.4 0 1 0 -4.8 0zM295.26 944.5a2.4 2.4 0 1 0 4.8 0a2.4 2.4 0 1 0 -4.8 0zM296.28 943.89a2.4 2.4 0 1 0 4.8 0a2.4 2.4 0 1 0 -4.8 0zM297.31 943.28a2.4 2.4 0 1 0 4.8 0a2.4 2.4 0 1 0 -4.8 0zM298.34 942.68a2.4 2.4 0 1 0 4.8 0a2.4 2.4 0 1 0 -4.8 0zM299.37 942.08a2.4 2.4 0 1 0 4.8 0a2.4 2.4 0 1 0 -4.8 0zM300.39 941.48a2.4 2.4 0 1 0 4.8 0a2.4 2.4 0 1 0 -4.8 0zM301.42 940.89a2.4 2.4 0 1 0 4.8 0a2.4 2.4 0 1 0 -4.8 0zM302.45 940.31a2.4 2.4 0 1 0 4.8 0a2.4 2.4 0 1 0 -4.8 0zM303.48 939.72a2.4 2.4 0 1 0 4.8 0a2.4 2.4 0 1 0 -4.8 0zM304.5 939.14a2.4 2.4 0 1 0 4.8 0a2.4 2.4 0 1 0 -4.8 0zM305.53 938.56a2.4 2.4 0 1 0 4.8 0a2.4 2.4 0 1 0 -4.8 0zM306.56 937.99a2.4 2.4 0 1 0 4.8 0a2.4 2.4 0 1 0 -4.8 0zM307.59 937.42a2.4 2.4 0 1 0 4.8 0a2.4 2.4 0 1 0 -4.8 0zM308.61 936.85a2.4 2.4 0 1 0 4.8 0a2.4 2.4 0 1 0 -4.8 0zM309.64 936.29a2.4 2.4 0 1 0 4.8 0a2.4 2.4 0 1 0 -4.8 0zM310.67 935.73a2.4 2.4 0 1 0 4.8 0a2.4 2.4 0 1 0 -4.8 0zM311.7 935.17a2.4 2.4 0 1 0 4.8 0a2.4 2.4 0 1 0 -4.8 0zM312.72 934.62a2.4 2.4 0 1 0 4.8 0a2.4 2.4 0 1 0 -4.8 0zM313.75 934.07a2.4 2.4 0 1 0 4.8 0a2.4 2.4 0 1 0 -4.8 0zM314.78 933.53a2.4 2.4 0 1 0 4.8 0a2.4 2.4 0 1 0 -4.8 0zM315.81 932.98a2.4 2.4 0 1 0 4.8 0a2.4 2.4 0 1 0 -4.8 0zM316.83 932.44a2.4 2.4 0 1 0 4.8 0a2.4 2.4 0 1 0 -4.8 0zM317.86 931.91a2.4 2.4 0 1 0 4.8 0a2.4 2.4 0 1 0 -4.8 0zM318.89 931.37a2.4 2.4 0 1 0 4.8 0a2.4 2.4 0 1 0 -4.8 0zM319.92 930.84a2.4 2.4 0 1 0 4.8 0a2.4 2.4 0 1 0 -4.8 0zM320.94 930.31a2.4 2.4 0 1 0 4.8 0a2.4 2.4 0 1 0 -4.8 0zM321.97 929.79a2.4 2.4 0 1 0 4.8 0a2.4 2.4 0 1 0 -4.8 0zM323 929.27a2.4 2.4 0 1 0 4.8 0a2.4 2.4 0 1 0 -4.8 0zM324.03 928.75a2.4 2.4 0 1 0 4.8 0a2.4 2.4 0 1 0 -4.8 0zM325.05 928.23a2.4 2.4 0 1 0 4.8 0a2.4 2.4 0 1 0 -4.8 0zM326.08 927.72a2.4 2.4 0 1 0 4.8 0a2.4 2.4 0 1 0 -4.8 0zM327.11 927.21a2.4 2.4 0 1 0 4.8 0a2.4 2.4 0 1 0 -4.8 0zM328.13 926.7a2.4 2.4 0 1 0 4.8 0a2.4 2.4 0 1 0 -4.8 0zM329.16 926.2a2.4 2.4 0 1 0 4.8 0a2.4 2.4 0 1 0 -4.8 0zM330.19 925.7a2.4 2.4 0 1 0 4.8 0a2.4 2.4 0 1 0 -4.8 0zM331.22 925.2a2.4 2.4 0 1 0 4.8 0a2.4 2.4 0 1 0 -4.8 0zM332.24 924.7a2.4 2.4 0 1 0 4.8 0a2.4 2.4 0 1 0 -4.8 0zM333.27 924.21a2.4 2.4 0 1 0 4.8 0a2.4 2.4 0 1 0 -4.8 0zM334.3 923.72a2.4 2.4 0 1 0 4.8 0a2.4 2.4 0 1 0 -4.8 0zM335.33 923.23a2.4 2.4 0 1 0 4.8 0a2.4 2.4 0 1 0 -4.8 0zM336.35 922.74a2.4 2.4 0 1 0 4.8 0a2.4 2.4 0 1 0 -4.8 0zM337.38 922.26a2.4 2.4 0 1 0 4.8 0a2.4 2.4 0 1 0 -4.8 0zM338.41 921.77a2.4 2.4 0 1 0 4.8 0a2.4 2.4 0 1 0 -4.8 0zM339.44 921.3a2.4 2.4 0 1 0 4.8 0a2.4 2.4 0 1 0 -4.8 0zM340.46 920.82a2.4 2.4 0 1 0 4.8 0a2.4 2.4 0 1 0 -4.8 0zM341.49 920.34a2.4 2.4 0 1 0 4.8 0a2.4 2.4 0 1 0 -4.8 0zM342.52 919.87a2.4 2.4 0 1 0 4.8 0a2.4 2.4 0 1 0 -4.8 0zM343.55 919.4a2.4 2.4 0 1 0 4.8 0a2.4 2.4 0 1 0 -4.8 0zM344.57 918.93a2.4 2.4 0 1 0 4.8 0a2.4 2.4 0 1 0 -4.8 0zM345.6 918.46a2.4 2.4 0 1 0 4.8 0a2.4 2.4 0 1 0 -4.8 0zM346.63 918a2.4 2.4 0 1 0 4.8 0a2.4 2.4 0 1 0 -4.8 0zM347.66 917.54a2.4 2.4 0 1 0 4.8 0a2.4 2.4 0 1 0 -4.8 0zM348.68 917.07a2.4 2.4 0 1 0 4.8 0a2.4 2.4 0 1 0 -4.8 0zM349.71 916.62a2.4 2.4 0 1 0 4.8 0a2.4 2.4 0 1 0 -4.8 0zM350.74 916.16a2.4 2.4 0 1 0 4.8 0a2.4 2.4 0 1 0 -4.8 0zM351.77 915.7a2.4 2.4 0 1 0 4.8 0a2.4 2.4 0 1 0 -4.8 0zM352.79 915.25a2.4 2.4 0 1 0 4.8 0a2.4 2.4 0 1 0 -4.8 0zM353.82 914.79a2.4 2.4 0 1 0 4.8 0a2.4 2.4 0 1 0 -4.8 0zM354.85 914.34a2.4 2.4 0 1 0 4.8 0a2.4 2.4 0 1 0 -4.8 0zM355.88 913.89a2.4 2.4 0 1 0 4.8 0a2.4 2.4 0 1 0 -4.8 0zM356.9 913.45a2.4 2.4 0 1 0 4.8 0a2.4 2.4 0 1 0 -4.8 0zM357.93 913a2.4 2.4 0 1 0 4.8 0a2.4 2.4 0 1 0 -4.8 0zM358.96 912.56a2.4 2.4 0 1 0 4.8 0a2.4 2.4 0 1 0 -4.8 0zM359.99 912.11a2.4 2.4 0 1 0 4.8 0a2.4 2.4 0 1 0 -4.8 0zM361.01 911.67a2.4 2.4 0 1 0 4.8 0a2.4 2.4 0 1 0 -4.8 0zM362.04 911.23a2.4 2.4 0 1 0 4.8 0a2.4 2.4 0 1 0 -4.8 0zM363.07 910.79a2.4 2.4 0 1 0 4.8 0a2.4 2.4 0 1 0 -4.8 0zM364.1 910.35a2.4 2.4 0 1 0 4.8 0a2.4 2.4 0 1 0 -4.8 0zM365.12 909.91a2.4 2.4 0 1 0 4.8 0a2.4 2.4 0 1 0 -4.8 0zM366.15 909.47a2.4 2.4 0 1 0 4.8 0a2.4 2.4 0 1 0 -4.8 0zM367.18 909.04a2.4 2.4 0 1 0 4.8 0a2.4 2.4 0 1 0 -4.8 0zM368.2 908.6a2.4 2.4 0 1 0 4.8 0a2.4 2.4 0 1 0 -4.8 0zM369.23 908.17a2.4 2.4 0 1 0 4.8 0a2.4 2.4 0 1 0 -4.8 0zM370.26 907.74a2.4 2.4 0 1 0 4.8 0a2.4 2.4 0 1 0 -4.8 0zM371.29 907.31a2.4 2.4 0 1 0 4.8 0a2.4 2.4 0 1 0 -4.8 0zM372.31 906.87a2.4 2.4 0 1 0 4.8 0a2.4 2.4 0 1 0 -4.8 0zM373.34 906.44a2.4 2.4 0 1 0 4.8 0a2.4 2.4 0 1 0 -4.8 0zM374.37 906.02a2.4 2.4 0 1 0 4.8 0a2.4 2.4 0 1 0 -4.8 0zM375.4 905.59a2.4 2.4 0 1 0 4.8 0a2.4 2.4 0 1 0 -4.8 0zM376.42 905.16a2.4 2.4 0 1 0 4.8 0a2.4 2.4 0 1 0 -4.8 0zM377.45 904.73a2.4 2.4 0 1 0 4.8 0a2.4 2.4 0 1 0 -4.8 0zM378.48 904.3a2.4 2.4 0 1 0 4.8 0a2.4 2.4 0 1 0 -4.8 0zM379.51 903.88a2.4 2.4 0 1 0 4.8 0a2.4 2.4 0 1 0 -4.8 0zM380.53 903.45a2.4 2.4 0 1 0 4.8 0a2.4 2.4 0 1 0 -4.8 0zM381.56 903.03a2.4 2.4 0 1 0 4.8 0a2.4 2.4 0 1 0 -4.8 0zM382.59 902.6a2.4 2.4 0 1 0 4.8 0a2.4 2.4 0 1 0 -4.8 0zM383.62 902.18a2.4 2.4 0 1 0 4.8 0a2.4 2.4 0 1 0 -4.8 0zM384.64 901.75a2.4 2.4 0 1 0 4.8 0a2.4 2.4 0 1 0 -4.8 0zM385.67 901.33a2.4 2.4 0 1 0 4.8 0a2.4 2.4 0 1 0 -4.8 0zM386.7 900.91a2.4 2.4 0 1 0 4.8 0a2.4 2.4 0 1 0 -4.8 0zM387.73 900.49a2.4 2.4 0 1 0 4.8 0a2.4 2.4 0 1 0 -4.8 0zM388.75 900.06a2.4 2.4 0 1 0 4.8 0a2.4 2.4 0 1 0 -4.8 0zM389.78 899.64a2.4 2.4 0 1 0 4.8 0a2.4 2.4 0 1 0 -4.8 0zM390.81 899.22a2.4 2.4 0 1 0 4.8 0a2.4 2.4 0 1 0 -4.8 0zM391.84 898.8a2.4 2.4 0 1 0 4.8 0a2.4 2.4 0 1 0 -4.8 0zM392.86 898.38a2.4 2.4 0 1 0 4.8 0a2.4 2.4 0 1 0 -4.8 0zM393.89 897.96a2.4 2.4 0 1 0 4.8 0a2.4 2.4 0 1 0 -4.8 0zM394.92 897.53a2.4 2.4 0 1 0 4.8 0a2.4 2.4 0 1 0 -4.8 0zM395.95 897.11a2.4 2.4 0 1 0 4.8 0a2.4 2.4 0 1 0 -4.8 0zM396.97 896.69a2.4 2.4 0 1 0 4.8 0a2.4 2.4 0 1 0 -4.8 0zM398 896.27a2.4 2.4 0 1 0 4.8 0a2.4 2.4 0 1 0 -4.8 0zM399.03 895.85a2.4 2.4 0 1 0 4.8 0a2.4 2.4 0 1 0 -4.8 0zM400.06 895.43a2.4 2.4 0 1 0 4.8 0a2.4 2.4 0 1 0 -4.8 0zM401.08 895.01a2.4 2.4 0 1 0 4.8 0a2.4 2.4 0 1 0 -4.8 0zM402.11 894.59a2.4 2.4 0 1 0 4.8 0a2.4 2.4 0 1 0 -4.8 0zM403.14 894.17a2.4 2.4 0 1 0 4.8 0a2.4 2.4 0 1 0 -4.8 0zM404.17 893.75a2.4 2.4 0 1 0 4.8 0a2.4 2.4 0 1 0 -4.8 0zM405.19 893.33a2.4 2.4 0 1 0 4.8 0a2.4 2.4 0 1 0 -4.8 0zM406.22 892.92a2.4 2.4 0 1 0 4.8 0a2.4 2.4 0 1 0 -4.8 0zM407.25 892.5a2.4 2.4 0 1 0 4.8 0a2.4 2.4 0 1 0 -4.8 0zM408.28 892.08a2.4 2.4 0 1 0 4.8 0a2.4 2.4 0 1 0 -4.8 0zM409.3 891.66a2.4 2.4 0 1 0 4.8 0a2.4 2.4 0 1 0 -4.8 0zM410.33 891.24a2.4 2.4 0 1 0 4.8 0a2.4 2.4 0 1 0 -4.8 0zM411.36 890.82a2.4 2.4 0 1 0 4.8 0a2.4 2.4 0 1 0 -4.8 0zM412.38 890.4a2.4 2.4 0 1 0 4.8 0a2.4 2.4 0 1 0 -4.8 0zM413.41 889.98a2.4 2.4 0 1 0 4.8 0a2.4 2.4 0 1 0 -4.8 0zM414.44 889.57a2.4 2.4 0 1 0 4.8 0a2.4 2.4 0 1 0 -4.8 0zM415.47 889.15a2.4 2.4 0 1 0 4.8 0a2.4 2.4 0 1 0 -4.8 0zM416.49 888.73a2.4 2.4 0 1 0 4.8 0a2.4 2.4 0 1 0 -4.8 0zM417.52 888.31a2.4 2.4 0 1 0 4.8 0a2.4 2.4 0 1 0 -4.8 0zM418.55 887.89a2.4 2.4 0 1 0 4.8 0a2.4 2.4 0 1 0 -4.8 0zM419.58 887.48a2.4 2.4 0 1 0 4.8 0a2.4 2.4 0 1 0 -4.8 0zM420.6 887.06a2.4 2.4 0 1 0 4.8 0a2.4 2.4 0 1 0 -4.8 0zM421.63 886.64a2.4 2.4 0 1 0 4.8 0a2.4 2.4 0 1 0 -4.8 0zM422.66 886.23a2.4 2.4 0 1 0 4.8 0a2.4 2.4 0 1 0 -4.8 0zM423.69 885.81a2.4 2.4 0 1 0 4.8 0a2.4 2.4 0 1 0 -4.8 0zM424.71 885.4a2.4 2.4 0 1 0 4.8 0a2.4 2.4 0 1 0 -4.8 0zM425.74 884.98a2.4 2.4 0 1 0 4.8 0a2.4 2.4 0 1 0 -4.8 0zM426.77 884.57a2.4 2.4 0 1 0 4.8 0a2.4 2.4 0 1 0 -4.8 0zM427.8 884.15a2.4 2.4 0 1 0 4.8 0a2.4 2.4 0 1 0 -4.8 0zM428.82 883.74a2.4 2.4 0 1 0 4.8 0a2.4 2.4 0 1 0 -4.8 0zM429.85 883.33a2.4 2.4 0 1 0 4.8 0a2.4 2.4 0 1 0 -4.8 0zM430.88 882.92a2.4 2.4 0 1 0 4.8 0a2.4 2.4 0 1 0 -4.8 0zM431.91 882.5a2.4 2.4 0 1 0 4.8 0a2.4 2.4 0 1 0 -4.8 0zM432.93 882.09a2.4 2.4 0 1 0 4.8 0a2.4 2.4 0 1 0 -4.8 0zM433.96 881.68a2.4 2.4 0 1 0 4.8 0a2.4 2.4 0 1 0 -4.8 0zM434.99 881.27a2.4 2.4 0 1 0 4.8 0a2.4 2.4 0 1 0 -4.8 0zM436.02 880.87a2.4 2.4 0 1 0 4.8 0a2.4 2.4 0 1 0 -4.8 0zM437.04 880.46a2.4 2.4 0 1 0 4.8 0a2.4 2.4 0 1 0 -4.8 0zM438.07 880.05a2.4 2.4 0 1 0 4.8 0a2.4 2.4 0 1 0 -4.8 0zM439.1 879.65a2.4 2.4 0 1 0 4.8 0a2.4 2.4 0 1 0 -4.8 0zM440.13 879.25a2.4 2.4 0 1 0 4.8 0a2.4 2.4 0 1 0 -4.8 0zM441.15 878.84a2.4 2.4 0 1 0 4.8 0a2.4 2.4 0 1 0 -4.8 0zM442.18 878.44a2.4 2.4 0 1 0 4.8 0a2.4 2.4 0 1 0 -4.8 0zM443.21 878.04a2.4 2.4 0 1 0 4.8 0a2.4 2.4 0 1 0 -4.8 0zM444.24 877.64a2.4 2.4 0 1 0 4.8 0a2.4 2.4 0 1 0 -4.8 0zM445.26 877.25a2.4 2.4 0 1 0 4.8 0a2.4 2.4 0 1 0 -4.8 0zM446.29 876.85a2.4 2.4 0 1 0 4.8 0a2.4 2.4 0 1 0 -4.8 0zM447.32 876.46a2.4 2.4 0 1 0 4.8 0a2.4 2.4 0 1 0 -4.8 0zM448.35 876.07a2.4 2.4 0 1 0 4.8 0a2.4 2.4 0 1 0 -4.8 0zM449.37 875.68a2.4 2.4 0 1 0 4.8 0a2.4 2.4 0 1 0 -4.8 0zM450.4 875.29a2.4 2.4 0 1 0 4.8 0a2.4 2.4 0 1 0 -4.8 0zM451.43 874.91a2.4 2.4 0 1 0 4.8 0a2.4 2.4 0 1 0 -4.8 0zM452.46 874.52a2.4 2.4 0 1 0 4.8 0a2.4 2.4 0 1 0 -4.8 0zM453.48 874.14a2.4 2.4 0 1 0 4.8 0a2.4 2.4 0 1 0 -4.8 0zM454.51 873.77a2.4 2.4 0 1 0 4.8 0a2.4 2.4 0 1 0 -4.8 0zM455.54 873.39a2.4 2.4 0 1 0 4.8 0a2.4 2.4 0 1 0 -4.8 0zM456.56 873.02a2.4 2.4 0 1 0 4.8 0a2.4 2.4 0 1 0 -4.8 0zM457.59 872.65a2.4 2.4 0 1 0 4.8 0a2.4 2.4 0 1 0 -4.8 0zM458.62 872.28a2.4 2.4 0 1 0 4.8 0a2.4 2.4 0 1 0 -4.8 0zM459.65 871.92a2.4 2.4 0 1 0 4.8 0a2.4 2.4 0 1 0 -4.8 0zM460.67 871.56a2.4 2.4 0 1 0 4.8 0a2.4 2.4 0 1 0 -4.8 0zM461.7 871.2a2.4 2.4 0 1 0 4.8 0a2.4 2.4 0 1 0 -4.8 0zM462.73 870.85a2.4 2.4 0 1 0 4.8 0a2.4 2.4 0 1 0 -4.8 0zM463.76 870.5a2.4 2.4 0 1 0 4.8 0a2.4 2.4 0 1 0 -4.8 0zM464.78 870.15a2.4 2.4 0 1 0 4.8 0a2.4 2.4 0 1 0 -4.8 0zM465.81 869.81a2.4 2.4 0 1 0 4.8 0a2.4 2.4 0 1 0 -4.8 0zM466.84 869.47a2.4 2.4 0 1 0 4.8 0a2.4 2.4 0 1 0 -4.8 0zM467.87 869.13a2.4 2.4 0 1 0 4.8 0a2.4 2.4 0 1 0 -4.8 0zM468.89 868.8a2.4 2.4 0 1 0 4.8 0a2.4 2.4 0 1 0 -4.8 0zM469.92 868.48a2.4 2.4 0 1 0 4.8 0a2.4 2.4 0 1 0 -4.8 0zM470.95 868.15a2.4 2.4 0 1 0 4.8 0a2.4 2.4 0 1 0 -4.8 0zM471.98 867.84a2.4 2.4 0 1 0 4.8 0a2.4 2.4 0 1 0 -4.8 0zM473 867.53a2.4 2.4 0 1 0 4.8 0a2.4 2.4 0 1 0 -4.8 0zM474.03 867.22a2.4 2.4 0 1 0 4.8 0a2.4 2.4 0 1 0 -4.8 0zM475.06 866.92a2.4 2.4 0 1 0 4.8 0a2.4 2.4 0 1 0 -4.8 0zM476.09 866.62a2.4 2.4 0 1 0 4.8 0a2.4 2.4 0 1 0 -4.8 0zM477.11 866.33a2.4 2.4 0 1 0 4.8 0a2.4 2.4 0 1 0 -4.8 0zM478.14 866.05a2.4 2.4 0 1 0 4.8 0a2.4 2.4 0 1 0 -4.8 0zM479.17 865.77a2.4 2.4 0 1 0 4.8 0a2.4 2.4 0 1 0 -4.8 0zM480.2 865.5a2.4 2.4 0 1 0 4.8 0a2.4 2.4 0 1 0 -4.8 0zM481.22 865.24a2.4 2.4 0 1 0 4.8 0a2.4 2.4 0 1 0 -4.8 0zM482.25 864.98a2.4 2.4 0 1 0 4.8 0a2.4 2.4 0 1 0 -4.8 0zM483.28 864.73a2.4 2.4 0 1 0 4.8 0a2.4 2.4 0 1 0 -4.8 0zM484.31 864.48a2.4 2.4 0 1 0 4.8 0a2.4 2.4 0 1 0 -4.8 0zM485.33 864.24a2.4 2.4 0 1 0 4.8 0a2.4 2.4 0 1 0 -4.8 0z" fill="#ff0000" />
<path d="M104.75 1018.27L105.78 1018.41L106.81 1018.54L107.84 1018.66L108.86 1018.76L109.89 1018.85L110.92 1018.92L111.95 1018.98L112.97 1019.03L114 1019.07L115.03 1019.09L116.06 1019.1L117.08 1019.1L118.11 1019.09L119.14 1019.07L120.17 1019.04L121.19 1019L122.22 1018.95L123.25 1018.9L124.28 1018.83L125.3 1018.76L126.33 1018.67L127.36 1018.58L128.39 1018.49L129.41 1018.38L130.44 1018.27L131.47 1018.16L132.5 1018.04L133.52 1017.91L134.55 1017.78L135.58 1017.64L136.61 1017.5L137.63 1017.36L138.66 1017.22L139.69 1017.07L140.72 1016.92L141.74 1016.76L142.77 1016.61L143.8 1016.45L144.83 1016.3L145.85 1016.14L146.88 1015.98L147.91 1015.83L148.93 1015.67L149.96 1015.51L150.99 1015.36L152.02 1015.21L153.04 1015.06L154.07 1014.91L155.1 1014.77L156.13 1014.63L157.15 1014.49L158.18 1014.36L159.21 1014.23L160.24 1014.11L161.26 1013.99L162.29 1013.88L163.32 1013.77L164.35 1013.67L165.37 1013.58L166.4 1013.5L167.43 1009.59L168.46 1009.05L169.48 1008.49L170.51 1007.94L171.54 1007.37L172.57 1006.8L173.59 1006.23L174.62 1005.65L175.65 1005.07L176.68 1004.48L177.7 1003.89L178.73 1003.3L179.76 1002.69L180.79 1002.09L181.81 1001.48L182.84 1000.87L183.87 1000.25L184.9 999.63L185.92 999.01L186.95 998.38L187.98 997.75L189 997.12L190.03 996.48L191.06 995.84L192.09 995.2L193.11 994.55L194.14 993.9L195.17 993.25L196.2 992.6L197.22 991.94L198.25 991.28L199.28 990.62L200.31 989.95L201.33 989.29L202.36 988.62L203.39 987.95L204.42 987.28L205.44 986.6L206.47 985.93L207.5 985.25L208.53 984.57L209.55 983.89L210.58 983.21L211.61 982.53L212.64 981.84L213.66 981.16L214.69 980.47L215.72 979.78L216.75 979.09L217.77 978.4L218.8 977.71L219.83 977.02L220.86 976.33L221.88 975.63L222.91 974.94L223.94 974.25L224.97 973.55L225.99 972.86L227.02 972.16L228.05 971.47L229.08 970.77L230.1 970.07L231.13 969.38L232.16 968.68L233.18 967.99L234.21 967.29L235.24 966.59L236.27 965.9L237.29 965.2L238.32 964.51L239.35 963.81L240.38 963.12L241.4 962.43L242.43 961.73L243.46 961.04L244.49 960.35L245.51 959.65L246.54 958.96L248.47 957.67L251.29 955.78L254.12 953.89L256.94 952.01L259.77 950.15L262.6 948.29L265.42 946.43L268.25 944.6L271.07 942.77L273.9 940.95L276.72 939.15L279.55 937.35L282.37 935.58L285.2 933.81L288.02 932.06L290.85 930.32L293.68 928.6L296.5 926.89L299.33 925.2L302.15 923.53L304.98 921.87L307.8 920.22L310.63 918.59L313.45 916.98L316.28 915.38L319.1 913.8L321.93 912.24L324.76 910.69L327.58 909.16L330.41 907.65L333.23 906.15L336.06 904.67L338.88 903.2L341.71 901.75L344.53 900.32L347.36 898.9L350.18 897.5L353.01 896.11L355.84 894.74L358.66 893.39L361.49 892.05L364.31 890.72L367.14 889.41L369.96 888.12L372.79 886.84L375.61 885.57L378.44 884.32L381.26 883.08L384.09 881.85L386.92 880.64L389.74 879.44L392.57 878.26L395.39 877.09L398.22 875.93L401.04 874.78L403.87 873.64L406.69 872.52L409.52 871.41L412.34 870.31L415.17 869.22L418 868.15L420.82 867.08L423.65 866.03L426.47 864.98L429.3 863.95L432.12 862.93L434.95 861.92L437.77 860.92L440.6 859.93L443.42 858.96L446.25 857.99L449.08 857.03L451.9 856.09L454.73 855.15L457.55 854.23L460.38 853.32L463.2 852.41L466.03 851.52L468.85 850.65L471.68 849.78L474.5 848.92L477.33 848.08L480.16 847.25L482.98 846.44L485.81 845.63L488.63 844.84" fill="none" stroke="#008000" stroke-width="0.55" />
<path d="M104.75 1015.8L107.34 1020.26L102.17 1020.26zM105.78 1015.94L108.37 1020.41L103.2 1020.41zM106.81 1016.08L109.39 1020.54L104.22 1020.54zM107.84 1016.19L110.42 1020.66L105.25 1020.66zM108.86 1016.29L111.45 1020.76L106.28 1020.76zM109.89 1016.38L112.48 1020.85L107.31 1020.85zM110.92 1016.45L113.5 1020.92L108.33 1020.92zM111.95 1016.52L114.53 1020.98L109.36 1020.98zM112.97 1016.56L115.56 1021.03L110.39 1021.03zM114 1016.6L116.59 1021.06L111.42 1021.06zM115.03 1016.62L117.61 1021.09L112.44 1021.09zM116.06 1016.64L118.64 1021.1L113.47 1021.1zM117.08 1016.64L119.67 1021.1L114.5 1021.1zM118.11 1016.63L120.7 1021.09L115.53 1021.09zM119.14 1016.61L121.72 1021.07L116.55 1021.07zM120.17 1016.58L122.75 1021.04L117.58 1021.04zM121.19 1016.54L123.78 1021L118.61 1021zM122.22 1016.49L124.81 1020.95L119.64 1020.95zM123.25 1016.43L125.83 1020.89L120.66 1020.89zM124.28 1016.36L126.86 1020.83L121.69 1020.83zM125.3 1016.29L127.89 1020.75L122.72 1020.75zM126.33 1016.2L128.92 1020.67L123.75 1020.67zM127.36 1016.11L129.94 1020.58L124.77 1020.58zM128.39 1016.02L130.97 1020.48L125.8 1020.48zM129.41 1015.91L132 1020.38L126.83 1020.38zM130.44 1015.8L133.03 1020.27L127.86 1020.27zM131.47 1015.69L134.05 1020.15L128.88 1020.15zM132.5 1015.57L135.08 1020.03L129.91 1020.03zM133.52 1015.44L136.11 1019.91L130.94 1019.91zM134.55 1015.31L137.14 1019.78L131.97 1019.78zM135.58 1015.18L138.16 1019.64L132.99 1019.64zM136.61 1015.04L139.19 1019.5L134.02 1019.5zM137.63 1014.89L140.22 1019.36L135.05 1019.36zM138.66 1014.75L141.25 1019.21L136.08 1019.21zM139.69 1014.6L142.27 1019.06L137.1 1019.06zM140.72 1014.45L143.3 1018.91L138.13 1018.91zM141.74 1014.3L144.33 1018.76L139.16 1018.76zM142.77 1014.14L145.36 1018.61L140.19 1018.61zM143.8 1013.99L146.38 1018.45L141.21 1018.45zM144.83 1013.83L147.41 1018.29L142.24 1018.29zM145.85 1013.67L148.44 1018.14L143.27 1018.14zM146.88 1013.51L149.46 1017.98L144.29 1017.98zM147.91 1013.36L150.49 1017.82L145.32 1017.82zM148.93 1013.2L151.52 1017.67L146.35 1017.67zM149.96 1013.05L152.55 1017.51L147.38 1017.51zM150.99 1012.89L153.57 1017.36L148.4 1017.36zM152.02 1012.74L154.6 1017.21L149.43 1017.21zM153.04 1012.59L155.63 1017.06L150.46 1017.06zM154.07 1012.45L156.66 1016.91L151.49 1016.91zM155.1 1012.3L157.68 1016.77L152.51 1016.77zM156.13 1012.16L158.71 1016.63L153.54 1016.63zM157.15 1012.02L159.74 1016.49L154.57 1016.49zM158.18 1011.89L160.77 1016.36L155.6 1016.36zM159.21 1011.76L161.79 1016.23L156.62 1016.23zM160.24 1011.64L162.82 1016.11L157.65 1016.11zM161.26 1011.52L163.85 1015.99L158.68 1015.99zM162.29 1011.41L164.88 1015.88L159.71 1015.88zM163.32 1011.31L165.9 1015.77L160.73 1015.77zM164.35 1011.21L166.93 1015.67L161.76 1015.67zM165.37 1011.11L167.96 1015.58L162.79 1015.58zM166.4 1011.03L168.99 1015.49L163.82 1015.49zM167.43 1007.13L170.01 1011.59L164.84 1011.59zM168.46 1006.58L171.04 1011.04L165.87 1011.04zM169.48 1006.03L172.07 1010.49L166.9 1010.49zM170.51 1005.47L173.1 1009.93L167.93 1009.93zM171.54 1004.91L174.12 1009.37L168.95 1009.37zM172.57 1004.34L175.15 1008.8L169.98 1008.8zM173.59 1003.76L176.18 1008.23L171.01 1008.23zM174.62 1003.19L177.21 1007.65L172.04 1007.65zM175.65 1002.6L178.23 1007.07L173.06 1007.07zM176.68 1002.02L179.26 1006.48L174.09 1006.48zM177.7 1001.42L180.29 1005.89L175.12 1005.89zM178.73 1000.83L181.32 1005.29L176.15 1005.29zM179.76 1000.23L182.34 1004.69L177.17 1004.69zM180.79 999.62L183.37 1004.09L178.2 1004.09zM181.81 999.01L184.4 1003.48L179.23 1003.48zM182.84 998.4L185.43 1002.87L180.26 1002.87zM183.87 997.79L186.45 1002.25L181.28 1002.25zM184.9 997.17L187.48 1001.63L182.31 1001.63zM185.92 996.54L188.51 1001.01L183.34 1001.01zM186.95 995.91L189.54 1000.38L184.37 1000.38zM187.98 995.28L190.56 999.75L185.39 999.75zM189 994.65L191.59 999.11L186.42 999.11zM190.03 994.01L192.62 998.48L187.45 998.48zM191.06 993.37L193.64 997.84L188.47 997.84zM192.09 992.73L194.67 997.19L189.5 997.19zM193.11 992.08L195.7 996.55L190.53 996.55zM194.14 991.43L196.73 995.9L191.56 995.9zM195.17 990.78L197.75 995.25L192.58 995.25zM196.2 990.13L198.78 994.59L193.61 994.59zM197.22 989.47L199.81 993.94L194.64 993.94zM198.25 988.81L200.84 993.28L195.67 993.28zM199.28 988.15L201.86 992.62L196.69 992.62zM200.31 987.49L202.89 991.95L197.72 991.95zM201.33 986.82L203.92 991.29L198.75 991.29zM202.36 986.15L204.95 990.62L199.78 990.62zM203.39 985.48L205.97 989.95L200.8 989.95zM204.42 984.81L207 989.28L201.83 989.28zM205.44 984.14L208.03 988.6L202.86 988.6zM206.47 983.46L209.06 987.93L203.89 987.93zM207.5 982.78L210.08 987.25L204.91 987.25zM208.53 982.1L211.11 986.57L205.94 986.57zM209.55 981.42L212.14 985.89L206.97 985.89zM210.58 980.74L213.17 985.21L208 985.21zM211.61 980.06L214.19 984.52L209.02 984.52zM212.64 979.37L215.22 983.84L210.05 983.84zM213.66 978.69L216.25 983.15L211.08 983.15zM214.69 978L217.28 982.47L212.11 982.47zM215.72 977.31L218.3 981.78L213.13 981.78zM216.75 976.62L219.33 981.09L214.16 981.09zM217.77 975.93L220.36 980.4L215.19 980.4zM218.8 975.24L221.39 979.71L216.22 979.71zM219.83 974.55L222.41 979.02L217.24 979.02zM220.86 973.86L223.44 978.32L218.27 978.32zM221.88 973.17L224.47 977.63L219.3 977.63zM222.91 972.47L225.5 976.94L220.33 976.94zM223.94 971.78L226.52 976.24L221.35 976.24zM224.97 971.08L227.55 975.55L222.38 975.55zM225.99 970.39L228.58 974.85L223.41 974.85zM227.02 969.69L229.61 974.16L224.44 974.16zM228.05 969L230.63 973.46L225.46 973.46zM229.08 968.3L231.66 972.77L226.49 972.77zM230.1 967.61L232.69 972.07L227.52 972.07zM231.13 966.91L233.71 971.38L228.54 971.38zM232.16 966.22L234.74 970.68L229.57 970.68zM233.18 965.52L235.77 969.98L230.6 969.98zM234.21 964.82L236.8 969.29L231.63 969.29zM235.24 964.13L237.82 968.59L232.65 968.59zM236.27 963.43L238.85 967.9L233.68 967.9zM237.29 962.74L239.88 967.2L234.71 967.2zM238.32 962.04L240.91 966.51L235.74 966.51zM239.35 961.35L241.93 965.81L236.76 965.81zM240.38 960.65L242.96 965.12L237.79 965.12zM241.4 959.96L243.99 964.42L238.82 964.42zM242.43 959.26L245.02 963.73L239.85 963.73zM243.46 958.57L246.04 963.04L240.87 963.04zM244.49 957.88L247.07 962.34L241.9 962.34zM245.51 957.19L248.1 961.65L242.93 961.65zM246.54 956.5L249.13 960.96L243.96 960.96zM248.47 955.2L251.05 959.67L245.88 959.67zM251.29 953.31L253.88 957.78L248.71 957.78zM254.12 951.42L256.7 955.89L251.53 955.89zM256.94 949.55L259.53 954.01L254.36 954.01zM259.77 947.68L262.35 952.14L257.18 952.14zM262.6 945.82L265.18 950.28L260.01 950.28zM265.42 943.97L268.01 948.43L262.84 948.43zM268.25 942.13L270.83 946.59L265.66 946.59zM271.07 940.3L273.66 944.76L268.49 944.76zM273.9 938.48L276.48 942.95L271.31 942.95zM276.72 936.68L279.31 941.14L274.14 941.14zM279.55 934.89L282.13 939.35L276.96 939.35zM282.37 933.11L284.96 937.57L279.79 937.57zM285.2 931.34L287.78 935.81L282.61 935.81zM288.02 929.59L290.61 934.06L285.44 934.06zM290.85 927.86L293.43 932.32L288.26 932.32zM293.68 926.13L296.26 930.6L291.09 930.6zM296.5 924.43L299.09 928.89L293.92 928.89zM299.33 922.73L301.91 927.2L296.74 927.2zM302.15 921.06L304.74 925.52L299.57 925.52zM304.98 919.4L307.56 923.86L302.39 923.86zM307.8 917.75L310.39 922.22L305.22 922.22zM310.63 916.12L313.21 920.59L308.04 920.59zM313.45 914.51L316.04 918.98L310.87 918.98zM316.28 912.92L318.86 917.38L313.69 917.38zM319.1 911.34L321.69 915.8L316.52 915.8zM321.93 909.77L324.52 914.24L319.35 914.24zM324.76 908.23L327.34 912.69L322.17 912.69zM327.58 906.69L330.17 911.16L325 911.16zM330.41 905.18L332.99 909.64L327.82 909.64zM333.23 903.68L335.82 908.15L330.65 908.15zM336.06 902.2L338.64 906.66L333.47 906.66zM338.88 900.73L341.47 905.2L336.3 905.2zM341.71 899.28L344.29 903.75L339.12 903.75zM344.53 897.85L347.12 902.32L341.95 902.32zM347.36 896.43L349.94 900.9L344.77 900.9zM350.18 895.03L352.77 899.5L347.6 899.5zM353.01 893.65L355.6 898.11L350.43 898.11zM355.84 892.27L358.42 896.74L353.25 896.74zM358.66 890.92L361.25 895.38L356.08 895.38zM361.49 889.58L364.07 894.04L358.9 894.04zM364.31 888.25L366.9 892.72L361.73 892.72zM367.14 886.94L369.72 891.41L364.55 891.41zM369.96 885.65L372.55 890.11L367.38 890.11zM372.79 884.37L375.37 888.83L370.2 888.83zM375.61 883.1L378.2 887.57L373.03 887.57zM378.44 881.85L381.02 886.31L375.85 886.31zM381.26 880.61L383.85 885.08L378.68 885.08zM384.09 879.39L386.68 883.85L381.51 883.85zM386.92 878.17L389.5 882.64L384.33 882.64zM389.74 876.98L392.33 881.44L387.16 881.44zM392.57 875.79L395.15 880.26L389.98 880.26zM395.39 874.62L397.98 879.08L392.81 879.08zM398.22 873.46L400.8 877.92L395.63 877.92zM401.04 872.31L403.63 876.78L398.46 876.78zM403.87 871.18L406.45 875.64L401.28 875.64zM406.69 870.05L409.28 874.52L404.11 874.52zM409.52 868.94L412.1 873.41L406.93 873.41zM412.34 867.84L414.93 872.31L409.76 872.31zM415.17 866.75L417.76 871.22L412.59 871.22zM418 865.68L420.58 870.14L415.41 870.14zM420.82 864.61L423.41 869.08L418.24 869.08zM423.65 863.56L426.23 868.02L421.06 868.02zM426.47 862.52L429.06 866.98L423.89 866.98zM429.3 861.49L431.88 865.95L426.71 865.95zM432.12 860.46L434.71 864.93L429.54 864.93zM434.95 859.45L437.53 863.92L432.36 863.92zM437.77 858.46L440.36 862.92L435.19 862.92zM440.6 857.47L443.18 861.93L438.01 861.93zM443.42 856.49L446.01 860.95L440.84 860.95zM446.25 855.52L448.84 859.99L443.67 859.99zM449.08 854.57L451.66 859.03L446.49 859.03zM451.9 853.62L454.49 858.09L449.32 858.09zM454.73 852.69L457.31 857.15L452.14 857.15zM457.55 851.76L460.14 856.23L454.97 856.23zM460.38 850.85L462.96 855.31L457.79 855.31zM463.2 849.95L465.79 854.41L460.62 854.41zM466.03 849.06L468.61 853.52L463.44 853.52zM468.85 848.18L471.44 852.64L466.27 852.64zM471.68 847.31L474.26 851.78L469.09 851.78zM474.5 846.46L477.09 850.92L471.92 850.92zM477.33 845.62L479.92 850.08L474.75 850.08zM480.16 844.79L482.74 849.25L477.57 849.25zM482.98 843.97L485.57 848.43L480.4 848.43zM485.81 843.17L488.39 847.63L483.22 847.63zM488.63 842.38L491.22 846.84L486.05 846.84z" fill="#008000" />
<path d="M170.64 989.65L171.54 989.2L172.44 988.74L173.34 988.27L174.24 987.8L175.13 987.33L176.03 986.86L176.93 986.38L177.83 985.9L178.73 985.42L179.63 984.93L180.53 984.44L181.43 983.95L182.33 983.45L183.23 982.95L184.12 982.45L185.02 981.95L185.92 981.44L186.82 980.93L187.72 980.42L188.62 979.91L189.52 979.39L190.42 978.87L191.32 978.35L192.22 977.82L193.11 977.3L194.01 976.77L194.91 976.24L195.81 975.7L196.71 975.17L197.61 974.63L198.51 974.09L199.41 973.55L200.31 973.01L201.21 972.46L202.1 971.91L203 971.36L203.9 970.81L204.8 970.26L205.7 969.7L206.6 969.15L207.5 968.59L208.4 968.03L209.3 967.47L210.2 966.91L211.09 966.34L211.99 965.77L212.89 965.21L213.79 964.64L214.69 964.07L215.59 963.5L216.49 962.92L217.39 962.35L218.29 961.78L219.19 961.2L220.09 960.62L220.98 960.04L221.88 959.46L222.78 958.88L223.68 958.3L224.58 957.72L225.48 957.14L226.38 956.55L227.28 955.97L228.18 955.38L229.08 954.8L229.97 954.21L230.87 953.62L231.77 953.03L232.67 952.44L233.57 951.85L234.47 951.26L235.37 950.67L236.27 950.08L237.17 949.49L238.07 948.9L238.96 948.3L239.86 947.71L240.76 947.12L241.66 946.52L242.56 945.93L243.46 945.33L244.36 944.74L245.26 944.15L246.16 943.55L247.06 942.96L247.95 942.36L248.85 941.77L249.75 941.17L250.65 940.58L251.55 939.98L252.45 939.39L253.35 938.79L254.25 938.2L255.15 937.6L256.05 937.01L256.94 936.41L257.84 935.82L258.74 935.23L259.64 934.63L260.54 934.04L261.44 933.45L262.34 932.86L263.24 932.26L264.14 931.67L265.04 931.08L265.93 930.49L266.83 929.9L267.73 929.31L268.63 928.72L269.53 928.13L270.43 927.55L271.33 926.96L272.23 926.37L273.13 925.79L274.03 925.2L274.92 924.62L275.82 924.03L276.72 923.45L277.62 922.87L278.52 922.29L279.42 921.7L280.32 921.13L281.22 920.55L282.12 919.97L283.02 919.39L283.91 918.81L284.81 918.24L285.71 917.67L286.61 917.09L287.51 916.52L288.41 915.95L289.31 915.38L290.21 914.81L291.11 914.24L292.01 913.67L292.9 913.11L293.8 912.54L294.7 911.98L297.91 909.98L300.74 908.23L303.56 906.49L306.39 904.77L309.22 903.06L312.04 901.36L314.87 899.68L317.69 898.02L320.52 896.37L323.34 894.73L326.17 893.11L328.99 891.51L331.82 889.93L334.64 888.36L337.47 886.81L340.3 885.27L343.12 883.76L345.95 882.26L348.77 880.78L351.6 879.31L354.42 877.87L357.25 876.44L360.07 875.03L362.9 873.64L365.72 872.27L368.55 870.92L371.38 869.58L374.2 868.27L377.03 866.97L379.85 865.69L382.68 864.43L385.5 863.18L388.33 861.95L391.15 860.74L393.98 859.55L396.8 858.38L399.63 857.22L402.46 856.07L405.28 854.95L408.11 853.84L410.93 852.74L413.76 851.66L416.58 850.6L419.41 849.55L422.23 848.51L425.06 847.49L427.88 846.48L430.71 845.48L433.54 844.49L436.36 843.52L439.19 842.55L442.01 841.6L444.84 840.65L447.66 839.72L450.49 838.79L453.31 837.87L456.14 836.96L458.96 836.05L461.79 835.15L464.62 834.25L467.44 833.36L470.27 832.47L473.09 831.58L475.92 830.69L478.74 829.81L481.57 828.92L484.39 828.03L487.22 827.14" fill="none" stroke="#0000ff" stroke-width="0.55" />
<path d="M170.64 992.17L173.28 987.61L168 987.61zM171.54 991.72L174.18 987.16L168.9 987.16zM172.44 991.26L175.08 986.7L169.8 986.7zM173.34 990.79L175.98 986.23L170.7 986.23zM174.24 990.32L176.88 985.76L171.6 985.76zM175.13 989.85L177.77 985.29L172.49 985.29zM176.03 989.38L178.67 984.82L173.39 984.82zM176.93 988.9L179.57 984.34L174.29 984.34zM177.83 988.42L180.47 983.86L175.19 983.86zM178.73 987.94L181.37 983.38L176.09 983.38zM179.63 987.45L182.27 982.89L176.99 982.89zM180.53 986.96L183.17 982.4L177.89 982.4zM181.43 986.47L184.07 981.91L178.79 981.91zM182.33 985.97L184.97 981.41L179.69 981.41zM183.23 985.47L185.87 980.91L180.59 980.91zM184.12 984.97L186.76 980.41L181.48 980.41zM185.02 984.47L187.66 979.91L182.38 979.91zM185.92 983.96L188.56 979.4L183.28 979.4zM186.82 983.45L189.46 978.89L184.18 978.89zM187.72 982.94L190.36 978.38L185.08 978.38zM188.62 982.43L191.26 977.87L185.98 977.87zM189.52 981.91L192.16 977.35L186.88 977.35zM190.42 981.39L193.06 976.83L187.78 976.83zM191.32 980.87L193.96 976.31L188.68 976.31zM192.22 980.34L194.86 975.78L189.58 975.78zM193.11 979.82L195.75 975.26L190.47 975.26zM194.01 979.29L196.65 974.73L191.37 974.73zM194.91 978.76L197.55 974.2L192.27 974.2zM195.81 978.22L198.45 973.66L193.17 973.66zM196.71 977.69L199.35 973.13L194.07 973.13zM197.61 977.15L200.25 972.59L194.97 972.59zM198.51 976.61L201.15 972.05L195.87 972.05zM199.41 976.07L202.05 971.51L196.77 971.51zM200.31 975.53L202.95 970.97L197.67 970.97zM201.21 974.98L203.85 970.42L198.57 970.42zM202.1 974.43L204.74 969.87L199.46 969.87zM203 973.88L205.64 969.32L200.36 969.32zM203.9 973.33L206.54 968.77L201.26 968.77zM204.8 972.78L207.44 968.22L202.16 968.22zM205.7 972.22L208.34 967.66L203.06 967.66zM206.6 971.67L209.24 967.11L203.96 967.11zM207.5 971.11L210.14 966.55L204.86 966.55zM208.4 970.55L211.04 965.99L205.76 965.99zM209.3 969.99L211.94 965.43L206.66 965.43zM210.2 969.43L212.84 964.87L207.56 964.87zM211.09 968.86L213.73 964.3L208.45 964.3zM211.99 968.29L214.63 963.73L209.35 963.73zM212.89 967.73L215.53 963.17L210.25 963.17zM213.79 967.16L216.43 962.6L211.15 962.6zM214.69 966.59L217.33 962.03L212.05 962.03zM215.59 966.02L218.23 961.46L212.95 961.46zM216.49 965.44L219.13 960.88L213.85 960.88zM217.39 964.87L220.03 960.31L214.75 960.31zM218.29 964.3L220.93 959.74L215.65 959.74zM219.19 963.72L221.83 959.16L216.55 959.16zM220.09 963.14L222.73 958.58L217.45 958.58zM220.98 962.56L223.62 958L218.34 958zM221.88 961.98L224.52 957.42L219.24 957.42zM222.78 961.4L225.42 956.84L220.14 956.84zM223.68 960.82L226.32 956.26L221.04 956.26zM224.58 960.24L227.22 955.68L221.94 955.68zM225.48 959.66L228.12 955.1L222.84 955.1zM226.38 959.07L229.02 954.51L223.74 954.51zM227.28 958.49L229.92 953.93L224.64 953.93zM228.18 957.9L230.82 953.34L225.54 953.34zM229.08 957.32L231.72 952.76L226.44 952.76zM229.97 956.73L232.61 952.17L227.33 952.17zM230.87 956.14L233.51 951.58L228.23 951.58zM231.77 955.55L234.41 950.99L229.13 950.99zM232.67 954.96L235.31 950.4L230.03 950.4zM233.57 954.37L236.21 949.81L230.93 949.81zM234.47 953.78L237.11 949.22L231.83 949.22zM235.37 953.19L238.01 948.63L232.73 948.63zM236.27 952.6L238.91 948.04L233.63 948.04zM237.17 952.01L239.81 947.45L234.53 947.45zM238.07 951.42L240.71 946.86L235.43 946.86zM238.96 950.82L241.6 946.26L236.32 946.26zM239.86 950.23L242.5 945.67L237.22 945.67zM240.76 949.64L243.4 945.08L238.12 945.08zM241.66 949.04L244.3 944.48L239.02 944.48zM242.56 948.45L245.2 943.89L239.92 943.89zM243.46 947.85L246.1 943.29L240.82 943.29zM244.36 947.26L247 942.7L241.72 942.7zM245.26 946.67L247.9 942.11L242.62 942.11zM246.16 946.07L248.8 941.51L243.52 941.51zM247.06 945.48L249.7 940.92L244.42 940.92zM247.95 944.88L250.59 940.32L245.31 940.32zM248.85 944.29L251.49 939.73L246.21 939.73zM249.75 943.69L252.39 939.13L247.11 939.13zM250.65 943.1L253.29 938.54L248.01 938.54zM251.55 942.5L254.19 937.94L248.91 937.94zM252.45 941.91L255.09 937.35L249.81 937.35zM253.35 941.31L255.99 936.75L250.71 936.75zM254.25 940.72L256.89 936.16L251.61 936.16zM255.15 940.12L257.79 935.56L252.51 935.56zM256.05 939.53L258.69 934.97L253.41 934.97zM256.94 938.93L259.58 934.37L254.3 934.37zM257.84 938.34L260.48 933.78L255.2 933.78zM258.74 937.75L261.38 933.19L256.1 933.19zM259.64 937.15L262.28 932.59L257 932.59zM260.54 936.56L263.18 932L257.9 932zM261.44 935.97L264.08 931.41L258.8 931.41zM262.34 935.38L264.98 930.82L259.7 930.82zM263.24 934.78L265.88 930.22L260.6 930.22zM264.14 934.19L266.78 929.63L261.5 929.63zM265.04 933.6L267.68 929.04L262.4 929.04zM265.93 933.01L268.57 928.45L263.29 928.45zM266.83 932.42L269.47 927.86L264.19 927.86zM267.73 931.83L270.37 927.27L265.09 927.27zM268.63 931.24L271.27 926.68L265.99 926.68zM269.53 930.65L272.17 926.09L266.89 926.09zM270.43 930.07L273.07 925.51L267.79 925.51zM271.33 929.48L273.97 924.92L268.69 924.92zM272.23 928.89L274.87 924.33L269.59 924.33zM273.13 928.31L275.77 923.75L270.49 923.75zM274.03 927.72L276.67 923.16L271.39 923.16zM274.92 927.14L277.56 922.58L272.28 922.58zM275.82 926.55L278.46 921.99L273.18 921.99zM276.72 925.97L279.36 921.41L274.08 921.41zM277.62 925.39L280.26 920.83L274.98 920.83zM278.52 924.81L281.16 920.25L275.88 920.25zM279.42 924.22L282.06 919.66L276.78 919.66zM280.32 923.65L282.96 919.09L277.68 919.09zM281.22 923.07L283.86 918.51L278.58 918.51zM282.12 922.49L284.76 917.93L279.48 917.93zM283.02 921.91L285.66 917.35L280.38 917.35zM283.91 921.33L286.55 916.77L281.27 916.77zM284.81 920.76L287.45 916.2L282.17 916.2zM285.71 920.19L288.35 915.63L283.07 915.63zM286.61 919.61L289.25 915.05L283.97 915.05zM287.51 919.04L290.15 914.48L284.87 914.48zM288.41 918.47L291.05 913.91L285.77 913.91zM289.31 917.9L291.95 913.34L286.67 913.34zM290.21 917.33L292.85 912.77L287.57 912.77zM291.11 916.76L293.75 912.2L288.47 912.2zM292.01 916.19L294.65 911.63L289.37 911.63zM292.9 915.63L295.54 911.07L290.26 911.07zM293.8 915.06L296.44 910.5L291.16 910.5zM294.7 914.5L297.34 909.94L292.06 909.94zM297.91 912.5L300.55 907.94L295.27 907.94zM300.74 910.75L303.38 906.19L298.1 906.19zM303.56 909.01L306.2 904.45L300.92 904.45zM306.39 907.29L309.03 902.73L303.75 902.73zM309.22 905.58L311.86 901.02L306.58 901.02zM312.04 903.88L314.68 899.32L309.4 899.32zM314.87 902.2L317.51 897.64L312.23 897.64zM317.69 900.54L320.33 895.98L315.05 895.98zM320.52 898.89L323.16 894.33L317.88 894.33zM323.34 897.25L325.98 892.69L320.7 892.69zM326.17 895.63L328.81 891.07L323.53 891.07zM328.99 894.03L331.63 889.47L326.35 889.47zM331.82 892.45L334.46 887.89L329.18 887.89zM334.64 890.88L337.28 886.32L332 886.32zM337.47 889.33L340.11 884.77L334.83 884.77zM340.3 887.79L342.94 883.23L337.66 883.23zM343.12 886.28L345.76 881.72L340.48 881.72zM345.95 884.78L348.59 880.22L343.31 880.22zM348.77 883.3L351.41 878.74L346.13 878.74zM351.6 881.83L354.24 877.27L348.96 877.27zM354.42 880.39L357.06 875.83L351.78 875.83zM357.25 878.96L359.89 874.4L354.61 874.4zM360.07 877.55L362.71 872.99L357.43 872.99zM362.9 876.16L365.54 871.6L360.26 871.6zM365.72 874.79L368.36 870.23L363.08 870.23zM368.55 873.44L371.19 868.88L365.91 868.88zM371.38 872.1L374.02 867.54L368.74 867.54zM374.2 870.79L376.84 866.23L371.56 866.23zM377.03 869.49L379.67 864.93L374.39 864.93zM379.85 868.21L382.49 863.65L377.21 863.65zM382.68 866.95L385.32 862.39L380.04 862.39zM385.5 865.7L388.14 861.14L382.86 861.14zM388.33 864.47L390.97 859.91L385.69 859.91zM391.15 863.26L393.79 858.7L388.51 858.7zM393.98 862.07L396.62 857.51L391.34 857.51zM396.8 860.9L399.44 856.34L394.16 856.34zM399.63 859.74L402.27 855.18L396.99 855.18zM402.46 858.59L405.1 854.03L399.82 854.03zM405.28 857.47L407.92 852.91L402.64 852.91zM408.11 856.36L410.75 851.8L405.47 851.8zM410.93 855.26L413.57 850.7L408.29 850.7zM413.76 854.18L416.4 849.62L411.12 849.62zM416.58 853.12L419.22 848.56L413.94 848.56zM419.41 852.07L422.05 847.51L416.77 847.51zM422.23 851.03L424.87 846.47L419.59 846.47zM425.06 850.01L427.7 845.45L422.42 845.45zM427.88 849L430.52 844.44L425.24 844.44zM430.71 848L433.35 843.44L428.07 843.44zM433.54 847.01L436.18 842.45L430.9 842.45zM436.36 846.04L439 841.48L433.72 841.48zM439.19 845.07L441.83 840.51L436.55 840.51zM442.01 844.12L444.65 839.56L439.37 839.56zM444.84 843.17L447.48 838.61L442.2 838.61zM447.66 842.24L450.3 837.68L445.02 837.68zM450.49 841.31L453.13 836.75L447.85 836.75zM453.31 840.39L455.95 835.83L450.67 835.83zM456.14 839.48L458.78 834.92L453.5 834.92zM458.96 838.57L461.6 834.01L456.32 834.01zM461.79 837.67L464.43 833.11L459.15 833.11zM464.62 836.77L467.26 832.21L461.98 832.21zM467.44 835.88L470.08 831.32L464.8 831.32zM470.27 834.99L472.91 830.43L467.63 830.43zM473.09 834.1L475.73 829.54L470.45 829.54zM475.92 833.21L478.56 828.65L473.28 828.65zM478.74 832.33L481.38 827.77L476.1 827.77zM481.57 831.44L484.21 826.88L478.93 826.88zM484.39 830.55L487.03 825.99L481.75 825.99zM487.22 829.66L489.86 825.1L484.58 825.1z" fill="#0000ff" />
<path d="M171.41 966.94L172.44 966.59L173.46 966.24L174.49 965.9L175.52 965.56L176.55 965.23L177.57 964.9L178.6 964.57L179.63 964.25L180.66 963.94L181.68 963.63L182.71 963.32L183.74 963.02L184.77 962.72L185.79 962.42L186.82 962.14L187.85 961.85L188.88 961.57L189.9 961.3L190.93 961.03L191.96 960.76L192.99 960.5L194.01 960.25L195.04 960L196.07 959.75L197.1 956.4L198.12 955.75L199.15 955.11L200.18 954.46L201.21 953.81L202.23 953.16L203.26 952.5L204.29 951.84L205.32 951.18L206.34 950.52L207.37 949.85L208.4 949.18L209.43 948.51L210.45 947.84L211.48 947.17L212.51 946.49L213.54 945.81L214.56 945.13L215.59 944.45L216.62 943.76L217.64 943.08L218.67 942.39L219.7 941.7L220.73 941.01L221.75 940.32L222.78 939.63L223.81 938.94L224.84 938.24L225.86 937.55L226.89 936.85L227.92 936.15L228.95 935.45L229.97 934.75L231 934.05L232.03 933.35L233.06 932.65L234.08 931.95L235.11 931.25L236.14 930.54L237.17 929.84L238.19 929.13L239.22 928.43L240.25 927.73L241.28 927.02L242.3 926.32L243.33 925.61L244.36 924.9L245.39 924.2L246.41 923.49L247.44 922.79L248.47 922.08L249.5 921.38L250.52 920.67L251.55 919.97L252.58 919.27L253.61 918.56L254.63 917.86L255.66 917.16L256.69 916.46L257.72 915.75L258.74 915.05L259.77 914.35L260.8 913.66L261.82 912.96L262.85 912.26L263.88 911.56L264.91 910.87L265.93 910.17L266.96 909.48L267.99 908.79L269.02 908.09L270.04 907.4L271.07 906.71L272.1 906.03L273.13 905.34L274.15 904.65L275.18 903.97L276.21 903.29L277.24 902.61L278.26 901.93L279.29 901.25L280.32 900.57L281.35 899.9L282.37 899.22L283.4 898.55L284.43 897.88L285.46 897.21L286.48 896.54L287.51 895.88L288.54 895.21L289.57 894.55L290.59 893.89L291.62 893.24L292.65 892.58L295.35 890.87L298.17 889.09L301 887.32L303.82 885.57L306.65 883.84L309.47 882.13L312.3 880.43L315.12 878.76L317.95 877.1L320.77 875.46L323.6 873.84L326.43 872.23L329.25 870.65L332.08 869.09L334.9 867.55L337.73 866.02L340.55 864.52L343.38 863.04L346.2 861.58L349.03 860.14L351.85 858.72L354.68 857.32L357.51 855.94L360.33 854.59L363.16 853.25L365.98 851.93L368.81 850.63L371.63 849.36L374.46 848.1L377.28 846.86L380.11 845.64L382.93 844.44L385.76 843.26L388.59 842.1L391.41 840.95L394.24 839.83L397.06 838.71L399.89 837.62L402.71 836.54L405.54 835.48L408.36 834.43L411.19 833.39L414.01 832.37L416.84 831.36L419.67 830.37L422.49 829.38L425.32 828.41L428.14 827.44L430.97 826.49L433.79 825.54L436.62 824.6L439.44 823.67L442.27 822.74L445.09 821.82L447.92 820.9L450.75 819.98L453.57 819.06L456.4 818.15L459.22 817.23L462.05 816.31L464.87 815.39L467.7 814.46L470.52 813.53L473.35 812.59L476.17 811.64L479 810.69L481.83 809.72L484.65 808.74L487.48 807.75" fill="none" stroke="#ff8000" stroke-width="0.55" />
<path d="M168.94 966.94L173.41 964.36L173.41 969.53zM169.97 966.59L174.43 964L174.43 969.17zM171 966.24L175.46 963.66L175.46 968.83zM172.02 965.9L176.49 963.31L176.49 968.48zM173.05 965.56L177.52 962.97L177.52 968.14zM174.08 965.23L178.54 962.64L178.54 967.81zM175.11 964.9L179.57 962.31L179.57 967.48zM176.13 964.57L180.6 961.99L180.6 967.16zM177.16 964.25L181.63 961.67L181.63 966.84zM178.19 963.94L182.65 961.35L182.65 966.52zM179.22 963.63L183.68 961.04L183.68 966.21zM180.24 963.32L184.71 960.73L184.71 965.9zM181.27 963.02L185.74 960.43L185.74 965.6zM182.3 962.72L186.76 960.13L186.76 965.3zM183.33 962.42L187.79 959.84L187.79 965.01zM184.35 962.14L188.82 959.55L188.82 964.72zM185.38 961.85L189.85 959.27L189.85 964.44zM186.41 961.57L190.87 958.99L190.87 964.16zM187.44 961.3L191.9 958.71L191.9 963.88zM188.46 961.03L192.93 958.44L192.93 963.61zM189.49 960.76L193.96 958.18L193.96 963.35zM190.52 960.5L194.98 957.92L194.98 963.09zM191.55 960.25L196.01 957.66L196.01 962.83zM192.57 960L197.04 957.41L197.04 962.58zM193.6 959.75L198.07 957.17L198.07 962.34zM194.63 956.4L199.09 953.81L199.09 958.98zM195.66 955.75L200.12 953.17L200.12 958.34zM196.68 955.11L201.15 952.52L201.15 957.69zM197.71 954.46L202.18 951.88L202.18 957.05zM198.74 953.81L203.2 951.22L203.2 956.39zM199.77 953.16L204.23 950.57L204.23 955.74zM200.79 952.5L205.26 949.91L205.26 955.08zM201.82 951.84L206.29 949.26L206.29 954.43zM202.85 951.18L207.31 948.59L207.31 953.76zM203.88 950.52L208.34 947.93L208.34 953.1zM204.9 949.85L209.37 947.27L209.37 952.44zM205.93 949.18L210.4 946.6L210.4 951.77zM206.96 948.51L211.42 945.93L211.42 951.1zM207.99 947.84L212.45 945.25L212.45 950.42zM209.01 947.17L213.48 944.58L213.48 949.75zM210.04 946.49L214.51 943.9L214.51 949.07zM211.07 945.81L215.53 943.23L215.53 948.4zM212.1 945.13L216.56 942.55L216.56 947.72zM213.12 944.45L217.59 941.86L217.59 947.03zM214.15 943.76L218.61 941.18L218.61 946.35zM215.18 943.08L219.64 940.49L219.64 945.66zM216.2 942.39L220.67 939.81L220.67 944.98zM217.23 941.7L221.7 939.12L221.7 944.29zM218.26 941.01L222.72 938.43L222.72 943.6zM219.29 940.32L223.75 937.74L223.75 942.91zM220.31 939.63L224.78 937.05L224.78 942.22zM221.34 938.94L225.81 936.35L225.81 941.52zM222.37 938.24L226.83 935.66L226.83 940.83zM223.4 937.55L227.86 934.96L227.86 940.13zM224.42 936.85L228.89 934.27L228.89 939.44zM225.45 936.15L229.92 933.57L229.92 938.74zM226.48 935.45L230.94 932.87L230.94 938.04zM227.51 934.75L231.97 932.17L231.97 937.34zM228.53 934.05L233 931.47L233 936.64zM229.56 933.35L234.03 930.77L234.03 935.94zM230.59 932.65L235.05 930.07L235.05 935.24zM231.62 931.95L236.08 929.36L236.08 934.53zM232.64 931.25L237.11 928.66L237.11 933.83zM233.67 930.54L238.14 927.96L238.14 933.13zM234.7 929.84L239.16 927.25L239.16 932.42zM235.73 929.13L240.19 926.55L240.19 931.72zM236.75 928.43L241.22 925.85L241.22 931.02zM237.78 927.73L242.25 925.14L242.25 930.31zM238.81 927.02L243.27 924.44L243.27 929.61zM239.84 926.32L244.3 923.73L244.3 928.9zM240.86 925.61L245.33 923.02L245.33 928.19zM241.89 924.9L246.36 922.32L246.36 927.49zM242.92 924.2L247.38 921.61L247.38 926.78zM243.95 923.49L248.41 920.91L248.41 926.08zM244.97 922.79L249.44 920.2L249.44 925.37zM246 922.08L250.47 919.5L250.47 924.67zM247.03 921.38L251.49 918.79L251.49 923.96zM248.06 920.67L252.52 918.09L252.52 923.26zM249.08 919.97L253.55 917.39L253.55 922.56zM250.11 919.27L254.58 916.68L254.58 921.85zM251.14 918.56L255.6 915.98L255.6 921.15zM252.17 917.86L256.63 915.28L256.63 920.45zM253.19 917.16L257.66 914.57L257.66 919.74zM254.22 916.46L258.69 913.87L258.69 919.04zM255.25 915.75L259.71 913.17L259.71 918.34zM256.27 915.05L260.74 912.47L260.74 917.64zM257.3 914.35L261.77 911.77L261.77 916.94zM258.33 913.66L262.79 911.07L262.79 916.24zM259.36 912.96L263.82 910.37L263.82 915.54zM260.38 912.26L264.85 909.67L264.85 914.84zM261.41 911.56L265.88 908.98L265.88 914.15zM262.44 910.87L266.9 908.28L266.9 913.45zM263.47 910.17L267.93 907.59L267.93 912.76zM264.49 909.48L268.96 906.89L268.96 912.06zM265.52 908.79L269.99 906.2L269.99 911.37zM266.55 908.09L271.01 905.51L271.01 910.68zM267.58 907.4L272.04 904.82L272.04 909.99zM268.6 906.71L273.07 904.13L273.07 909.3zM269.63 906.03L274.1 903.44L274.1 908.61zM270.66 905.34L275.12 902.76L275.12 907.93zM271.69 904.65L276.15 902.07L276.15 907.24zM272.71 903.97L277.18 901.39L277.18 906.56zM273.74 903.29L278.21 900.7L278.21 905.87zM274.77 902.61L279.23 900.02L279.23 905.19zM275.8 901.93L280.26 899.34L280.26 904.51zM276.82 901.25L281.29 898.66L281.29 903.83zM277.85 900.57L282.32 897.99L282.32 903.16zM278.88 899.9L283.34 897.31L283.34 902.48zM279.91 899.22L284.37 896.64L284.37 901.81zM280.93 898.55L285.4 895.96L285.4 901.13zM281.96 897.88L286.43 895.29L286.43 900.46zM282.99 897.21L287.45 894.63L287.45 899.8zM284.02 896.54L288.48 893.96L288.48 899.13zM285.04 895.88L289.51 893.29L289.51 898.46zM286.07 895.21L290.54 892.63L290.54 897.8zM287.1 894.55L291.56 891.97L291.56 897.14zM288.13 893.89L292.59 891.31L292.59 896.48zM289.15 893.24L293.62 890.65L293.62 895.82zM290.18 892.58L294.65 889.99L294.65 895.16zM292.88 890.87L297.34 888.28L297.34 893.45zM295.7 889.09L300.17 886.5L300.17 891.67zM298.53 887.32L302.99 884.74L302.99 889.91zM301.35 885.57L305.82 882.99L305.82 888.16zM304.18 883.84L308.64 881.26L308.64 886.43zM307 882.13L311.47 879.55L311.47 884.72zM309.83 880.43L314.3 877.85L314.3 883.02zM312.66 878.76L317.12 876.17L317.12 881.34zM315.48 877.1L319.95 874.51L319.95 879.68zM318.31 875.46L322.77 872.87L322.77 878.04zM321.13 873.84L325.6 871.25L325.6 876.42zM323.96 872.23L328.42 869.65L328.42 874.82zM326.78 870.65L331.25 868.07L331.25 873.24zM329.61 869.09L334.07 866.5L334.07 871.67zM332.43 867.55L336.9 864.96L336.9 870.13zM335.26 866.02L339.72 863.44L339.72 868.61zM338.08 864.52L342.55 861.94L342.55 867.11zM340.91 863.04L345.38 860.46L345.38 865.63zM343.74 861.58L348.2 858.99L348.2 864.16zM346.56 860.14L351.03 857.55L351.03 862.72zM349.39 858.72L353.85 856.14L353.85 861.31zM352.21 857.32L356.68 854.74L356.68 859.91zM355.04 855.94L359.5 853.36L359.5 858.53zM357.86 854.59L362.33 852L362.33 857.17zM360.69 853.25L365.15 850.66L365.15 855.83zM363.51 851.93L367.98 849.35L367.98 854.52zM366.34 850.63L370.8 848.05L370.8 853.22zM369.16 849.36L373.63 846.77L373.63 851.94zM371.99 848.1L376.46 845.52L376.46 850.69zM374.82 846.86L379.28 844.28L379.28 849.45zM377.64 845.64L382.11 843.06L382.11 848.23zM380.47 844.44L384.93 841.86L384.93 847.03zM383.29 843.26L387.76 840.68L387.76 845.85zM386.12 842.1L390.58 839.51L390.58 844.68zM388.94 840.95L393.41 838.37L393.41 843.54zM391.77 839.83L396.23 837.24L396.23 842.41zM394.59 838.71L399.06 836.13L399.06 841.3zM397.42 837.62L401.88 835.04L401.88 840.21zM400.24 836.54L404.71 833.96L404.71 839.13zM403.07 835.48L407.54 832.89L407.54 838.06zM405.9 834.43L410.36 831.84L410.36 837.01zM408.72 833.39L413.19 830.81L413.19 835.98zM411.55 832.37L416.01 829.79L416.01 834.96zM414.37 831.36L418.84 828.78L418.84 833.95zM417.2 830.37L421.66 827.78L421.66 832.95zM420.02 829.38L424.49 826.8L424.49 831.97zM422.85 828.41L427.31 825.82L427.31 830.99zM425.67 827.44L430.14 824.86L430.14 830.03zM428.5 826.49L432.96 823.9L432.96 829.07zM431.33 825.54L435.79 822.96L435.79 828.13zM434.15 824.6L438.62 822.02L438.62 827.19zM436.98 823.67L441.44 821.08L441.44 826.25zM439.8 822.74L444.27 820.15L444.27 825.32zM442.63 821.82L447.09 819.23L447.09 824.4zM445.45 820.9L449.92 818.31L449.92 823.48zM448.28 819.98L452.74 817.39L452.74 822.56zM451.1 819.06L455.57 816.48L455.57 821.65zM453.93 818.15L458.39 815.56L458.39 820.73zM456.75 817.23L461.22 814.64L461.22 819.81zM459.58 816.31L464.04 813.72L464.04 818.89zM462.41 815.39L466.87 812.8L466.87 817.97zM465.23 814.46L469.7 811.88L469.7 817.05zM468.06 813.53L472.52 810.94L472.52 816.11zM470.88 812.59L475.35 810.01L475.35 815.18zM473.71 811.64L478.17 809.06L478.17 814.23zM476.53 810.69L481 808.1L481 813.27zM479.36 809.72L483.82 807.14L483.82 812.31zM482.18 808.74L486.65 806.16L486.65 811.33zM485.01 807.75L489.47 805.16L489.47 810.33z" fill="#ff8000" />
<path d="M104.75 955.81L105.78 955.82L106.81 955.82L107.84 955.82L108.86 955.81L109.89 955.8L110.92 955.79L111.95 955.77L112.97 955.75L114 955.72L115.03 955.69L116.06 955.66L117.08 955.62L118.11 955.58L119.14 955.54L120.17 955.49L121.19 955.44L122.22 955.38L123.25 955.32L124.28 955.25L125.3 955.18L126.33 955.1L127.36 955.02L128.39 954.94L129.41 954.85L130.44 954.76L131.47 954.66L132.5 954.56L133.52 954.46L134.55 954.35L135.58 954.23L136.61 954.11L137.63 953.99L138.66 953.86L139.69 953.72L140.72 953.58L141.74 953.44L142.77 953.29L143.8 953.14L144.83 952.98L145.85 952.81L146.88 952.65L147.91 952.47L148.93 952.29L149.96 952.11L150.99 951.92L152.02 951.73L153.04 951.53L154.07 951.32L155.1 951.11L156.13 950.9L157.15 950.67L158.18 950.45L159.21 950.22L160.24 949.98L161.26 949.74L162.29 949.49L163.32 949.23L164.35 948.98L165.37 948.71L166.4 948.44L167.43 948.16L168.46 947.88L169.48 947.59L170.51 947.3L171.54 947L172.57 946.69L173.59 946.38L174.62 946.07L175.65 945.74L176.68 945.41L177.7 945.08L178.73 944.74L179.76 944.39L180.79 944.03L181.81 943.67L182.84 943.31L183.87 942.94L184.9 942.56L185.92 942.17L186.95 941.78L187.98 941.38L189 940.98L190.03 940.57L191.06 940.15L192.09 939.73L193.11 939.3L194.14 938.86L195.17 938.41L196.2 937.96L197.22 937.51L198.25 937.04L199.28 936.57L200.31 936.09L201.33 935.61L202.36 935.12L203.39 934.62L204.42 934.12L205.44 933.6L206.47 933.08L207.5 932.56L208.53 932.03L209.55 931.48L210.58 930.94L211.61 930.38L212.64 929.82L213.66 929.25L214.69 928.67L215.72 928.09L216.75 927.5L217.77 926.9L218.8 926.29L219.83 925.68L220.86 925.06L221.88 924.43L222.91 923.8L223.94 923.15L225.74 921.8L226.76 921.04L227.79 920.28L228.82 919.52L229.85 918.77L230.87 918.02L231.9 917.26L232.93 916.51L233.96 915.77L234.98 915.02L236.01 914.27L237.04 913.53L238.07 912.79L239.09 912.05L240.12 911.31L241.15 910.57L242.17 909.83L243.2 909.1L244.23 908.37L245.26 907.64L246.28 906.91L247.31 906.18L248.34 905.45L249.37 904.73L250.39 904.01L251.42 903.29L252.45 902.57L253.48 901.85L254.5 901.13L255.53 900.42L256.56 899.71L257.59 899L258.61 898.29L259.64 897.59L260.67 896.88L261.7 896.18L262.72 895.48L263.75 894.78L264.78 894.09L265.81 893.39L266.83 892.7L267.86 892.01L268.89 891.32L269.92 890.64L270.94 889.95L271.97 889.27L273 888.59L274.03 887.91L275.05 887.24L276.08 886.57L277.11 885.89L278.14 885.22L279.16 884.56L280.19 883.89L281.22 883.23L282.25 882.57L283.27 881.91L284.3 881.25L285.33 880.6L286.35 879.95L287.38 879.3L288.41 878.65L289.44 878L290.46 877.36L291.49 876.72L292.52 876.08L293.55 875.44L294.57 874.81L297.27 873.15L299.2 871.98L301.12 870.81L303.05 869.66L304.98 868.51L306.9 867.37L308.83 866.23L310.76 865.11L312.68 863.99L314.61 862.88L316.54 861.78L318.46 860.69L320.39 859.61L322.32 858.53L324.24 857.46L326.17 856.4L328.09 855.35L330.02 854.3L331.95 853.27L333.87 852.24L335.8 851.22L337.73 850.2L339.65 849.2L341.58 848.2L343.51 847.21L345.43 846.23L347.36 845.25L349.29 844.29L351.21 843.33L353.14 842.38L355.06 841.43L356.99 840.5L358.92 839.57L360.84 838.65L362.77 837.73L364.7 836.82L366.62 835.92L368.55 835.03L370.48 834.14L372.4 833.27L374.33 832.39L376.26 831.53L378.18 830.67L380.11 829.81L382.04 828.97L383.96 828.13L385.89 827.29L387.81 826.47L389.74 825.64L391.67 824.83L393.59 824.02L395.52 823.21L397.45 822.41L399.37 821.62L401.3 820.83L403.23 820.05L405.15 819.27L407.08 818.5L409.01 817.73L410.93 816.96L412.86 816.2L414.78 815.45L416.71 814.69L418.64 813.95L420.56 813.2L422.49 812.46L424.42 811.73L426.34 810.99L428.27 810.26L430.2 809.54L432.12 808.81L434.05 808.09L435.98 807.37L437.9 806.65L439.83 805.94L441.76 805.23L443.68 804.51L445.61 803.8L447.53 803.1L449.46 802.39L451.39 801.68L453.31 800.98L455.24 800.27L457.17 799.56L459.09 798.86L461.02 798.15L462.95 797.45L464.87 796.74L466.8 796.03L468.73 795.33L470.65 794.62L472.58 793.9L474.5 793.19L476.43 792.48L478.36 791.76L480.28 791.04L482.21 790.32L484.14 789.59L486.06 788.86L487.99 788.13" fill="none" stroke="#00ffff" stroke-width="0.55" />
<path d="M104.75 952.93L107.63 955.81L104.75 958.69L101.87 955.81zM105.78 952.94L108.66 955.82L105.78 958.7L102.9 955.82zM106.81 952.94L109.69 955.82L106.81 958.7L103.93 955.82zM107.84 952.94L110.72 955.82L107.84 958.7L104.96 955.82zM108.86 952.93L111.74 955.81L108.86 958.69L105.98 955.81zM109.89 952.92L112.77 955.8L109.89 958.68L107.01 955.8zM110.92 952.91L113.8 955.79L110.92 958.67L108.04 955.79zM111.95 952.89L114.83 955.77L111.95 958.65L109.07 955.77zM112.97 952.87L115.85 955.75L112.97 958.63L110.09 955.75zM114 952.84L116.88 955.72L114 958.6L111.12 955.72zM115.03 952.81L117.91 955.69L115.03 958.57L112.15 955.69zM116.06 952.78L118.94 955.66L116.06 958.54L113.18 955.66zM117.08 952.74L119.96 955.62L117.08 958.5L114.2 955.62zM118.11 952.7L120.99 955.58L118.11 958.46L115.23 955.58zM119.14 952.66L122.02 955.54L119.14 958.42L116.26 955.54zM120.17 952.61L123.05 955.49L120.17 958.37L117.29 955.49zM121.19 952.56L124.07 955.44L121.19 958.32L118.31 955.44zM122.22 952.5L125.1 955.38L122.22 958.26L119.34 955.38zM123.25 952.44L126.13 955.32L123.25 958.2L120.37 955.32zM124.28 952.37L127.16 955.25L124.28 958.13L121.4 955.25zM125.3 952.3L128.18 955.18L125.3 958.06L122.42 955.18zM126.33 952.22L129.21 955.1L126.33 957.98L123.45 955.1zM127.36 952.14L130.24 955.02L127.36 957.9L124.48 955.02zM128.39 952.06L131.27 954.94L128.39 957.82L125.51 954.94zM129.41 951.97L132.29 954.85L129.41 957.73L126.53 954.85zM130.44 951.88L133.32 954.76L130.44 957.64L127.56 954.76zM131.47 951.78L134.35 954.66L131.47 957.54L128.59 954.66zM132.5 951.68L135.38 954.56L132.5 957.44L129.62 954.56zM133.52 951.58L136.4 954.46L133.52 957.34L130.64 954.46zM134.55 951.47L137.43 954.35L134.55 957.23L131.67 954.35zM135.58 951.35L138.46 954.23L135.58 957.11L132.7 954.23zM136.61 951.23L139.49 954.11L136.61 956.99L133.73 954.11zM137.63 951.11L140.51 953.99L137.63 956.87L134.75 953.99zM138.66 950.98L141.54 953.86L138.66 956.74L135.78 953.86zM139.69 950.84L142.57 953.72L139.69 956.6L136.81 953.72zM140.72 950.7L143.6 953.58L140.72 956.46L137.84 953.58zM141.74 950.56L144.62 953.44L141.74 956.32L138.86 953.44zM142.77 950.41L145.65 953.29L142.77 956.17L139.89 953.29zM143.8 950.26L146.68 953.14L143.8 956.02L140.92 953.14zM144.83 950.1L147.71 952.98L144.83 955.86L141.95 952.98zM145.85 949.93L148.73 952.81L145.85 955.69L142.97 952.81zM146.88 949.77L149.76 952.65L146.88 955.53L144 952.65zM147.91 949.59L150.79 952.47L147.91 955.35L145.03 952.47zM148.93 949.41L151.81 952.29L148.93 955.17L146.05 952.29zM149.96 949.23L152.84 952.11L149.96 954.99L147.08 952.11zM150.99 949.04L153.87 951.92L150.99 954.8L148.11 951.92zM152.02 948.85L154.9 951.73L152.02 954.61L149.14 951.73zM153.04 948.65L155.92 951.53L153.04 954.41L150.16 951.53zM154.07 948.44L156.95 951.32L154.07 954.2L151.19 951.32zM155.1 948.23L157.98 951.11L155.1 953.99L152.22 951.11zM156.13 948.02L159.01 950.9L156.13 953.78L153.25 950.9zM157.15 947.79L160.03 950.67L157.15 953.55L154.27 950.67zM158.18 947.57L161.06 950.45L158.18 953.33L155.3 950.45zM159.21 947.34L162.09 950.22L159.21 953.1L156.33 950.22zM160.24 947.1L163.12 949.98L160.24 952.86L157.36 949.98zM161.26 946.86L164.14 949.74L161.26 952.62L158.38 949.74zM162.29 946.61L165.17 949.49L162.29 952.37L159.41 949.49zM163.32 946.35L166.2 949.23L163.32 952.11L160.44 949.23zM164.35 946.1L167.23 948.98L164.35 951.86L161.47 948.98zM165.37 945.83L168.25 948.71L165.37 951.59L162.49 948.71zM166.4 945.56L169.28 948.44L166.4 951.32L163.52 948.44zM167.43 945.28L170.31 948.16L167.43 951.04L164.55 948.16zM168.46 945L171.34 947.88L168.46 950.76L165.58 947.88zM169.48 944.71L172.36 947.59L169.48 950.47L166.6 947.59zM170.51 944.42L173.39 947.3L170.51 950.18L167.63 947.3zM171.54 944.12L174.42 947L171.54 949.88L168.66 947zM172.57 943.81L175.45 946.69L172.57 949.57L169.69 946.69zM173.59 943.5L176.47 946.38L173.59 949.26L170.71 946.38zM174.62 943.19L177.5 946.07L174.62 948.95L171.74 946.07zM175.65 942.86L178.53 945.74L175.65 948.62L172.77 945.74zM176.68 942.53L179.56 945.41L176.68 948.29L173.8 945.41zM177.7 942.2L180.58 945.08L177.7 947.96L174.82 945.08zM178.73 941.86L181.61 944.74L178.73 947.62L175.85 944.74zM179.76 941.51L182.64 944.39L179.76 947.27L176.88 944.39zM180.79 941.15L183.67 944.03L180.79 946.91L177.91 944.03zM181.81 940.79L184.69 943.67L181.81 946.55L178.93 943.67zM182.84 940.43L185.72 943.31L182.84 946.19L179.96 943.31zM183.87 940.06L186.75 942.94L183.87 945.82L180.99 942.94zM184.9 939.68L187.78 942.56L184.9 945.44L182.02 942.56zM185.92 939.29L188.8 942.17L185.92 945.05L183.04 942.17zM186.95 938.9L189.83 941.78L186.95 944.66L184.07 941.78zM187.98 938.5L190.86 941.38L187.98 944.26L185.1 941.38zM189 938.1L191.88 940.98L189 943.86L186.12 940.98zM190.03 937.69L192.91 940.57L190.03 943.45L187.15 940.57zM191.06 937.27L193.94 940.15L191.06 943.03L188.18 940.15zM192.09 936.85L194.97 939.73L192.09 942.61L189.21 939.73zM193.11 936.42L195.99 939.3L193.11 942.18L190.23 939.3zM194.14 935.98L197.02 938.86L194.14 941.74L191.26 938.86zM195.17 935.53L198.05 938.41L195.17 941.29L192.29 938.41zM196.2 935.08L199.08 937.96L196.2 940.84L193.32 937.96zM197.22 934.63L200.1 937.51L197.22 940.39L194.34 937.51zM198.25 934.16L201.13 937.04L198.25 939.92L195.37 937.04zM199.28 933.69L202.16 936.57L199.28 939.45L196.4 936.57zM200.31 933.21L203.19 936.09L200.31 938.97L197.43 936.09zM201.33 932.73L204.21 935.61L201.33 938.49L198.45 935.61zM202.36 932.24L205.24 935.12L202.36 938L199.48 935.12zM203.39 931.74L206.27 934.62L203.39 937.5L200.51 934.62zM204.42 931.24L207.3 934.12L204.42 937L201.54 934.12zM205.44 930.72L208.32 933.6L205.44 936.48L202.56 933.6zM206.47 930.2L209.35 933.08L206.47 935.96L203.59 933.08zM207.5 929.68L210.38 932.56L207.5 935.44L204.62 932.56zM208.53 929.15L211.41 932.03L208.53 934.91L205.65 932.03zM209.55 928.6L212.43 931.48L209.55 934.36L206.67 931.48zM210.58 928.06L213.46 930.94L210.58 933.82L207.7 930.94zM211.61 927.5L214.49 930.38L211.61 933.26L208.73 930.38zM212.64 926.94L215.52 929.82L212.64 932.7L209.76 929.82zM213.66 926.37L216.54 929.25L213.66 932.13L210.78 929.25zM214.69 925.79L217.57 928.67L214.69 931.55L211.81 928.67zM215.72 925.21L218.6 928.09L215.72 930.97L212.84 928.09zM216.75 924.62L219.63 927.5L216.75 930.38L213.87 927.5zM217.77 924.02L220.65 926.9L217.77 929.78L214.89 926.9zM218.8 923.41L221.68 926.29L218.8 929.17L215.92 926.29zM219.83 922.8L222.71 925.68L219.83 928.56L216.95 925.68zM220.86 922.18L223.74 925.06L220.86 927.94L217.98 925.06zM221.88 921.55L224.76 924.43L221.88 927.31L219 924.43zM222.91 920.92L225.79 923.8L222.91 926.68L220.03 923.8zM223.94 920.27L226.82 923.15L223.94 926.03L221.06 923.15zM225.74 918.92L228.62 921.8L225.74 924.68L222.86 921.8zM226.76 918.16L229.64 921.04L226.76 923.92L223.88 921.04zM227.79 917.4L230.67 920.28L227.79 923.16L224.91 920.28zM228.82 916.64L231.7 919.52L228.82 922.4L225.94 919.52zM229.85 915.89L232.73 918.77L229.85 921.65L226.97 918.77zM230.87 915.14L233.75 918.02L230.87 920.9L227.99 918.02zM231.9 914.38L234.78 917.26L231.9 920.14L229.02 917.26zM232.93 913.63L235.81 916.51L232.93 919.39L230.05 916.51zM233.96 912.89L236.84 915.77L233.96 918.65L231.08 915.77zM234.98 912.14L237.86 915.02L234.98 917.9L232.1 915.02zM236.01 911.39L238.89 914.27L236.01 917.15L233.13 914.27zM237.04 910.65L239.92 913.53L237.04 916.41L234.16 913.53zM238.07 909.91L240.95 912.79L238.07 915.67L235.19 912.79zM239.09 909.17L241.97 912.05L239.09 914.93L236.21 912.05zM240.12 908.43L243 911.31L240.12 914.19L237.24 911.31zM241.15 907.69L244.03 910.57L241.15 913.45L238.27 910.57zM242.17 906.95L245.05 909.83L242.17 912.71L239.29 909.83zM243.2 906.22L246.08 909.1L243.2 911.98L240.32 909.1zM244.23 905.49L247.11 908.37L244.23 911.25L241.35 908.37zM245.26 904.76L248.14 907.64L245.26 910.52L242.38 907.64zM246.28 904.03L249.16 906.91L246.28 909.79L243.4 906.91zM247.31 903.3L250.19 906.18L247.31 909.06L244.43 906.18zM248.34 902.57L251.22 905.45L248.34 908.33L245.46 905.45zM249.37 901.85L252.25 904.73L249.37 907.61L246.49 904.73zM250.39 901.13L253.27 904.01L250.39 906.89L247.51 904.01zM251.42 900.41L254.3 903.29L251.42 906.17L248.54 903.29zM252.45 899.69L255.33 902.57L252.45 905.45L249.57 902.57zM253.48 898.97L256.36 901.85L253.48 904.73L250.6 901.85zM254.5 898.25L257.38 901.13L254.5 904.01L251.62 901.13zM255.53 897.54L258.41 900.42L255.53 903.3L252.65 900.42zM256.56 896.83L259.44 899.71L256.56 902.59L253.68 899.71zM257.59 896.12L260.47 899L257.59 901.88L254.71 899zM258.61 895.41L261.49 898.29L258.61 901.17L255.73 898.29zM259.64 894.71L262.52 897.59L259.64 900.47L256.76 897.59zM260.67 894L263.55 896.88L260.67 899.76L257.79 896.88zM261.7 893.3L264.58 896.18L261.7 899.06L258.82 896.18zM262.72 892.6L265.6 895.48L262.72 898.36L259.84 895.48zM263.75 891.9L266.63 894.78L263.75 897.66L260.87 894.78zM264.78 891.21L267.66 894.09L264.78 896.97L261.9 894.09zM265.81 890.51L268.69 893.39L265.81 896.27L262.93 893.39zM266.83 889.82L269.71 892.7L266.83 895.58L263.95 892.7zM267.86 889.13L270.74 892.01L267.86 894.89L264.98 892.01zM268.89 888.44L271.77 891.32L268.89 894.2L266.01 891.32zM269.92 887.76L272.8 890.64L269.92 893.52L267.04 890.64zM270.94 887.07L273.82 889.95L270.94 892.83L268.06 889.95zM271.97 886.39L274.85 889.27L271.97 892.15L269.09 889.27zM273 885.71L275.88 888.59L273 891.47L270.12 888.59zM274.03 885.03L276.91 887.91L274.03 890.79L271.15 887.91zM275.05 884.36L277.93 887.24L275.05 890.12L272.17 887.24zM276.08 883.69L278.96 886.57L276.08 889.45L273.2 886.57zM277.11 883.01L279.99 885.89L277.11 888.77L274.23 885.89zM278.14 882.34L281.02 885.22L278.14 888.1L275.26 885.22zM279.16 881.68L282.04 884.56L279.16 887.44L276.28 884.56zM280.19 881.01L283.07 883.89L280.19 886.77L277.31 883.89zM281.22 880.35L284.1 883.23L281.22 886.11L278.34 883.23zM282.25 879.69L285.13 882.57L282.25 885.45L279.37 882.57zM283.27 879.03L286.15 881.91L283.27 884.79L280.39 881.91zM284.3 878.37L287.18 881.25L284.3 884.13L281.42 881.25zM285.33 877.72L288.21 880.6L285.33 883.48L282.45 880.6zM286.35 877.07L289.23 879.95L286.35 882.83L283.47 879.95zM287.38 876.42L290.26 879.3L287.38 882.18L284.5 879.3zM288.41 875.77L291.29 878.65L288.41 881.53L285.53 878.65zM289.44 875.12L292.32 878L289.44 880.88L286.56 878zM290.46 874.48L293.34 877.36L290.46 880.24L287.58 877.36zM291.49 873.84L294.37 876.72L291.49 879.6L288.61 876.72zM292.52 873.2L295.4 876.08L292.52 878.96L289.64 876.08zM293.55 872.56L296.43 875.44L293.55 878.32L290.67 875.44zM294.57 871.93L297.45 874.81L294.57 877.69L291.69 874.81zM297.27 870.27L300.15 873.15L297.27 876.03L294.39 873.15zM299.2 869.1L302.08 871.98L299.2 874.86L296.32 871.98zM301.12 867.93L304 870.81L301.12 873.69L298.24 870.81zM303.05 866.78L305.93 869.66L303.05 872.54L300.17 869.66zM304.98 865.63L307.86 868.51L304.98 871.39L302.1 868.51zM306.9 864.49L309.78 867.37L306.9 870.25L304.02 867.37zM308.83 863.35L311.71 866.23L308.83 869.11L305.95 866.23zM310.76 862.23L313.64 865.11L310.76 867.99L307.88 865.11zM312.68 861.11L315.56 863.99L312.68 866.87L309.8 863.99zM314.61 860L317.49 862.88L314.61 865.76L311.73 862.88zM316.54 858.9L319.42 861.78L316.54 864.66L313.66 861.78zM318.46 857.81L321.34 860.69L318.46 863.57L315.58 860.69zM320.39 856.73L323.27 859.61L320.39 862.49L317.51 859.61zM322.32 855.65L325.2 858.53L322.32 861.41L319.44 858.53zM324.24 854.58L327.12 857.46L324.24 860.34L321.36 857.46zM326.17 853.52L329.05 856.4L326.17 859.28L323.29 856.4zM328.09 852.47L330.97 855.35L328.09 858.23L325.21 855.35zM330.02 851.42L332.9 854.3L330.02 857.18L327.14 854.3zM331.95 850.39L334.83 853.27L331.95 856.15L329.07 853.27zM333.87 849.36L336.75 852.24L333.87 855.12L330.99 852.24zM335.8 848.34L338.68 851.22L335.8 854.1L332.92 851.22zM337.73 847.32L340.61 850.2L337.73 853.08L334.85 850.2zM339.65 846.32L342.53 849.2L339.65 852.08L336.77 849.2zM341.58 845.32L344.46 848.2L341.58 851.08L338.7 848.2zM343.51 844.33L346.39 847.21L343.51 850.09L340.63 847.21zM345.43 843.35L348.31 846.23L345.43 849.11L342.55 846.23zM347.36 842.37L350.24 845.25L347.36 848.13L344.48 845.25zM349.29 841.41L352.17 844.29L349.29 847.17L346.41 844.29zM351.21 840.45L354.09 843.33L351.21 846.21L348.33 843.33zM353.14 839.5L356.02 842.38L353.14 845.26L350.26 842.38zM355.06 838.55L357.94 841.43L355.06 844.31L352.18 841.43zM356.99 837.62L359.87 840.5L356.99 843.38L354.11 840.5zM358.92 836.69L361.8 839.57L358.92 842.45L356.04 839.57zM360.84 835.77L363.72 838.65L360.84 841.53L357.96 838.65zM362.77 834.85L365.65 837.73L362.77 840.61L359.89 837.73zM364.7 833.94L367.58 836.82L364.7 839.7L361.82 836.82zM366.62 833.04L369.5 835.92L366.62 838.8L363.74 835.92zM368.55 832.15L371.43 835.03L368.55 837.91L365.67 835.03zM370.48 831.26L373.36 834.14L370.48 837.02L367.6 834.14zM372.4 830.39L375.28 833.27L372.4 836.15L369.52 833.27zM374.33 829.51L377.21 832.39L374.33 835.27L371.45 832.39zM376.26 828.65L379.14 831.53L376.26 834.41L373.38 831.53zM378.18 827.79L381.06 830.67L378.18 833.55L375.3 830.67zM380.11 826.93L382.99 829.81L380.11 832.69L377.23 829.81zM382.04 826.09L384.92 828.97L382.04 831.85L379.16 828.97zM383.96 825.25L386.84 828.13L383.96 831.01L381.08 828.13zM385.89 824.41L388.77 827.29L385.89 830.17L383.01 827.29zM387.81 823.59L390.69 826.47L387.81 829.35L384.93 826.47zM389.74 822.76L392.62 825.64L389.74 828.52L386.86 825.64zM391.67 821.95L394.55 824.83L391.67 827.71L388.79 824.83zM393.59 821.14L396.47 824.02L393.59 826.9L390.71 824.02zM395.52 820.33L398.4 823.21L395.52 826.09L392.64 823.21zM397.45 819.53L400.33 822.41L397.45 825.29L394.57 822.41zM399.37 818.74L402.25 821.62L399.37 824.5L396.49 821.62zM401.3 817.95L404.18 820.83L401.3 823.71L398.42 820.83zM403.23 817.17L406.11 820.05L403.23 822.93L400.35 820.05zM405.15 816.39L408.03 819.27L405.15 822.15L402.27 819.27zM407.08 815.62L409.96 818.5L407.08 821.38L404.2 818.5zM409.01 814.85L411.89 817.73L409.01 820.61L406.13 817.73zM410.93 814.08L413.81 816.96L410.93 819.84L408.05 816.96zM412.86 813.32L415.74 816.2L412.86 819.08L409.98 816.2zM414.78 812.57L417.66 815.45L414.78 818.33L411.9 815.45zM416.71 811.81L419.59 814.69L416.71 817.57L413.83 814.69zM418.64 811.07L421.52 813.95L418.64 816.83L415.76 813.95zM420.56 810.32L423.44 813.2L420.56 816.08L417.68 813.2zM422.49 809.58L425.37 812.46L422.49 815.34L419.61 812.46zM424.42 808.85L427.3 811.73L424.42 814.61L421.54 811.73zM426.34 808.11L429.22 810.99L426.34 813.87L423.46 810.99zM428.27 807.38L431.15 810.26L428.27 813.14L425.39 810.26zM430.2 806.66L433.08 809.54L430.2 812.42L427.32 809.54zM432.12 805.93L435 808.81L432.12 811.69L429.24 808.81zM434.05 805.21L436.93 808.09L434.05 810.97L431.17 808.09zM435.98 804.49L438.86 807.37L435.98 810.25L433.1 807.37zM437.9 803.77L440.78 806.65L437.9 809.53L435.02 806.65zM439.83 803.06L442.71 805.94L439.83 808.82L436.95 805.94zM441.76 802.35L444.64 805.23L441.76 808.11L438.88 805.23zM443.68 801.63L446.56 804.51L443.68 807.39L440.8 804.51zM445.61 800.92L448.49 803.8L445.61 806.68L442.73 803.8zM447.53 800.22L450.41 803.1L447.53 805.98L444.65 803.1zM449.46 799.51L452.34 802.39L449.46 805.27L446.58 802.39zM451.39 798.8L454.27 801.68L451.39 804.56L448.51 801.68zM453.31 798.1L456.19 800.98L453.31 803.86L450.43 800.98zM455.24 797.39L458.12 800.27L455.24 803.15L452.36 800.27zM457.17 796.68L460.05 799.56L457.17 802.44L454.29 799.56zM459.09 795.98L461.97 798.86L459.09 801.74L456.21 798.86zM461.02 795.27L463.9 798.15L461.02 801.03L458.14 798.15zM462.95 794.57L465.83 797.45L462.95 800.33L460.07 797.45zM464.87 793.86L467.75 796.74L464.87 799.62L461.99 796.74zM466.8 793.15L469.68 796.03L466.8 798.91L463.92 796.03zM468.73 792.45L471.61 795.33L468.73 798.21L465.85 795.33zM470.65 791.74L473.53 794.62L470.65 797.5L467.77 794.62zM472.58 791.02L475.46 793.9L472.58 796.78L469.7 793.9zM474.5 790.31L477.38 793.19L474.5 796.07L471.62 793.19zM476.43 789.6L479.31 792.48L476.43 795.36L473.55 792.48zM478.36 788.88L481.24 791.76L478.36 794.64L475.48 791.76zM480.28 788.16L483.16 791.04L480.28 793.92L477.4 791.04zM482.21 787.44L485.09 790.32L482.21 793.2L479.33 790.32zM484.14 786.71L487.02 789.59L484.14 792.47L481.26 789.59zM486.06 785.98L488.94 788.86L486.06 791.74L483.18 788.86zM487.99 785.25L490.87 788.13L487.99 791.01L485.11 788.13z" fill="#00ffff" />
<path d="M104.75 934.31L105.78 934.26L106.81 934.19L107.84 934.13L108.86 934.06L109.89 933.99L110.92 933.92L111.95 933.84L112.97 933.76L114 933.68L115.03 933.59L116.06 933.51L117.08 933.42L118.11 933.33L119.14 933.23L120.17 933.13L121.19 933.04L122.22 932.93L123.25 932.83L124.28 932.72L125.3 932.61L126.33 932.5L127.36 932.39L128.39 932.27L129.41 932.15L130.44 932.03L131.47 931.91L132.5 931.79L133.52 931.66L134.55 931.53L135.58 931.4L136.61 931.27L137.63 931.13L138.66 931L139.69 930.86L140.72 930.72L141.74 930.58L142.77 930.43L143.8 930.29L144.83 930.14L145.85 929.99L146.88 929.84L147.91 929.69L148.93 929.53L149.96 929.38L150.99 929.22L152.02 929.06L153.04 928.9L154.07 928.74L155.1 928.57L156.13 928.41L157.15 928.24L158.18 928.07L159.21 927.91L160.24 927.74L161.26 927.56L162.29 927.39L163.32 927.22L164.35 927.04L165.37 926.87L166.4 926.69L167.43 926.51L168.46 926.33L169.48 926.15L170.51 925.97L171.54 925.79L172.57 925.6L173.59 925.42L174.62 925.23L175.65 925.05L176.68 924.86L177.7 924.67L178.73 924.49L179.76 924.3L181.3 923.02L182.33 921.91L183.35 920.89L184.38 919.95L185.41 919.08L186.44 918.28L187.72 917.8L188.75 917.51L189.78 917.21L190.8 916.9L191.83 916.58L192.86 916.25L193.89 915.92L194.91 915.58L195.94 915.23L196.97 914.87L198 914.51L199.02 914.14L200.05 913.76L201.08 913.37L202.1 912.98L203.13 912.57L204.16 912.17L205.19 911.75L206.21 911.33L207.24 910.9L208.27 910.47L209.3 910.03L210.32 909.58L211.35 909.13L212.38 908.67L213.41 908.2L214.43 907.73L215.46 907.26L216.49 906.78L217.52 906.29L218.54 905.8L219.57 905.3L220.6 904.8L221.63 904.29L222.65 903.78L223.68 903.26L224.71 902.74L225.74 902.22L226.76 901.69L227.79 901.15L228.82 900.61L229.85 900.07L230.87 899.53L231.9 898.98L232.93 898.43L233.96 897.87L234.98 897.31L236.01 896.75L237.04 896.18L238.07 895.61L239.09 895.04L240.12 894.47L241.15 893.89L242.17 893.31L243.2 892.73L244.23 892.15L245.26 891.56L246.28 890.97L247.31 890.38L248.34 889.79L249.37 889.2L250.39 888.6L251.42 888L252.45 887.41L253.48 886.81L254.5 886.21L255.53 885.61L256.56 885.01L257.59 884.4L258.61 883.8L259.64 883.2L260.67 882.59L261.7 881.99L262.72 881.39L263.75 880.78L264.78 880.18L265.55 878.6L266.58 878.09L267.6 877.58L268.63 877.06L269.66 876.54L270.69 876.01L271.71 875.48L272.74 874.94L273.77 874.4L274.8 873.85L275.82 873.3L276.85 872.74L277.88 872.18L278.91 871.61L279.93 871.04L280.96 870.46L281.99 869.88L283.02 869.3L284.04 868.71L285.07 868.11L286.1 867.51L287.13 866.91L288.15 866.31L289.18 865.7L290.21 865.08L291.24 864.46L292.26 863.84L293.29 863.21L294.32 862.57L295.34 861.92L297.14 860.75L298.94 859.56L300.74 858.33L302.54 857.09L304.34 855.84L306.13 854.58L307.93 853.32L309.73 852.06L311.53 850.8L313.33 849.57L315.12 848.35L316.92 847.16L318.72 846L320.52 844.87L322.32 843.76L324.11 842.66L325.91 841.58L327.71 840.5L329.51 839.42L331.31 838.33L333.1 837.23L334.9 836.13L336.7 835.02L338.5 833.91L340.3 832.81L342.09 831.7L343.89 830.58L345.69 829.47L348.26 828.26L350.06 827.53L351.85 826.79L353.65 826.05L355.45 825.31L357.25 824.56L359.05 823.81L360.84 823.06L362.64 822.3L364.44 821.54L366.24 820.78L368.04 820.02L369.83 819.25L371.63 818.48L373.43 817.71L375.23 816.93L377.03 816.16L378.82 815.38L380.62 814.59L382.42 813.81L384.22 813.02L386.02 812.22L387.81 811.42L389.61 810.62L391.41 809.81L393.21 809L395.01 808.19L396.8 807.38L398.6 806.56L400.4 805.74L402.2 804.92L404 804.1L405.79 803.28L407.59 802.46L409.39 801.64L411.19 800.81L412.99 799.97L414.78 799.12L416.58 798.27L418.38 797.41L420.18 796.55L421.98 795.7L423.78 794.84L425.57 793.99L427.37 793.15L429.17 792.32L430.97 791.5L432.77 790.7L434.56 789.91L436.36 789.14L438.16 788.37L439.96 787.61L441.76 786.84L443.55 786.09L445.35 785.33L447.15 784.58L448.95 783.84L450.75 783.1L452.54 782.36L454.34 781.63L456.14 780.9L457.94 780.18L459.74 779.46L461.53 778.75L463.33 778.04L465.13 777.34L466.93 776.65L468.73 775.96L470.52 775.27L472.32 774.59L474.12 773.92L475.92 773.26L477.72 772.6L479.51 771.95L481.31 771.3L483.11 770.66L484.91 770.03L486.71 769.4L488.5 768.79" fill="none" stroke="#800080" stroke-width="0.55" />
<path d="M104.75 931.69L105.4 933.42L107.25 933.5L105.8 934.66L106.3 936.44L104.75 935.42L103.21 936.44L103.71 934.66L102.26 933.5L104.11 933.42zM105.78 931.63L106.43 933.36L108.28 933.44L106.83 934.6L107.33 936.38L105.78 935.36L104.24 936.38L104.73 934.6L103.29 933.44L105.13 933.36zM106.81 931.57L107.46 933.3L109.31 933.38L107.86 934.53L108.35 936.32L106.81 935.3L105.27 936.32L105.76 934.53L104.31 933.38L106.16 933.3zM107.84 931.5L108.49 933.24L110.33 933.32L108.89 934.47L109.38 936.25L107.84 935.23L106.29 936.25L106.79 934.47L105.34 933.32L107.19 933.24zM108.86 931.43L109.51 933.17L111.36 933.25L109.91 934.4L110.41 936.18L108.86 935.16L107.32 936.18L107.82 934.4L106.37 933.25L108.22 933.17zM109.89 931.36L110.54 933.1L112.39 933.18L110.94 934.33L111.44 936.11L109.89 935.09L108.35 936.11L108.84 934.33L107.4 933.18L109.24 933.1zM110.92 931.29L111.57 933.02L113.42 933.1L111.97 934.26L112.46 936.04L110.92 935.02L109.38 936.04L109.87 934.26L108.42 933.1L110.27 933.02zM111.95 931.21L112.59 932.95L114.44 933.03L113 934.18L113.49 935.96L111.95 934.94L110.4 935.96L110.9 934.18L109.45 933.03L111.3 932.95zM112.97 931.14L113.62 932.87L115.47 932.95L114.02 934.1L114.52 935.88L112.97 934.86L111.43 935.88L111.93 934.1L110.48 932.95L112.33 932.87zM114 931.05L114.65 932.79L116.5 932.87L115.05 934.02L115.54 935.8L114 934.78L112.46 935.8L112.95 934.02L111.51 932.87L113.35 932.79zM115.03 930.97L115.68 932.7L117.53 932.78L116.08 933.94L116.57 935.72L115.03 934.7L113.49 935.72L113.98 933.94L112.53 932.78L114.38 932.7zM116.06 930.88L116.7 932.62L118.55 932.7L117.11 933.85L117.6 935.63L116.06 934.61L114.51 935.63L115.01 933.85L113.56 932.7L115.41 932.62zM117.08 930.79L117.73 932.53L119.58 932.61L118.13 933.76L118.63 935.54L117.08 934.52L115.54 935.54L116.04 933.76L114.59 932.61L116.44 932.53zM118.11 930.7L118.76 932.43L120.61 932.51L119.16 933.67L119.65 935.45L118.11 934.43L116.57 935.45L117.06 933.67L115.62 932.51L117.46 932.43zM119.14 930.61L119.79 932.34L121.64 932.42L120.19 933.57L120.68 935.36L119.14 934.33L117.6 935.36L118.09 933.57L116.64 932.42L118.49 932.34zM120.17 930.51L120.81 932.24L122.66 932.32L121.22 933.48L121.71 935.26L120.17 934.24L118.62 935.26L119.12 933.48L117.67 932.32L119.52 932.24zM121.19 930.41L121.84 932.14L123.69 932.22L122.24 933.38L122.74 935.16L121.19 934.14L119.65 935.16L120.15 933.38L118.7 932.22L120.55 932.14zM122.22 930.31L122.87 932.04L124.72 932.12L123.27 933.27L123.76 935.06L122.22 934.04L120.68 935.06L121.17 933.27L119.72 932.12L121.57 932.04zM123.25 930.2L123.9 931.94L125.75 932.02L124.3 933.17L124.79 934.95L123.25 933.93L121.71 934.95L122.2 933.17L120.75 932.02L122.6 931.94zM124.28 930.1L124.92 931.83L126.77 931.91L125.32 933.06L125.82 934.85L124.28 933.82L122.73 934.85L123.23 933.06L121.78 931.91L123.63 931.83zM125.3 929.99L125.95 931.72L127.8 931.8L126.35 932.95L126.85 934.74L125.3 933.72L123.76 934.74L124.26 932.95L122.81 931.8L124.66 931.72zM126.33 929.88L126.98 931.61L128.83 931.69L127.38 932.84L127.87 934.63L126.33 933.6L124.79 934.63L125.28 932.84L123.83 931.69L125.68 931.61zM127.36 929.76L128.01 931.5L129.86 931.58L128.41 932.73L128.9 934.51L127.36 933.49L125.82 934.51L126.31 932.73L124.86 931.58L126.71 931.5zM128.39 929.65L129.03 931.38L130.88 931.46L129.43 932.61L129.93 934.4L128.39 933.37L126.84 934.4L127.34 932.61L125.89 931.46L127.74 931.38zM129.41 929.53L130.06 931.26L131.91 931.34L130.46 932.49L130.96 934.28L129.41 933.26L127.87 934.28L128.36 932.49L126.92 931.34L128.77 931.26zM130.44 929.41L131.09 931.14L132.94 931.22L131.49 932.37L131.98 934.16L130.44 933.14L128.9 934.16L129.39 932.37L127.94 931.22L129.79 931.14zM131.47 929.29L132.12 931.02L133.96 931.1L132.52 932.25L133.01 934.04L131.47 933.01L129.93 934.04L130.42 932.25L128.97 931.1L130.82 931.02zM132.5 929.16L133.14 930.9L134.99 930.98L133.54 932.13L134.04 933.91L132.5 932.89L130.95 933.91L131.45 932.13L130 930.98L131.85 930.9zM133.52 929.04L134.17 930.77L136.02 930.85L134.57 932L135.07 933.78L133.52 932.76L131.98 933.78L132.47 932L131.03 930.85L132.88 930.77zM134.55 928.91L135.2 930.64L137.05 930.72L135.6 931.87L136.09 933.66L134.55 932.63L133.01 933.66L133.5 931.87L132.05 930.72L133.9 930.64zM135.58 928.78L136.23 930.51L138.07 930.59L136.63 931.74L137.12 933.52L135.58 932.5L134.04 933.52L134.53 931.74L133.08 930.59L134.93 930.51zM136.61 928.64L137.25 930.38L139.1 930.46L137.65 931.61L138.15 933.39L136.61 932.37L135.06 933.39L135.56 931.61L134.11 930.46L135.96 930.38zM137.63 928.51L138.28 930.24L140.13 930.32L138.68 931.47L139.18 933.26L137.63 932.24L136.09 933.26L136.58 931.47L135.14 930.32L136.98 930.24zM138.66 928.37L139.31 930.11L141.16 930.19L139.71 931.34L140.2 933.12L138.66 932.1L137.12 933.12L137.61 931.34L136.16 930.19L138.01 930.11zM139.69 928.23L140.34 929.97L142.18 930.05L140.74 931.2L141.23 932.98L139.69 931.96L138.14 932.98L138.64 931.2L137.19 930.05L139.04 929.97zM140.72 928.09L141.36 929.83L143.21 929.91L141.76 931.06L142.26 932.84L140.72 931.82L139.17 932.84L139.67 931.06L138.22 929.91L140.07 929.83zM141.74 927.95L142.39 929.68L144.24 929.76L142.79 930.92L143.29 932.7L141.74 931.68L140.2 932.7L140.69 930.92L139.25 929.76L141.09 929.68zM142.77 927.81L143.42 929.54L145.27 929.62L143.82 930.77L144.31 932.56L142.77 931.53L141.23 932.56L141.72 930.77L140.27 929.62L142.12 929.54zM143.8 927.66L144.45 929.39L146.29 929.47L144.85 930.63L145.34 932.41L143.8 931.39L142.25 932.41L142.75 930.63L141.3 929.47L143.15 929.39zM144.83 927.51L145.47 929.25L147.32 929.33L145.87 930.48L146.37 932.26L144.83 931.24L143.28 932.26L143.78 930.48L142.33 929.33L144.18 929.25zM145.85 927.36L146.5 929.1L148.35 929.18L146.9 930.33L147.4 932.11L145.85 931.09L144.31 932.11L144.8 930.33L143.36 929.18L145.2 929.1zM146.88 927.21L147.53 928.95L149.38 929.03L147.93 930.18L148.42 931.96L146.88 930.94L145.34 931.96L145.83 930.18L144.38 929.03L146.23 928.95zM147.91 927.06L148.56 928.79L150.4 928.87L148.96 930.03L149.45 931.81L147.91 930.79L146.36 931.81L146.86 930.03L145.41 928.87L147.26 928.79zM148.93 926.91L149.58 928.64L151.43 928.72L149.98 929.87L150.48 931.65L148.93 930.63L147.39 931.65L147.89 929.87L146.44 928.72L148.29 928.64zM149.96 926.75L150.61 928.48L152.46 928.56L151.01 929.72L151.51 931.5L149.96 930.48L148.42 931.5L148.91 929.72L147.47 928.56L149.31 928.48zM150.99 926.59L151.64 928.33L153.49 928.41L152.04 929.56L152.53 931.34L150.99 930.32L149.45 931.34L149.94 929.56L148.49 928.41L150.34 928.33zM152.02 926.43L152.67 928.17L154.51 928.25L153.07 929.4L153.56 931.18L152.02 930.16L150.47 931.18L150.97 929.4L149.52 928.25L151.37 928.17zM153.04 926.27L153.69 928.01L155.54 928.09L154.09 929.24L154.59 931.02L153.04 930L151.5 931.02L152 929.24L150.55 928.09L152.4 928.01zM154.07 926.11L154.72 927.84L156.57 927.93L155.12 929.08L155.61 930.86L154.07 929.84L152.53 930.86L153.02 929.08L151.58 927.93L153.42 927.84zM155.1 925.95L155.75 927.68L157.6 927.76L156.15 928.91L156.64 930.7L155.1 929.68L153.56 930.7L154.05 928.91L152.6 927.76L154.45 927.68zM156.13 925.78L156.77 927.52L158.62 927.6L157.18 928.75L157.67 930.53L156.13 929.51L154.58 930.53L155.08 928.75L153.63 927.6L155.48 927.52zM157.15 925.62L157.8 927.35L159.65 927.43L158.2 928.58L158.7 930.37L157.15 929.34L155.61 930.37L156.11 928.58L154.66 927.43L156.51 927.35zM158.18 925.45L158.83 927.18L160.68 927.26L159.23 928.41L159.72 930.2L158.18 929.18L156.64 930.2L157.13 928.41L155.69 927.26L157.53 927.18zM159.21 925.28L159.86 927.01L161.71 927.09L160.26 928.25L160.75 930.03L159.21 929.01L157.67 930.03L158.16 928.25L156.71 927.09L158.56 927.01zM160.24 925.11L160.88 926.84L162.73 926.92L161.29 928.08L161.78 929.86L160.24 928.84L158.69 929.86L159.19 928.08L157.74 926.92L159.59 926.84zM161.26 924.94L161.91 926.67L163.76 926.75L162.31 927.9L162.81 929.69L161.26 928.67L159.72 929.69L160.22 927.9L158.77 926.75L160.62 926.67zM162.29 924.77L162.94 926.5L164.79 926.58L163.34 927.73L163.83 929.51L162.29 928.49L160.75 929.51L161.24 927.73L159.79 926.58L161.64 926.5zM163.32 924.59L163.97 926.33L165.82 926.41L164.37 927.56L164.86 929.34L163.32 928.32L161.78 929.34L162.27 927.56L160.82 926.41L162.67 926.33zM164.35 924.42L164.99 926.15L166.84 926.23L165.39 927.38L165.89 929.17L164.35 928.14L162.8 929.17L163.3 927.38L161.85 926.23L163.7 926.15zM165.37 924.24L166.02 925.97L167.87 926.05L166.42 927.21L166.92 928.99L165.37 927.97L163.83 928.99L164.33 927.21L162.88 926.05L164.73 925.97zM166.4 924.06L167.05 925.8L168.9 925.88L167.45 927.03L167.94 928.81L166.4 927.79L164.86 928.81L165.35 927.03L163.9 925.88L165.75 925.8zM167.43 923.89L168.08 925.62L169.93 925.7L168.48 926.85L168.97 928.63L167.43 927.61L165.89 928.63L166.38 926.85L164.93 925.7L166.78 925.62zM168.46 923.71L169.1 925.44L170.95 925.52L169.5 926.67L170 928.45L168.46 927.43L166.91 928.45L167.41 926.67L165.96 925.52L167.81 925.44zM169.48 923.53L170.13 925.26L171.98 925.34L170.53 926.49L171.03 928.27L169.48 927.25L167.94 928.27L168.44 926.49L166.99 925.34L168.84 925.26zM170.51 923.34L171.16 925.08L173.01 925.16L171.56 926.31L172.05 928.09L170.51 927.07L168.97 928.09L169.46 926.31L168.01 925.16L169.86 925.08zM171.54 923.16L172.19 924.89L174.04 924.98L172.59 926.13L173.08 927.91L171.54 926.89L170 927.91L170.49 926.13L169.04 924.98L170.89 924.89zM172.57 922.98L173.21 924.71L175.06 924.79L173.61 925.94L174.11 927.73L172.57 926.71L171.02 927.73L171.52 925.94L170.07 924.79L171.92 924.71zM173.59 922.79L174.24 924.53L176.09 924.61L174.64 925.76L175.14 927.54L173.59 926.52L172.05 927.54L172.54 925.76L171.1 924.61L172.95 924.53zM174.62 922.61L175.27 924.34L177.12 924.42L175.67 925.57L176.16 927.36L174.62 926.34L173.08 927.36L173.57 925.57L172.12 924.42L173.97 924.34zM175.65 922.42L176.3 924.16L178.14 924.24L176.7 925.39L177.19 927.17L175.65 926.15L174.11 927.17L174.6 925.39L173.15 924.24L175 924.16zM176.68 922.24L177.32 923.97L179.17 924.05L177.72 925.2L178.22 926.98L176.68 925.96L175.13 926.98L175.63 925.2L174.18 924.05L176.03 923.97zM177.7 922.05L178.35 923.78L180.2 923.86L178.75 925.01L179.25 926.8L177.7 925.78L176.16 926.8L176.65 925.01L175.21 923.86L177.06 923.78zM178.73 921.86L179.38 923.59L181.23 923.67L179.78 924.83L180.27 926.61L178.73 925.59L177.19 926.61L177.68 924.83L176.23 923.67L178.08 923.59zM179.76 921.67L180.41 923.4L182.25 923.49L180.81 924.64L181.3 926.42L179.76 925.4L178.22 926.42L178.71 924.64L177.26 923.49L179.11 923.4zM181.3 920.39L181.95 922.12L183.8 922.21L182.35 923.36L182.84 925.14L181.3 924.12L179.76 925.14L180.25 923.36L178.8 922.21L180.65 922.12zM182.33 919.28L182.97 921.02L184.82 921.1L183.38 922.25L183.87 924.03L182.33 923.01L180.78 924.03L181.28 922.25L179.83 921.1L181.68 921.02zM183.35 918.26L184 920L185.85 920.08L184.4 921.23L184.9 923.01L183.35 921.99L181.81 923.01L182.31 921.23L180.86 920.08L182.71 920zM184.38 917.32L185.03 919.06L186.88 919.14L185.43 920.29L185.92 922.07L184.38 921.05L182.84 922.07L183.33 920.29L181.88 919.14L183.73 919.06zM185.41 916.45L186.06 918.19L187.91 918.27L186.46 919.42L186.95 921.2L185.41 920.18L183.87 921.2L184.36 919.42L182.91 918.27L184.76 918.19zM186.44 915.66L187.08 917.39L188.93 917.47L187.48 918.62L187.98 920.41L186.44 919.38L184.89 920.41L185.39 918.62L183.94 917.47L185.79 917.39zM187.72 915.17L188.37 916.91L190.22 916.99L188.77 918.14L189.26 919.92L187.72 918.9L186.18 919.92L186.67 918.14L185.22 916.99L187.07 916.91zM188.75 914.88L189.4 916.62L191.24 916.7L189.8 917.85L190.29 919.63L188.75 918.61L187.21 919.63L187.7 917.85L186.25 916.7L188.1 916.62zM189.78 914.58L190.42 916.31L192.27 916.4L190.82 917.55L191.32 919.33L189.78 918.31L188.23 919.33L188.73 917.55L187.28 916.4L189.13 916.31zM190.8 914.27L191.45 916.01L193.3 916.09L191.85 917.24L192.35 919.02L190.8 918L189.26 919.02L189.75 917.24L188.31 916.09L190.15 916.01zM191.83 913.96L192.48 915.69L194.33 915.77L192.88 916.92L193.37 918.7L191.83 917.68L190.29 918.7L190.78 916.92L189.33 915.77L191.18 915.69zM192.86 913.63L193.51 915.36L195.35 915.44L193.91 916.6L194.4 918.38L192.86 917.36L191.31 918.38L191.81 916.6L190.36 915.44L192.21 915.36zM193.89 913.3L194.53 915.03L196.38 915.11L194.93 916.26L195.43 918.05L193.89 917.02L192.34 918.05L192.84 916.26L191.39 915.11L193.24 915.03zM194.91 912.95L195.56 914.69L197.41 914.77L195.96 915.92L196.46 917.7L194.91 916.68L193.37 917.7L193.86 915.92L192.42 914.77L194.26 914.69zM195.94 912.61L196.59 914.34L198.44 914.42L196.99 915.57L197.48 917.35L195.94 916.33L194.4 917.35L194.89 915.57L193.44 914.42L195.29 914.34zM196.97 912.25L197.62 913.98L199.46 914.06L198.02 915.21L198.51 917L196.97 915.98L195.42 917L195.92 915.21L194.47 914.06L196.32 913.98zM198 911.88L198.64 913.62L200.49 913.7L199.04 914.85L199.54 916.63L198 915.61L196.45 916.63L196.95 914.85L195.5 913.7L197.35 913.62zM199.02 911.51L199.67 913.24L201.52 913.32L200.07 914.48L200.57 916.26L199.02 915.24L197.48 916.26L197.97 914.48L196.53 913.32L198.37 913.24zM200.05 911.13L200.7 912.86L202.55 912.95L201.1 914.1L201.59 915.88L200.05 914.86L198.51 915.88L199 914.1L197.55 912.95L199.4 912.86zM201.08 910.74L201.73 912.48L203.57 912.56L202.13 913.71L202.62 915.49L201.08 914.47L199.53 915.49L200.03 913.71L198.58 912.56L200.43 912.48zM202.1 910.35L202.75 912.08L204.6 912.16L203.15 913.32L203.65 915.1L202.1 914.08L200.56 915.1L201.06 913.32L199.61 912.16L201.46 912.08zM203.13 909.95L203.78 911.68L205.63 911.76L204.18 912.92L204.68 914.7L203.13 913.68L201.59 914.7L202.08 912.92L200.64 911.76L202.48 911.68zM204.16 909.54L204.81 911.27L206.66 911.36L205.21 912.51L205.7 914.29L204.16 913.27L202.62 914.29L203.11 912.51L201.66 911.36L203.51 911.27zM205.19 909.13L205.84 910.86L207.68 910.94L206.24 912.09L206.73 913.88L205.19 912.85L203.64 913.88L204.14 912.09L202.69 910.94L204.54 910.86zM206.21 908.71L206.86 910.44L208.71 910.52L207.26 911.67L207.76 913.45L206.21 912.43L204.67 913.45L205.17 911.67L203.72 910.52L205.57 910.44zM207.24 908.28L207.89 910.01L209.74 910.09L208.29 911.24L208.78 913.03L207.24 912L205.7 913.03L206.19 911.24L204.75 910.09L206.59 910.01zM208.27 907.84L208.92 909.58L210.77 909.66L209.32 910.81L209.81 912.59L208.27 911.57L206.73 912.59L207.22 910.81L205.77 909.66L207.62 909.58zM209.3 907.4L209.94 909.14L211.79 909.22L210.35 910.37L210.84 912.15L209.3 911.13L207.75 912.15L208.25 910.37L206.8 909.22L208.65 909.14zM210.32 906.96L210.97 908.69L212.82 908.77L211.37 909.92L211.87 911.7L210.32 910.68L208.78 911.7L209.28 909.92L207.83 908.77L209.68 908.69zM211.35 906.5L212 908.24L213.85 908.32L212.4 909.47L212.89 911.25L211.35 910.23L209.81 911.25L210.3 909.47L208.86 908.32L210.7 908.24zM212.38 906.04L213.03 907.78L214.88 907.86L213.43 909.01L213.92 910.79L212.38 909.77L210.84 910.79L211.33 909.01L209.88 907.86L211.73 907.78zM213.41 905.58L214.05 907.31L215.9 907.39L214.46 908.54L214.95 910.33L213.41 909.31L211.86 910.33L212.36 908.54L210.91 907.39L212.76 907.31zM214.43 905.11L215.08 906.84L216.93 906.92L215.48 908.07L215.98 909.86L214.43 908.84L212.89 909.86L213.39 908.07L211.94 906.92L213.79 906.84zM215.46 904.63L216.11 906.37L217.96 906.45L216.51 907.6L217 909.38L215.46 908.36L213.92 909.38L214.41 907.6L212.97 906.45L214.81 906.37zM216.49 904.15L217.14 905.88L218.99 905.96L217.54 907.12L218.03 908.9L216.49 907.88L214.95 908.9L215.44 907.12L213.99 905.96L215.84 905.88zM217.52 903.66L218.16 905.4L220.01 905.48L218.56 906.63L219.06 908.41L217.52 907.39L215.97 908.41L216.47 906.63L215.02 905.48L216.87 905.4zM218.54 903.17L219.19 904.9L221.04 904.99L219.59 906.14L220.09 907.92L218.54 906.9L217 907.92L217.5 906.14L216.05 904.99L217.9 904.9zM219.57 902.67L220.22 904.41L222.07 904.49L220.62 905.64L221.11 907.42L219.57 906.4L218.03 907.42L218.52 905.64L217.07 904.49L218.92 904.41zM220.6 902.17L221.25 903.91L223.1 903.99L221.65 905.14L222.14 906.92L220.6 905.9L219.06 906.92L219.55 905.14L218.1 903.99L219.95 903.91zM221.63 901.67L222.27 903.4L224.12 903.48L222.67 904.63L223.17 906.41L221.63 905.39L220.08 906.41L220.58 904.63L219.13 903.48L220.98 903.4zM222.65 901.15L223.3 902.89L225.15 902.97L223.7 904.12L224.2 905.9L222.65 904.88L221.11 905.9L221.61 904.12L220.16 902.97L222.01 902.89zM223.68 900.64L224.33 902.37L226.18 902.45L224.73 903.6L225.22 905.39L223.68 904.36L222.14 905.39L222.63 903.6L221.18 902.45L223.03 902.37zM224.71 900.12L225.36 901.85L227.21 901.93L225.76 903.08L226.25 904.86L224.71 903.84L223.17 904.86L223.66 903.08L222.21 901.93L224.06 901.85zM225.74 899.59L226.38 901.32L228.23 901.4L226.78 902.56L227.28 904.34L225.74 903.32L224.19 904.34L224.69 902.56L223.24 901.4L225.09 901.32zM226.76 899.06L227.41 900.79L229.26 900.88L227.81 902.03L228.31 903.81L226.76 902.79L225.22 903.81L225.71 902.03L224.27 900.88L226.12 900.79zM227.79 898.53L228.44 900.26L230.29 900.34L228.84 901.49L229.33 903.28L227.79 902.26L226.25 903.28L226.74 901.49L225.29 900.34L227.14 900.26zM228.82 897.99L229.47 899.72L231.31 899.8L229.87 900.96L230.36 902.74L228.82 901.72L227.28 902.74L227.77 900.96L226.32 899.8L228.17 899.72zM229.85 897.45L230.49 899.18L232.34 899.26L230.89 900.41L231.39 902.2L229.85 901.18L228.3 902.2L228.8 900.41L227.35 899.26L229.2 899.18zM230.87 896.9L231.52 898.64L233.37 898.72L231.92 899.87L232.42 901.65L230.87 900.63L229.33 901.65L229.82 899.87L228.38 898.72L230.23 898.64zM231.9 896.35L232.55 898.09L234.4 898.17L232.95 899.32L233.44 901.1L231.9 900.08L230.36 901.1L230.85 899.32L229.4 898.17L231.25 898.09zM232.93 895.8L233.58 897.53L235.42 897.61L233.98 898.77L234.47 900.55L232.93 899.53L231.39 900.55L231.88 898.77L230.43 897.61L232.28 897.53zM233.96 895.24L234.6 896.98L236.45 897.06L235 898.21L235.5 899.99L233.96 898.97L232.41 899.99L232.91 898.21L231.46 897.06L233.31 896.98zM234.98 894.69L235.63 896.42L237.48 896.5L236.03 897.65L236.53 899.43L234.98 898.41L233.44 899.43L233.93 897.65L232.49 896.5L234.33 896.42zM236.01 894.12L236.66 895.86L238.51 895.94L237.06 897.09L237.55 898.87L236.01 897.85L234.47 898.87L234.96 897.09L233.51 895.94L235.36 895.86zM237.04 893.56L237.69 895.29L239.53 895.37L238.09 896.52L238.58 898.31L237.04 897.28L235.49 898.31L235.99 896.52L234.54 895.37L236.39 895.29zM238.07 892.99L238.71 894.72L240.56 894.8L239.11 895.95L239.61 897.74L238.07 896.72L236.52 897.74L237.02 895.95L235.57 894.8L237.42 894.72zM239.09 892.42L239.74 894.15L241.59 894.23L240.14 895.38L240.64 897.16L239.09 896.14L237.55 897.16L238.04 895.38L236.6 894.23L238.44 894.15zM240.12 891.84L240.77 893.58L242.62 893.66L241.17 894.81L241.66 896.59L240.12 895.57L238.58 896.59L239.07 894.81L237.62 893.66L239.47 893.58zM241.15 891.27L241.8 893L243.64 893.08L242.2 894.23L242.69 896.01L241.15 894.99L239.6 896.01L240.1 894.23L238.65 893.08L240.5 893zM242.17 890.69L242.82 892.42L244.67 892.5L243.22 893.65L243.72 895.43L242.17 894.41L240.63 895.43L241.13 893.65L239.68 892.5L241.53 892.42zM243.2 890.1L243.85 891.84L245.7 891.92L244.25 893.07L244.75 894.85L243.2 893.83L241.66 894.85L242.15 893.07L240.71 891.92L242.55 891.84zM244.23 889.52L244.88 891.25L246.73 891.33L245.28 892.49L245.77 894.27L244.23 893.25L242.69 894.27L243.18 892.49L241.73 891.33L243.58 891.25zM245.26 888.93L245.91 890.67L247.75 890.75L246.31 891.9L246.8 893.68L245.26 892.66L243.71 893.68L244.21 891.9L242.76 890.75L244.61 890.67zM246.28 888.35L246.93 890.08L248.78 890.16L247.33 891.31L247.83 893.09L246.28 892.07L244.74 893.09L245.24 891.31L243.79 890.16L245.64 890.08zM247.31 887.76L247.96 889.49L249.81 889.57L248.36 890.72L248.86 892.5L247.31 891.48L245.77 892.5L246.26 890.72L244.82 889.57L246.66 889.49zM248.34 887.16L248.99 888.9L250.84 888.98L249.39 890.13L249.88 891.91L248.34 890.89L246.8 891.91L247.29 890.13L245.84 888.98L247.69 888.9zM249.37 886.57L250.02 888.3L251.86 888.38L250.42 889.54L250.91 891.32L249.37 890.3L247.82 891.32L248.32 889.54L246.87 888.38L248.72 888.3zM250.39 885.98L251.04 887.71L252.89 887.79L251.44 888.94L251.94 890.72L250.39 889.7L248.85 890.72L249.35 888.94L247.9 887.79L249.75 887.71zM251.42 885.38L252.07 887.11L253.92 887.19L252.47 888.35L252.96 890.13L251.42 889.11L249.88 890.13L250.37 888.35L248.93 887.19L250.77 887.11zM252.45 884.78L253.1 886.51L254.95 886.6L253.5 887.75L253.99 889.53L252.45 888.51L250.91 889.53L251.4 887.75L249.95 886.6L251.8 886.51zM253.48 884.18L254.12 885.92L255.97 886L254.53 887.15L255.02 888.93L253.48 887.91L251.93 888.93L252.43 887.15L250.98 886L252.83 885.92zM254.5 883.58L255.15 885.32L257 885.4L255.55 886.55L256.05 888.33L254.5 887.31L252.96 888.33L253.46 886.55L252.01 885.4L253.86 885.32zM255.53 882.98L256.18 884.72L258.03 884.8L256.58 885.95L257.07 887.73L255.53 886.71L253.99 887.73L254.48 885.95L253.04 884.8L254.88 884.72zM256.56 882.38L257.21 884.11L259.06 884.19L257.61 885.35L258.1 887.13L256.56 886.11L255.02 887.13L255.51 885.35L254.06 884.19L255.91 884.11zM257.59 881.78L258.23 883.51L260.08 883.59L258.64 884.74L259.13 886.53L257.59 885.51L256.04 886.53L256.54 884.74L255.09 883.59L256.94 883.51zM258.61 881.18L259.26 882.91L261.11 882.99L259.66 884.14L260.16 885.92L258.61 884.9L257.07 885.92L257.57 884.14L256.12 882.99L257.97 882.91zM259.64 880.57L260.29 882.31L262.14 882.39L260.69 883.54L261.18 885.32L259.64 884.3L258.1 885.32L258.59 883.54L257.14 882.39L258.99 882.31zM260.67 879.97L261.32 881.7L263.17 881.78L261.72 882.93L262.21 884.72L260.67 883.7L259.13 884.72L259.62 882.93L258.17 881.78L260.02 881.7zM261.7 879.37L262.34 881.1L264.19 881.18L262.74 882.33L263.24 884.11L261.7 883.09L260.15 884.11L260.65 882.33L259.2 881.18L261.05 881.1zM262.72 878.76L263.37 880.49L265.22 880.58L263.77 881.73L264.27 883.51L262.72 882.49L261.18 883.51L261.68 881.73L260.23 880.58L262.08 880.49zM263.75 878.16L264.4 879.89L266.25 879.97L264.8 881.12L265.29 882.91L263.75 881.88L262.21 882.91L262.7 881.12L261.25 879.97L263.1 879.89zM264.78 877.55L265.43 879.29L267.28 879.37L265.83 880.52L266.32 882.3L264.78 881.28L263.24 882.3L263.73 880.52L262.28 879.37L264.13 879.29zM265.55 875.98L266.2 877.71L268.05 877.79L266.6 878.94L267.09 880.72L265.55 879.7L264.01 880.72L264.5 878.94L263.05 877.79L264.9 877.71zM266.58 875.47L267.22 877.2L269.07 877.28L267.63 878.43L268.12 880.22L266.58 879.2L265.03 880.22L265.53 878.43L264.08 877.28L265.93 877.2zM267.6 874.96L268.25 876.69L270.1 876.77L268.65 877.92L269.15 879.71L267.6 878.68L266.06 879.71L266.56 877.92L265.11 876.77L266.96 876.69zM268.63 874.44L269.28 876.17L271.13 876.25L269.68 877.4L270.17 879.19L268.63 878.17L267.09 879.19L267.58 877.4L266.14 876.25L267.98 876.17zM269.66 873.92L270.31 875.65L272.16 875.73L270.71 876.88L271.2 878.67L269.66 877.64L268.12 878.67L268.61 876.88L267.16 875.73L269.01 875.65zM270.69 873.39L271.33 875.12L273.18 875.2L271.73 876.35L272.23 878.14L270.69 877.12L269.14 878.14L269.64 876.35L268.19 875.2L270.04 875.12zM271.71 872.86L272.36 874.59L274.21 874.67L272.76 875.82L273.26 877.6L271.71 876.58L270.17 877.6L270.67 875.82L269.22 874.67L271.07 874.59zM272.74 872.32L273.39 874.05L275.24 874.13L273.79 875.28L274.28 877.07L272.74 876.04L271.2 877.07L271.69 875.28L270.24 874.13L272.09 874.05zM273.77 871.77L274.42 873.51L276.27 873.59L274.82 874.74L275.31 876.52L273.77 875.5L272.23 876.52L272.72 874.74L271.27 873.59L273.12 873.51zM274.8 871.23L275.44 872.96L277.29 873.04L275.84 874.19L276.34 875.97L274.8 874.95L273.25 875.97L273.75 874.19L272.3 873.04L274.15 872.96zM275.82 870.67L276.47 872.41L278.32 872.49L276.87 873.64L277.37 875.42L275.82 874.4L274.28 875.42L274.78 873.64L273.33 872.49L275.18 872.41zM276.85 870.12L277.5 871.85L279.35 871.93L277.9 873.08L278.39 874.86L276.85 873.84L275.31 874.86L275.8 873.08L274.35 871.93L276.2 871.85zM277.88 869.55L278.53 871.29L280.38 871.37L278.93 872.52L279.42 874.3L277.88 873.28L276.34 874.3L276.83 872.52L275.38 871.37L277.23 871.29zM278.91 868.99L279.55 870.72L281.4 870.8L279.95 871.95L280.45 873.73L278.91 872.71L277.36 873.73L277.86 871.95L276.41 870.8L278.26 870.72zM279.93 868.41L280.58 870.15L282.43 870.23L280.98 871.38L281.48 873.16L279.93 872.14L278.39 873.16L278.88 871.38L277.44 870.23L279.29 870.15zM280.96 867.84L281.61 869.57L283.46 869.65L282.01 870.8L282.5 872.59L280.96 871.56L279.42 872.59L279.91 870.8L278.46 869.65L280.31 869.57zM281.99 867.26L282.64 868.99L284.48 869.07L283.04 870.22L283.53 872.01L281.99 870.98L280.45 872.01L280.94 870.22L279.49 869.07L281.34 868.99zM283.02 866.67L283.66 868.4L285.51 868.49L284.06 869.64L284.56 871.42L283.02 870.4L281.47 871.42L281.97 869.64L280.52 868.49L282.37 868.4zM284.04 866.08L284.69 867.81L286.54 867.9L285.09 869.05L285.59 870.83L284.04 869.81L282.5 870.83L282.99 869.05L281.55 867.9L283.4 867.81zM285.07 865.49L285.72 867.22L287.57 867.3L286.12 868.45L286.61 870.24L285.07 869.22L283.53 870.24L284.02 868.45L282.57 867.3L284.42 867.22zM286.1 864.89L286.75 866.62L288.59 866.7L287.15 867.86L287.64 869.64L286.1 868.62L284.56 869.64L285.05 867.86L283.6 866.7L285.45 866.62zM287.13 864.29L287.77 866.02L289.62 866.1L288.17 867.25L288.67 869.04L287.13 868.01L285.58 869.04L286.08 867.25L284.63 866.1L286.48 866.02zM288.15 863.68L288.8 865.41L290.65 865.49L289.2 866.65L289.7 868.43L288.15 867.41L286.61 868.43L287.1 866.65L285.66 865.49L287.5 865.41zM289.18 863.07L289.83 864.8L291.68 864.88L290.23 866.04L290.72 867.82L289.18 866.8L287.64 867.82L288.13 866.04L286.68 864.88L288.53 864.8zM290.21 862.46L290.86 864.19L292.7 864.27L291.26 865.42L291.75 867.2L290.21 866.18L288.66 867.2L289.16 865.42L287.71 864.27L289.56 864.19zM291.24 861.84L291.88 863.57L293.73 863.65L292.28 864.8L292.78 866.59L291.24 865.56L289.69 866.59L290.19 864.8L288.74 863.65L290.59 863.57zM292.26 861.22L292.91 862.95L294.76 863.03L293.31 864.18L293.81 865.96L292.26 864.94L290.72 865.96L291.21 864.18L289.77 863.03L291.61 862.95zM293.29 860.59L293.94 862.32L295.79 862.4L294.34 863.55L294.83 865.34L293.29 864.32L291.75 865.34L292.24 863.55L290.79 862.4L292.64 862.32zM294.32 859.95L294.97 861.68L296.81 861.76L295.37 862.91L295.86 864.7L294.32 863.68L292.77 864.7L293.27 862.91L291.82 861.76L293.67 861.68zM295.34 859.3L295.99 861.03L297.84 861.11L296.39 862.26L296.89 864.05L295.34 863.02L293.8 864.05L294.3 862.26L292.85 861.11L294.7 861.03zM297.14 858.13L297.79 859.86L299.64 859.94L298.19 861.09L298.69 862.88L297.14 861.86L295.6 862.88L296.09 861.09L294.65 859.94L296.49 859.86zM298.94 856.93L299.59 858.66L301.44 858.74L299.99 859.9L300.48 861.68L298.94 860.66L297.4 861.68L297.89 859.9L296.44 858.74L298.29 858.66zM300.74 855.71L301.39 857.44L303.24 857.52L301.79 858.67L302.28 860.46L300.74 859.44L299.2 860.46L299.69 858.67L298.24 857.52L300.09 857.44zM302.54 854.47L303.19 856.2L305.03 856.28L303.59 857.43L304.08 859.22L302.54 858.2L300.99 859.22L301.49 857.43L300.04 856.28L301.89 856.2zM304.34 853.21L304.98 854.95L306.83 855.03L305.38 856.18L305.88 857.96L304.34 856.94L302.79 857.96L303.29 856.18L301.84 855.03L303.69 854.95zM306.13 851.95L306.78 853.69L308.63 853.77L307.18 854.92L307.68 856.7L306.13 855.68L304.59 856.7L305.08 854.92L303.64 853.77L305.49 853.69zM307.93 850.69L308.58 852.42L310.43 852.5L308.98 853.66L309.47 855.44L307.93 854.42L306.39 855.44L306.88 853.66L305.43 852.5L307.28 852.42zM309.73 849.43L310.38 851.16L312.23 851.24L310.78 852.4L311.27 854.18L309.73 853.16L308.19 854.18L308.68 852.4L307.23 851.24L309.08 851.16zM311.53 848.18L312.18 849.91L314.02 849.99L312.58 851.15L313.07 852.93L311.53 851.91L309.98 852.93L310.48 851.15L309.03 849.99L310.88 849.91zM313.33 846.94L313.97 848.68L315.82 848.76L314.37 849.91L314.87 851.69L313.33 850.67L311.78 851.69L312.28 849.91L310.83 848.76L312.68 848.68zM315.12 845.73L315.77 847.46L317.62 847.54L316.17 848.69L316.67 850.48L315.12 849.45L313.58 850.48L314.07 848.69L312.63 847.54L314.48 847.46zM316.92 844.54L317.57 846.27L319.42 846.35L317.97 847.5L318.46 849.28L316.92 848.26L315.38 849.28L315.87 847.5L314.42 846.35L316.27 846.27zM318.72 843.38L319.37 845.11L321.22 845.19L319.77 846.34L320.26 848.12L318.72 847.1L317.18 848.12L317.67 846.34L316.22 845.19L318.07 845.11zM320.52 842.24L321.17 843.98L323.01 844.06L321.57 845.21L322.06 846.99L320.52 845.97L318.97 846.99L319.47 845.21L318.02 844.06L319.87 843.98zM322.32 841.13L322.96 842.87L324.81 842.95L323.36 844.1L323.86 845.88L322.32 844.86L320.77 845.88L321.27 844.1L319.82 842.95L321.67 842.87zM324.11 840.04L324.76 841.77L326.61 841.85L325.16 843L325.66 844.79L324.11 843.77L322.57 844.79L323.06 843L321.62 841.85L323.47 841.77zM325.91 838.95L326.56 840.69L328.41 840.77L326.96 841.92L327.45 843.7L325.91 842.68L324.37 843.7L324.86 841.92L323.41 840.77L325.26 840.69zM327.71 837.87L328.36 839.6L330.21 839.69L328.76 840.84L329.25 842.62L327.71 841.6L326.17 842.62L326.66 840.84L325.21 839.69L327.06 839.6zM329.51 836.79L330.16 838.52L332 838.6L330.56 839.76L331.05 841.54L329.51 840.52L327.96 841.54L328.46 839.76L327.01 838.6L328.86 838.52zM331.31 835.7L331.95 837.44L333.8 837.52L332.35 838.67L332.85 840.45L331.31 839.43L329.76 840.45L330.26 838.67L328.81 837.52L330.66 837.44zM333.1 834.61L333.75 836.34L335.6 836.42L334.15 837.57L334.65 839.35L333.1 838.33L331.56 839.35L332.05 837.57L330.61 836.42L332.46 836.34zM334.9 833.5L335.55 835.23L337.4 835.32L335.95 836.47L336.44 838.25L334.9 837.23L333.36 838.25L333.85 836.47L332.4 835.32L334.25 835.23zM336.7 832.4L337.35 834.13L339.2 834.21L337.75 835.36L338.24 837.14L336.7 836.12L335.16 837.14L335.65 835.36L334.2 834.21L336.05 834.13zM338.5 831.29L339.15 833.02L340.99 833.1L339.55 834.25L340.04 836.04L338.5 835.02L336.95 836.04L337.45 834.25L336 833.1L337.85 833.02zM340.3 830.18L340.94 831.91L342.79 831.99L341.34 833.15L341.84 834.93L340.3 833.91L338.75 834.93L339.25 833.15L337.8 831.99L339.65 831.91zM342.09 829.07L342.74 830.8L344.59 830.88L343.14 832.04L343.64 833.82L342.09 832.8L340.55 833.82L341.04 832.04L339.6 830.88L341.45 830.8zM343.89 827.96L344.54 829.69L346.39 829.77L344.94 830.92L345.43 832.71L343.89 831.69L342.35 832.71L342.84 830.92L341.4 829.77L343.24 829.69zM345.69 826.85L346.34 828.58L348.19 828.66L346.74 829.81L347.23 831.59L345.69 830.57L344.15 831.59L344.64 829.81L343.19 828.66L345.04 828.58zM348.26 825.64L348.91 827.37L350.75 827.45L349.31 828.6L349.8 830.39L348.26 829.36L346.72 830.39L347.21 828.6L345.76 827.45L347.61 827.37zM350.06 824.9L350.7 826.64L352.55 826.72L351.1 827.87L351.6 829.65L350.06 828.63L348.51 829.65L349.01 827.87L347.56 826.72L349.41 826.64zM351.85 824.16L352.5 825.9L354.35 825.98L352.9 827.13L353.4 828.91L351.85 827.89L350.31 828.91L350.81 827.13L349.36 825.98L351.21 825.9zM353.65 823.42L354.3 825.16L356.15 825.24L354.7 826.39L355.2 828.17L353.65 827.15L352.11 828.17L352.6 826.39L351.16 825.24L353 825.16zM355.45 822.68L356.1 824.41L357.95 824.49L356.5 825.65L356.99 827.43L355.45 826.41L353.91 827.43L354.4 825.65L352.95 824.49L354.8 824.41zM357.25 821.93L357.9 823.67L359.74 823.75L358.3 824.9L358.79 826.68L357.25 825.66L355.71 826.68L356.2 824.9L354.75 823.75L356.6 823.67zM359.05 821.18L359.69 822.92L361.54 823L360.09 824.15L360.59 825.93L359.05 824.91L357.5 825.93L358 824.15L356.55 823L358.4 822.92zM360.84 820.43L361.49 822.16L363.34 822.25L361.89 823.4L362.39 825.18L360.84 824.16L359.3 825.18L359.8 823.4L358.35 822.25L360.2 822.16zM362.64 819.68L363.29 821.41L365.14 821.49L363.69 822.64L364.19 824.42L362.64 823.4L361.1 824.42L361.59 822.64L360.15 821.49L361.99 821.41zM364.44 818.92L365.09 820.65L366.94 820.73L365.49 821.88L365.98 823.67L364.44 822.65L362.9 823.67L363.39 821.88L361.94 820.73L363.79 820.65zM366.24 818.16L366.89 819.89L368.73 819.97L367.29 821.12L367.78 822.91L366.24 821.88L364.7 822.91L365.19 821.12L363.74 819.97L365.59 819.89zM368.04 817.39L368.68 819.13L370.53 819.21L369.08 820.36L369.58 822.14L368.04 821.12L366.49 822.14L366.99 820.36L365.54 819.21L367.39 819.13zM369.83 816.63L370.48 818.36L372.33 818.44L370.88 819.59L371.38 821.37L369.83 820.35L368.29 821.37L368.79 819.59L367.34 818.44L369.19 818.36zM371.63 815.86L372.28 817.59L374.13 817.67L372.68 818.82L373.18 820.6L371.63 819.58L370.09 820.6L370.58 818.82L369.14 817.67L370.98 817.59zM373.43 815.08L374.08 816.82L375.93 816.9L374.48 818.05L374.97 819.83L373.43 818.81L371.89 819.83L372.38 818.05L370.93 816.9L372.78 816.82zM375.23 814.31L375.88 816.04L377.72 816.12L376.28 817.27L376.77 819.06L375.23 818.04L373.69 819.06L374.18 817.27L372.73 816.12L374.58 816.04zM377.03 813.53L377.67 815.26L379.52 815.35L378.08 816.5L378.57 818.28L377.03 817.26L375.48 818.28L375.98 816.5L374.53 815.35L376.38 815.26zM378.82 812.75L379.47 814.48L381.32 814.57L379.87 815.72L380.37 817.5L378.82 816.48L377.28 817.5L377.78 815.72L376.33 814.57L378.18 814.48zM380.62 811.97L381.27 813.7L383.12 813.78L381.67 814.93L382.17 816.72L380.62 815.7L379.08 816.72L379.57 814.93L378.13 813.78L379.97 813.7zM382.42 811.18L383.07 812.91L384.92 813L383.47 814.15L383.96 815.93L382.42 814.91L380.88 815.93L381.37 814.15L379.92 813L381.77 812.91zM384.22 810.39L384.87 812.12L386.72 812.2L385.27 813.36L385.76 815.14L384.22 814.12L382.68 815.14L383.17 813.36L381.72 812.2L383.57 812.12zM386.02 809.59L386.66 811.33L388.51 811.41L387.07 812.56L387.56 814.34L386.02 813.32L384.47 814.34L384.97 812.56L383.52 811.41L385.37 811.33zM387.81 808.8L388.46 810.53L390.31 810.61L388.86 811.76L389.36 813.54L387.81 812.52L386.27 813.54L386.77 811.76L385.32 810.61L387.17 810.53zM389.61 807.99L390.26 809.73L392.11 809.81L390.66 810.96L391.16 812.74L389.61 811.72L388.07 812.74L388.56 810.96L387.12 809.81L388.96 809.73zM391.41 807.19L392.06 808.92L393.91 809L392.46 810.15L392.95 811.94L391.41 810.91L389.87 811.94L390.36 810.15L388.91 809L390.76 808.92zM393.21 806.38L393.86 808.11L395.71 808.19L394.26 809.34L394.75 811.13L393.21 810.11L391.67 811.13L392.16 809.34L390.71 808.19L392.56 808.11zM395.01 805.57L395.65 807.3L397.5 807.38L396.06 808.53L396.55 810.31L395.01 809.29L393.46 810.31L393.96 808.53L392.51 807.38L394.36 807.3zM396.8 804.75L397.45 806.49L399.3 806.57L397.85 807.72L398.35 809.5L396.8 808.48L395.26 809.5L395.76 807.72L394.31 806.57L396.16 806.49zM398.6 803.94L399.25 805.67L401.1 805.75L399.65 806.9L400.15 808.68L398.6 807.66L397.06 808.68L397.55 806.9L396.11 805.75L397.95 805.67zM400.4 803.12L401.05 804.85L402.9 804.93L401.45 806.08L401.94 807.87L400.4 806.85L398.86 807.87L399.35 806.08L397.9 804.93L399.75 804.85zM402.2 802.3L402.85 804.03L404.7 804.11L403.25 805.26L403.74 807.05L402.2 806.03L400.66 807.05L401.15 805.26L399.7 804.11L401.55 804.03zM404 801.48L404.64 803.21L406.49 803.29L405.05 804.44L405.54 806.23L404 805.2L402.45 806.23L402.95 804.44L401.5 803.29L403.35 803.21zM405.79 800.66L406.44 802.39L408.29 802.47L406.84 803.62L407.34 805.4L405.79 804.38L404.25 805.4L404.75 803.62L403.3 802.47L405.15 802.39zM407.59 799.83L408.24 801.57L410.09 801.65L408.64 802.8L409.14 804.58L407.59 803.56L406.05 804.58L406.54 802.8L405.1 801.65L406.94 801.57zM409.39 799.01L410.04 800.74L411.89 800.82L410.44 801.98L410.93 803.76L409.39 802.74L407.85 803.76L408.34 801.98L406.89 800.82L408.74 800.74zM411.19 798.18L411.84 799.92L413.69 800L412.24 801.15L412.73 802.93L411.19 801.91L409.65 802.93L410.14 801.15L408.69 800L410.54 799.92zM412.99 797.34L413.63 799.08L415.48 799.16L414.04 800.31L414.53 802.09L412.99 801.07L411.44 802.09L411.94 800.31L410.49 799.16L412.34 799.08zM414.78 796.5L415.43 798.23L417.28 798.31L415.83 799.46L416.33 801.25L414.78 800.22L413.24 801.25L413.74 799.46L412.29 798.31L414.14 798.23zM416.58 795.64L417.23 797.38L419.08 797.46L417.63 798.61L418.13 800.39L416.58 799.37L415.04 800.39L415.53 798.61L414.09 797.46L415.93 797.38zM418.38 794.79L419.03 796.52L420.88 796.6L419.43 797.75L419.92 799.54L418.38 798.51L416.84 799.54L417.33 797.75L415.88 796.6L417.73 796.52zM420.18 793.93L420.83 795.66L422.68 795.74L421.23 796.89L421.72 798.68L420.18 797.66L418.64 798.68L419.13 796.89L417.68 795.74L419.53 795.66zM421.98 793.07L422.63 794.8L424.47 794.88L423.03 796.04L423.52 797.82L421.98 796.8L420.43 797.82L420.93 796.04L419.48 794.88L421.33 794.8zM423.78 792.22L424.42 793.95L426.27 794.03L424.82 795.18L425.32 796.96L423.78 795.94L422.23 796.96L422.73 795.18L421.28 794.03L423.13 793.95zM425.57 791.37L426.22 793.1L428.07 793.18L426.62 794.33L427.12 796.12L425.57 795.09L424.03 796.12L424.52 794.33L423.08 793.18L424.92 793.1zM427.37 790.53L428.02 792.26L429.87 792.34L428.42 793.49L428.91 795.27L427.37 794.25L425.83 795.27L426.32 793.49L424.87 792.34L426.72 792.26zM429.17 789.69L429.82 791.43L431.67 791.51L430.22 792.66L430.71 794.44L429.17 793.42L427.63 794.44L428.12 792.66L426.67 791.51L428.52 791.43zM430.97 788.88L431.62 790.61L433.46 790.69L432.02 791.84L432.51 793.62L430.97 792.6L429.42 793.62L429.92 791.84L428.47 790.69L430.32 790.61zM432.77 788.07L433.41 789.8L435.26 789.89L433.81 791.04L434.31 792.82L432.77 791.8L431.22 792.82L431.72 791.04L430.27 789.89L432.12 789.8zM434.56 787.28L435.21 789.02L437.06 789.1L435.61 790.25L436.11 792.03L434.56 791.01L433.02 792.03L433.51 790.25L432.07 789.1L433.92 789.02zM436.36 786.51L437.01 788.25L438.86 788.33L437.41 789.48L437.9 791.26L436.36 790.24L434.82 791.26L435.31 789.48L433.86 788.33L435.71 788.25zM438.16 785.74L438.81 787.48L440.66 787.56L439.21 788.71L439.7 790.49L438.16 789.47L436.62 790.49L437.11 788.71L435.66 787.56L437.51 787.48zM439.96 784.98L440.61 786.71L442.45 786.79L441.01 787.95L441.5 789.73L439.96 788.71L438.41 789.73L438.91 787.95L437.46 786.79L439.31 786.71zM441.76 784.22L442.4 785.95L444.25 786.03L442.8 787.18L443.3 788.97L441.76 787.95L440.21 788.97L440.71 787.18L439.26 786.03L441.11 785.95zM443.55 783.46L444.2 785.19L446.05 785.28L444.6 786.43L445.1 788.21L443.55 787.19L442.01 788.21L442.5 786.43L441.06 785.28L442.91 785.19zM445.35 782.71L446 784.44L447.85 784.52L446.4 785.67L446.89 787.46L445.35 786.44L443.81 787.46L444.3 785.67L442.85 784.52L444.7 784.44zM447.15 781.96L447.8 783.69L449.65 783.77L448.2 784.92L448.69 786.71L447.15 785.69L445.61 786.71L446.1 784.92L444.65 783.77L446.5 783.69zM448.95 781.21L449.6 782.95L451.44 783.03L450 784.18L450.49 785.96L448.95 784.94L447.4 785.96L447.9 784.18L446.45 783.03L448.3 782.95zM450.75 780.47L451.39 782.21L453.24 782.29L451.79 783.44L452.29 785.22L450.75 784.2L449.2 785.22L449.7 783.44L448.25 782.29L450.1 782.21zM452.54 779.74L453.19 781.47L455.04 781.55L453.59 782.7L454.09 784.49L452.54 783.46L451 784.49L451.49 782.7L450.05 781.55L451.9 781.47zM454.34 779L454.99 780.74L456.84 780.82L455.39 781.97L455.88 783.75L454.34 782.73L452.8 783.75L453.29 781.97L451.84 780.82L453.69 780.74zM456.14 778.28L456.79 780.01L458.64 780.09L457.19 781.24L457.68 783.03L456.14 782L454.6 783.03L455.09 781.24L453.64 780.09L455.49 780.01zM457.94 777.56L458.59 779.29L460.43 779.37L458.99 780.52L459.48 782.3L457.94 781.28L456.39 782.3L456.89 780.52L455.44 779.37L457.29 779.29zM459.74 776.84L460.38 778.57L462.23 778.65L460.78 779.8L461.28 781.59L459.74 780.57L458.19 781.59L458.69 779.8L457.24 778.65L459.09 778.57zM461.53 776.13L462.18 777.86L464.03 777.94L462.58 779.09L463.08 780.87L461.53 779.85L459.99 780.87L460.48 779.09L459.04 777.94L460.89 777.86zM463.33 775.42L463.98 777.15L465.83 777.23L464.38 778.38L464.87 780.17L463.33 779.15L461.79 780.17L462.28 778.38L460.83 777.23L462.68 777.15zM465.13 774.72L465.78 776.45L467.63 776.53L466.18 777.68L466.67 779.47L465.13 778.44L463.59 779.47L464.08 777.68L462.63 776.53L464.48 776.45zM466.93 774.02L467.58 775.75L469.42 775.84L467.98 776.99L468.47 778.77L466.93 777.75L465.38 778.77L465.88 776.99L464.43 775.84L466.28 775.75zM468.73 773.33L469.37 775.06L471.22 775.15L469.77 776.3L470.27 778.08L468.73 777.06L467.18 778.08L467.68 776.3L466.23 775.15L468.08 775.06zM470.52 772.65L471.17 774.38L473.02 774.46L471.57 775.61L472.07 777.4L470.52 776.38L468.98 777.4L469.47 775.61L468.03 774.46L469.88 774.38zM472.32 771.97L472.97 773.7L474.82 773.78L473.37 774.94L473.86 776.72L472.32 775.7L470.78 776.72L471.27 774.94L469.83 773.78L471.67 773.7zM474.12 771.3L474.77 773.03L476.62 773.11L475.17 774.26L475.66 776.05L474.12 775.03L472.58 776.05L473.07 774.26L471.62 773.11L473.47 773.03zM475.92 770.63L476.57 772.37L478.41 772.45L476.97 773.6L477.46 775.38L475.92 774.36L474.37 775.38L474.87 773.6L473.42 772.45L475.27 772.37zM477.72 769.97L478.36 771.71L480.21 771.79L478.76 772.94L479.26 774.72L477.72 773.7L476.17 774.72L476.67 772.94L475.22 771.79L477.07 771.71zM479.51 769.32L480.16 771.05L482.01 771.13L480.56 772.29L481.06 774.07L479.51 773.05L477.97 774.07L478.47 772.29L477.02 771.13L478.87 771.05zM481.31 768.67L481.96 770.41L483.81 770.49L482.36 771.64L482.85 773.42L481.31 772.4L479.77 773.42L480.26 771.64L478.82 770.49L480.66 770.41zM483.11 768.04L483.76 769.77L485.61 769.85L484.16 771L484.65 772.78L483.11 771.76L481.57 772.78L482.06 771L480.61 769.85L482.46 769.77zM484.91 767.4L485.56 769.14L487.4 769.22L485.96 770.37L486.45 772.15L484.91 771.13L483.36 772.15L483.86 770.37L482.41 769.22L484.26 769.14zM486.71 766.78L487.35 768.51L489.2 768.59L487.75 769.75L488.25 771.53L486.71 770.51L485.16 771.53L485.66 769.75L484.21 768.59L486.06 768.51zM488.5 766.16L489.15 767.9L491 767.98L489.55 769.13L490.05 770.91L488.5 769.89L486.96 770.91L487.46 769.13L486.01 767.98L487.86 767.9z" fill="#800080" />
</g>
<rect x="102.7" y="740.15" width="391.55" height="314.85" fill="none" stroke="#000" stroke-width="1.3"/>
<line x1="102.7" y1="1055" x2="102.7" y2="1048.8" stroke="#000" stroke-width="1.3"/>
<line x1="102.7" y1="740.15" x2="102.7" y2="746.35" stroke="#000" stroke-width="1.3"/>
<line x1="231.13" y1="1055" x2="231.13" y2="1048.8" stroke="#000" stroke-width="1.3"/>
<line x1="231.13" y1="740.15" x2="231.13" y2="746.35" stroke="#000" stroke-width="1.3"/>
<line x1="359.56" y1="1055" x2="359.56" y2="1048.8" stroke="#000" stroke-width="1.3"/>
<line x1="359.56" y1="740.15" x2="359.56" y2="746.35" stroke="#000" stroke-width="1.3"/>
<line x1="487.99" y1="1055" x2="487.99" y2="1048.8" stroke="#000" stroke-width="1.3"/>
<line x1="487.99" y1="740.15" x2="487.99" y2="746.35" stroke="#000" stroke-width="1.3"/>
<line x1="166.92" y1="1055" x2="166.92" y2="1051.4" stroke="#000" stroke-width="1.3"/>
<line x1="166.92" y1="740.15" x2="166.92" y2="743.75" stroke="#000" stroke-width="1.3"/>
<line x1="295.35" y1="1055" x2="295.35" y2="1051.4" stroke="#000" stroke-width="1.3"/>
<line x1="295.35" y1="740.15" x2="295.35" y2="743.75" stroke="#000" stroke-width="1.3"/>
<line x1="423.77" y1="1055" x2="423.77" y2="1051.4" stroke="#000" stroke-width="1.3"/>
<line x1="423.77" y1="740.15" x2="423.77" y2="743.75" stroke="#000" stroke-width="1.3"/>
<line x1="102.7" y1="1054.9" x2="108.9" y2="1054.9" stroke="#000" stroke-width="1.3"/>
<line x1="494.25" y1="1054.9" x2="488.05" y2="1054.9" stroke="#000" stroke-width="1.3"/>
<line x1="102.7" y1="959.5" x2="108.9" y2="959.5" stroke="#000" stroke-width="1.3"/>
<line x1="494.25" y1="959.5" x2="488.05" y2="959.5" stroke="#000" stroke-width="1.3"/>
<line x1="102.7" y1="864.1" x2="108.9" y2="864.1" stroke="#000" stroke-width="1.3"/>
<line x1="494.25" y1="864.1" x2="488.05" y2="864.1" stroke="#000" stroke-width="1.3"/>
<line x1="102.7" y1="768.7" x2="108.9" y2="768.7" stroke="#000" stroke-width="1.3"/>
<line x1="494.25" y1="768.7" x2="488.05" y2="768.7" stroke="#000" stroke-width="1.3"/>
<line x1="102.7" y1="1007.2" x2="106.3" y2="1007.2" stroke="#000" stroke-width="1.3"/>
<line x1="494.25" y1="1007.2" x2="490.65" y2="1007.2" stroke="#000" stroke-width="1.3"/>
<line x1="102.7" y1="911.8" x2="106.3" y2="911.8" stroke="#000" stroke-width="1.3"/>
<line x1="494.25" y1="911.8" x2="490.65" y2="911.8" stroke="#000" stroke-width="1.3"/>
<line x1="102.7" y1="816.4" x2="106.3" y2="816.4" stroke="#000" stroke-width="1.3"/>
<line x1="494.25" y1="816.4" x2="490.65" y2="816.4" stroke="#000" stroke-width="1.3"/>
<text x="95.7" y="1060.9" font-size="19.3" text-anchor="end" fill="#000" >0.0</text>
<text x="95.7" y="965.5" font-size="19.3" text-anchor="end" fill="#000" >0.5</text>
<text x="95.7" y="870.1" font-size="19.3" text-anchor="end" fill="#000" >1.0</text>
<text x="95.7" y="774.7" font-size="19.3" text-anchor="end" fill="#000" >1.5</text>
<text x="102.7" y="1077" font-size="19.3" text-anchor="middle" fill="#000" >0</text>
<text x="231.13" y="1077" font-size="19.3" text-anchor="middle" fill="#000" >100</text>
<text x="359.56" y="1077" font-size="19.3" text-anchor="middle" fill="#000" >200</text>
<text x="487.99" y="1077" font-size="19.3" text-anchor="middle" fill="#000" >300</text>
<text x="271.4" y="1113.2" font-size="24.5" text-anchor="start" fill="#000" textLength="55.2" lengthAdjust="spacingAndGlyphs" >T (K)</text>
<text x="110.5" y="774.3" font-size="27" text-anchor="start" fill="#000" >(c)</text>
<text transform="translate(53.7 971.6) rotate(-90)" font-size="24.5" text-anchor="start" textLength="117" lengthAdjust="spacingAndGlyphs">R/R(300K)</text>
<path d="M353 937.8L383.5 937.8" fill="none" stroke="#000000" stroke-width="0.7" />
<path d="M366.3 935.8h4v4h-4z" fill="#000000" />
<text x="387" y="942.6" font-size="13.5" text-anchor="start" fill="#000" >0.00&#160;&#160;-warming</text>
<path d="M353 954.27L383.5 954.27" fill="none" stroke="#ff0000" stroke-width="0.7" />
<path d="M366.3 954.27a2 2 0 1 0 4 0a2 2 0 1 0 -4 0z" fill="#ff0000" />
<text x="387" y="959.07" font-size="13.5" text-anchor="start" fill="#000" >0.010-cooling</text>
<path d="M353 970.74L383.5 970.74" fill="none" stroke="#008000" stroke-width="0.7" />
<path d="M368.3 968.64L370.5 972.44L366.1 972.44z" fill="#008000" />
<text x="387" y="975.54" font-size="13.5" text-anchor="start" fill="#000" >0.019-cooling</text>
<path d="M353 987.21L383.5 987.21" fill="none" stroke="#0000ff" stroke-width="0.7" />
<path d="M368.3 989.31L370.5 985.51L366.1 985.51z" fill="#0000ff" />
<text x="387" y="992.01" font-size="13.5" text-anchor="start" fill="#000" >0.022-cooling</text>
<path d="M353 1003.68L383.5 1003.68" fill="none" stroke="#ff8000" stroke-width="0.7" />
<path d="M366.2 1003.68L370 1001.48L370 1005.88z" fill="#ff8000" />
<text x="387" y="1008.48" font-size="13.5" text-anchor="start" fill="#000" >0.028-cooling</text>
<path d="M353 1020.15L383.5 1020.15" fill="none" stroke="#00ffff" stroke-width="0.7" />
<path d="M368.3 1017.75L370.7 1020.15L368.3 1022.55L365.9 1020.15z" fill="#00ffff" />
<text x="387" y="1024.95" font-size="13.5" text-anchor="start" fill="#000" >0.038-cooling</text>
<path d="M353 1036.62L383.5 1036.62" fill="none" stroke="#800080" stroke-width="0.7" />
<path d="M368.3 1034.12L368.92 1035.77L370.68 1035.85L369.3 1036.94L369.77 1038.64L368.3 1037.67L366.83 1038.64L367.3 1036.94L365.92 1035.85L367.68 1035.77z" fill="#800080" />
<text x="387" y="1041.42" font-size="13.5" text-anchor="start" fill="#000" >0.059-cooling</text>
<clipPath id="cd"><rect x="615.4" y="740" width="300" height="315"/></clipPath>
<path d="M877 740.2H616.1V1054.7H877" fill="none" stroke="#000" stroke-width="1.3" stroke-linejoin="miter"/>
<line x1="616.1" y1="1054.7" x2="616.1" y2="1048.5" stroke="#000" stroke-width="1.3"/>
<line x1="616.1" y1="740.2" x2="616.1" y2="746.4" stroke="#000" stroke-width="1.3"/>
<line x1="746.5" y1="1054.7" x2="746.5" y2="1048.5" stroke="#000" stroke-width="1.3"/>
<line x1="746.5" y1="740.2" x2="746.5" y2="746.4" stroke="#000" stroke-width="1.3"/>
<line x1="681.3" y1="1054.7" x2="681.3" y2="1051.1" stroke="#000" stroke-width="1.3"/>
<line x1="681.3" y1="740.2" x2="681.3" y2="743.8" stroke="#000" stroke-width="1.3"/>
<line x1="811.7" y1="1054.7" x2="811.7" y2="1051.1" stroke="#000" stroke-width="1.3"/>
<line x1="811.7" y1="740.2" x2="811.7" y2="743.8" stroke="#000" stroke-width="1.3"/>
<line x1="616.1" y1="1054.7" x2="622.3" y2="1054.7" stroke="#000" stroke-width="1.3"/>
<line x1="616.1" y1="967.4" x2="622.3" y2="967.4" stroke="#000" stroke-width="1.3"/>
<line x1="616.1" y1="880.1" x2="622.3" y2="880.1" stroke="#000" stroke-width="1.3"/>
<line x1="616.1" y1="792.8" x2="622.3" y2="792.8" stroke="#000" stroke-width="1.3"/>
<line x1="616.1" y1="1011.05" x2="619.7" y2="1011.05" stroke="#000" stroke-width="1.3"/>
<line x1="616.1" y1="923.75" x2="619.7" y2="923.75" stroke="#000" stroke-width="1.3"/>
<line x1="616.1" y1="836.45" x2="619.7" y2="836.45" stroke="#000" stroke-width="1.3"/>
<line x1="616.1" y1="749.15" x2="619.7" y2="749.15" stroke="#000" stroke-width="1.3"/>
<g clip-path="url(#cd)">
<circle cx="616.1" cy="833.7" r="5.2" fill="#ff0000"/>
<circle cx="616.1" cy="829.6" r="4.7" fill="#fff" stroke="#ff0000" stroke-width="1.1"/>
</g>
<rect x="676.4" y="917.1" width="9.8" height="9.8" fill="#000"/>
<rect x="735.08" y="919.72" width="9.8" height="9.8" fill="#000"/>
<rect x="754.64" y="921.29" width="9.8" height="9.8" fill="#000"/>
<rect x="793.76" y="921.29" width="9.8" height="9.8" fill="#000"/>
<rect x="858.96" y="927.58" width="9.8" height="9.8" fill="#000"/>
<text x="608.6" y="1060.7" font-size="19.3" text-anchor="end" fill="#000" >0</text>
<text x="608.6" y="973.4" font-size="19.3" text-anchor="end" fill="#000" >50</text>
<text x="608.6" y="886.1" font-size="19.3" text-anchor="end" fill="#000" >100</text>
<text x="608.6" y="798.8" font-size="19.3" text-anchor="end" fill="#000" >150</text>
<text x="616.1" y="1077" font-size="19.3" text-anchor="middle" fill="#000" >0.00</text>
<text x="746.5" y="1077" font-size="19.3" text-anchor="middle" fill="#000" >0.02</text>
<text x="876.9" y="1077" font-size="19.3" text-anchor="middle" fill="#000" >0.04</text>
<text x="806.8" y="1120.6" font-size="24.5" text-anchor="start" fill="#000" font-style="italic">x</text>
<text x="621.5" y="775.9" font-size="27" text-anchor="start" fill="#000" >(d)</text>
<text transform="translate(562.3 1000.3) rotate(-90)" font-size="24.5" text-anchor="start" textLength="172.5" lengthAdjust="spacingAndGlyphs">Transition T (K)</text>
</svg>
</body>
</html>
